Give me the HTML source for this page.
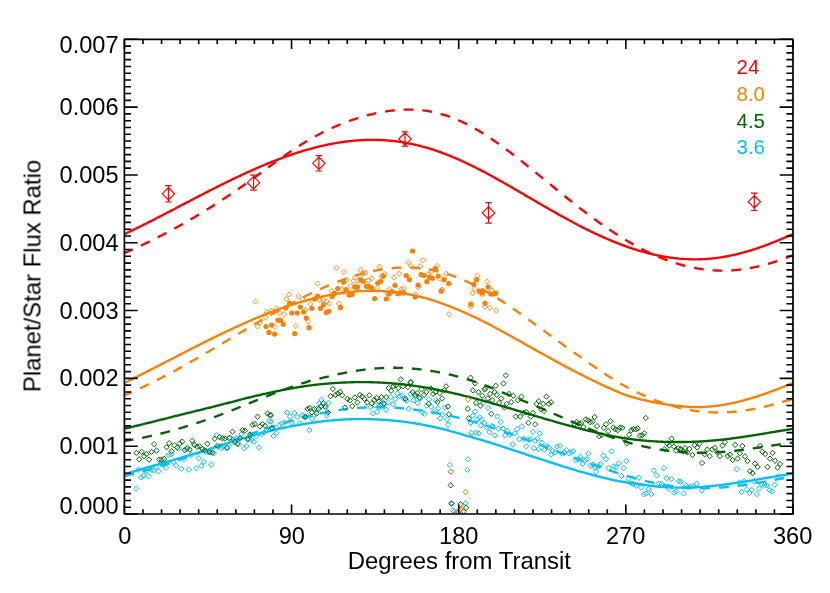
<!DOCTYPE html>
<html><head><meta charset="utf-8"><title>Planet/Star Flux Ratio</title><style>html,body{margin:0;padding:0;background:#fff}svg{display:block}text{font-family:"Liberation Sans",sans-serif}</style></head><body>
<svg width="830" height="593" viewBox="0 0 830 593">
<rect width="830" height="593" fill="#fff"/>
<defs><clipPath id="c"><rect x="124.8" y="39.0" width="667.90" height="474.60"/></clipPath></defs>
<g clip-path="url(#c)">
<path d="M133.4,488.8L136.0,486.1L138.7,488.8L136.0,491.4Z" fill="none" stroke="#00bfff" stroke-width="1.0"/>
<path d="M135.8,469.7L138.5,467.0L141.1,469.7L138.5,472.3Z" fill="none" stroke="#00bfff" stroke-width="1.0"/>
<path d="M138.4,477.3L141.1,474.7L143.7,477.3L141.1,480.0Z" fill="none" stroke="#00bfff" stroke-width="1.0"/>
<path d="M140.8,475.7L143.5,473.1L146.1,475.7L143.5,478.4Z" fill="none" stroke="#00bfff" stroke-width="1.0"/>
<path d="M143.4,471.3L146.1,468.7L148.7,471.3L146.1,474.0Z" fill="none" stroke="#00bfff" stroke-width="1.0"/>
<path d="M145.8,476.3L148.5,473.7L151.1,476.3L148.5,479.0Z" fill="none" stroke="#00bfff" stroke-width="1.0"/>
<path d="M148.5,469.7L151.1,467.0L153.8,469.7L151.1,472.3Z" fill="none" stroke="#00bfff" stroke-width="1.0"/>
<path d="M151.1,470.3L153.7,467.7L156.4,470.3L153.7,473.0Z" fill="none" stroke="#00bfff" stroke-width="1.0"/>
<path d="M153.5,467.3L156.1,464.6L158.8,467.3L156.1,469.9Z" fill="none" stroke="#00bfff" stroke-width="1.0"/>
<path d="M155.9,471.3L158.5,468.7L161.2,471.3L158.5,474.0Z" fill="none" stroke="#00bfff" stroke-width="1.0"/>
<path d="M158.5,463.3L161.1,460.6L163.8,463.3L161.1,465.9Z" fill="none" stroke="#00bfff" stroke-width="1.0"/>
<path d="M160.9,464.3L163.6,461.6L166.2,464.3L163.6,466.9Z" fill="none" stroke="#00bfff" stroke-width="1.0"/>
<path d="M163.5,467.7L166.2,465.0L168.8,467.7L166.2,470.3Z" fill="none" stroke="#00bfff" stroke-width="1.0"/>
<path d="M165.9,455.2L168.6,452.6L171.2,455.2L168.6,457.9Z" fill="none" stroke="#00bfff" stroke-width="1.0"/>
<path d="M168.5,454.2L171.2,451.6L173.8,454.2L171.2,456.9Z" fill="none" stroke="#00bfff" stroke-width="1.0"/>
<path d="M170.9,462.3L173.6,459.6L176.2,462.3L173.6,464.9Z" fill="none" stroke="#00bfff" stroke-width="1.0"/>
<path d="M173.6,465.7L176.2,463.0L178.9,465.7L176.2,468.3Z" fill="none" stroke="#00bfff" stroke-width="1.0"/>
<path d="M176.0,448.8L178.6,446.2L181.3,448.8L178.6,451.5Z" fill="none" stroke="#00bfff" stroke-width="1.0"/>
<path d="M178.6,468.9L181.2,466.2L183.9,468.9L181.2,471.5Z" fill="none" stroke="#00bfff" stroke-width="1.0"/>
<path d="M181.0,459.3L183.6,456.6L186.3,459.3L183.6,461.9Z" fill="none" stroke="#00bfff" stroke-width="1.0"/>
<path d="M183.6,449.2L186.2,446.6L188.9,449.2L186.2,451.9Z" fill="none" stroke="#00bfff" stroke-width="1.0"/>
<path d="M186.0,469.7L188.7,467.0L191.3,469.7L188.7,472.3Z" fill="none" stroke="#00bfff" stroke-width="1.0"/>
<path d="M188.6,454.8L191.3,452.2L193.9,454.8L191.3,457.5Z" fill="none" stroke="#00bfff" stroke-width="1.0"/>
<path d="M191.0,444.2L193.7,441.5L196.3,444.2L193.7,446.8Z" fill="none" stroke="#00bfff" stroke-width="1.0"/>
<path d="M193.6,468.3L196.3,465.6L198.9,468.3L196.3,470.9Z" fill="none" stroke="#00bfff" stroke-width="1.0"/>
<path d="M196.0,458.3L198.7,455.6L201.3,458.3L198.7,460.9Z" fill="none" stroke="#00bfff" stroke-width="1.0"/>
<path d="M198.7,465.9L201.3,463.2L204.0,465.9L201.3,468.5Z" fill="none" stroke="#00bfff" stroke-width="1.0"/>
<path d="M201.1,461.9L203.7,459.2L206.4,461.9L203.7,464.5Z" fill="none" stroke="#00bfff" stroke-width="1.0"/>
<path d="M203.7,452.2L206.3,449.6L209.0,452.2L206.3,454.9Z" fill="none" stroke="#00bfff" stroke-width="1.0"/>
<path d="M206.1,451.8L208.7,449.2L211.4,451.8L208.7,454.5Z" fill="none" stroke="#00bfff" stroke-width="1.0"/>
<path d="M208.7,464.7L211.3,462.0L214.0,464.7L211.3,467.3Z" fill="none" stroke="#00bfff" stroke-width="1.0"/>
<path d="M211.1,453.2L213.8,450.6L216.4,453.2L213.8,455.9Z" fill="none" stroke="#00bfff" stroke-width="1.0"/>
<path d="M213.7,435.2L216.4,432.5L219.0,435.2L216.4,437.8Z" fill="none" stroke="#00bfff" stroke-width="1.0"/>
<path d="M216.1,446.8L218.8,444.2L221.4,446.8L218.8,449.5Z" fill="none" stroke="#00bfff" stroke-width="1.0"/>
<path d="M218.7,448.2L221.4,445.6L224.0,448.2L221.4,450.9Z" fill="none" stroke="#00bfff" stroke-width="1.0"/>
<path d="M221.1,446.8L223.8,444.2L226.4,446.8L223.8,449.5Z" fill="none" stroke="#00bfff" stroke-width="1.0"/>
<path d="M223.8,448.2L226.4,445.6L229.1,448.2L226.4,450.9Z" fill="none" stroke="#00bfff" stroke-width="1.0"/>
<path d="M226.2,438.2L228.8,435.5L231.5,438.2L228.8,440.8Z" fill="none" stroke="#00bfff" stroke-width="1.0"/>
<path d="M228.8,443.2L231.4,440.5L234.1,443.2L231.4,445.8Z" fill="none" stroke="#00bfff" stroke-width="1.0"/>
<path d="M231.2,439.2L233.8,436.5L236.5,439.2L233.8,441.8Z" fill="none" stroke="#00bfff" stroke-width="1.0"/>
<path d="M233.8,438.2L236.4,435.5L239.1,438.2L236.4,440.8Z" fill="none" stroke="#00bfff" stroke-width="1.0"/>
<path d="M236.2,444.2L238.9,441.5L241.5,444.2L238.9,446.8Z" fill="none" stroke="#00bfff" stroke-width="1.0"/>
<path d="M238.8,434.2L241.5,431.5L244.1,434.2L241.5,436.8Z" fill="none" stroke="#00bfff" stroke-width="1.0"/>
<path d="M241.2,448.2L243.9,445.6L246.5,448.2L243.9,450.9Z" fill="none" stroke="#00bfff" stroke-width="1.0"/>
<path d="M243.8,446.2L246.5,443.6L249.1,446.2L246.5,448.9Z" fill="none" stroke="#00bfff" stroke-width="1.0"/>
<path d="M246.2,439.2L248.9,436.5L251.5,439.2L248.9,441.8Z" fill="none" stroke="#00bfff" stroke-width="1.0"/>
<path d="M248.9,440.2L251.5,437.5L254.2,440.2L251.5,442.8Z" fill="none" stroke="#00bfff" stroke-width="1.0"/>
<path d="M251.3,441.8L253.9,439.1L256.6,441.8L253.9,444.4Z" fill="none" stroke="#00bfff" stroke-width="1.0"/>
<path d="M253.9,436.2L256.5,433.5L259.2,436.2L256.5,438.8Z" fill="none" stroke="#00bfff" stroke-width="1.0"/>
<path d="M256.3,447.6L258.9,445.0L261.6,447.6L258.9,450.3Z" fill="none" stroke="#00bfff" stroke-width="1.0"/>
<path d="M258.9,434.2L261.6,431.5L264.2,434.2L261.6,436.8Z" fill="none" stroke="#00bfff" stroke-width="1.0"/>
<path d="M261.3,432.6L264.0,429.9L266.6,432.6L264.0,435.2Z" fill="none" stroke="#00bfff" stroke-width="1.0"/>
<path d="M263.9,430.1L266.6,427.5L269.2,430.1L266.6,432.8Z" fill="none" stroke="#00bfff" stroke-width="1.0"/>
<path d="M266.3,421.1L269.0,418.5L271.6,421.1L269.0,423.8Z" fill="none" stroke="#00bfff" stroke-width="1.0"/>
<path d="M268.3,421.5L270.9,418.9L273.6,421.5L270.9,424.2Z" fill="none" stroke="#00bfff" stroke-width="1.0"/>
<path d="M269.2,427.8L271.8,425.2L274.5,427.8L271.8,430.5Z" fill="none" stroke="#00bfff" stroke-width="1.0"/>
<path d="M271.0,436.0L273.6,433.3L276.3,436.0L273.6,438.6Z" fill="none" stroke="#00bfff" stroke-width="1.0"/>
<path d="M273.7,433.3L276.3,430.6L279.0,433.3L276.3,435.9Z" fill="none" stroke="#00bfff" stroke-width="1.0"/>
<path d="M276.4,425.1L279.0,422.5L281.7,425.1L279.0,427.8Z" fill="none" stroke="#00bfff" stroke-width="1.0"/>
<path d="M279.1,423.3L281.7,420.7L284.4,423.3L281.7,426.0Z" fill="none" stroke="#00bfff" stroke-width="1.0"/>
<path d="M281.8,422.4L284.5,419.8L287.1,422.4L284.5,425.1Z" fill="none" stroke="#00bfff" stroke-width="1.0"/>
<path d="M284.5,412.5L287.2,409.8L289.8,412.5L287.2,415.1Z" fill="none" stroke="#00bfff" stroke-width="1.0"/>
<path d="M287.2,416.6L289.9,414.0L292.5,416.6L289.9,419.3Z" fill="none" stroke="#00bfff" stroke-width="1.0"/>
<path d="M289.0,422.4L291.7,419.8L294.3,422.4L291.7,425.1Z" fill="none" stroke="#00bfff" stroke-width="1.0"/>
<path d="M291.7,413.0L294.4,410.4L297.0,413.0L294.4,415.7Z" fill="none" stroke="#00bfff" stroke-width="1.0"/>
<path d="M294.5,417.0L297.1,414.3L299.8,417.0L297.1,419.6Z" fill="none" stroke="#00bfff" stroke-width="1.0"/>
<path d="M297.2,423.3L299.8,420.7L302.5,423.3L299.8,426.0Z" fill="none" stroke="#00bfff" stroke-width="1.0"/>
<path d="M299.9,415.2L302.5,412.5L305.2,415.2L302.5,417.8Z" fill="none" stroke="#00bfff" stroke-width="1.0"/>
<path d="M301.7,417.0L304.3,414.3L307.0,417.0L304.3,419.6Z" fill="none" stroke="#00bfff" stroke-width="1.0"/>
<path d="M304.4,416.1L307.1,413.4L309.7,416.1L307.1,418.7Z" fill="none" stroke="#00bfff" stroke-width="1.0"/>
<path d="M306.7,430.0L309.4,427.4L312.0,430.0L309.4,432.7Z" fill="none" stroke="#00bfff" stroke-width="1.0"/>
<path d="M309.3,418.8L311.9,416.1L314.6,418.8L311.9,421.4Z" fill="none" stroke="#00bfff" stroke-width="1.0"/>
<path d="M311.6,415.2L314.3,412.5L316.9,415.2L314.3,417.8Z" fill="none" stroke="#00bfff" stroke-width="1.0"/>
<path d="M314.0,408.9L316.6,406.2L319.3,408.9L316.6,411.5Z" fill="none" stroke="#00bfff" stroke-width="1.0"/>
<path d="M316.5,403.4L319.2,400.8L321.8,403.4L319.2,406.1Z" fill="none" stroke="#00bfff" stroke-width="1.0"/>
<path d="M318.9,399.8L321.5,397.2L324.2,399.8L321.5,402.5Z" fill="none" stroke="#00bfff" stroke-width="1.0"/>
<path d="M321.6,406.1L324.2,403.5L326.9,406.1L324.2,408.8Z" fill="none" stroke="#00bfff" stroke-width="1.0"/>
<path d="M324.3,415.2L326.9,412.5L329.6,415.2L326.9,417.8Z" fill="none" stroke="#00bfff" stroke-width="1.0"/>
<path d="M326.1,403.1L328.7,400.4L331.4,403.1L328.7,405.7Z" fill="none" stroke="#00bfff" stroke-width="1.0"/>
<path d="M367.7,407.1L370.3,404.4L373.0,407.1L370.3,409.7Z" fill="none" stroke="#00bfff" stroke-width="1.0"/>
<path d="M370.0,413.4L372.7,410.7L375.3,413.4L372.7,416.0Z" fill="none" stroke="#00bfff" stroke-width="1.0"/>
<path d="M372.2,405.2L374.8,402.6L377.5,405.2L374.8,407.9Z" fill="none" stroke="#00bfff" stroke-width="1.0"/>
<path d="M374.5,411.9L377.2,409.3L379.8,411.9L377.2,414.6Z" fill="none" stroke="#00bfff" stroke-width="1.0"/>
<path d="M376.7,407.1L379.3,404.4L382.0,407.1L379.3,409.7Z" fill="none" stroke="#00bfff" stroke-width="1.0"/>
<path d="M379.0,402.2L381.7,399.5L384.3,402.2L381.7,404.8Z" fill="none" stroke="#00bfff" stroke-width="1.0"/>
<path d="M381.2,404.3L383.9,401.7L386.5,404.3L383.9,407.0Z" fill="none" stroke="#00bfff" stroke-width="1.0"/>
<path d="M383.4,409.8L386.0,407.1L388.7,409.8L386.0,412.4Z" fill="none" stroke="#00bfff" stroke-width="1.0"/>
<path d="M385.7,402.5L388.4,399.9L391.0,402.5L388.4,405.2Z" fill="none" stroke="#00bfff" stroke-width="1.0"/>
<path d="M388.1,397.1L390.7,394.5L393.4,397.1L390.7,399.8Z" fill="none" stroke="#00bfff" stroke-width="1.0"/>
<path d="M390.2,404.3L392.9,401.7L395.5,404.3L392.9,407.0Z" fill="none" stroke="#00bfff" stroke-width="1.0"/>
<path d="M392.6,398.9L395.2,396.3L397.9,398.9L395.2,401.6Z" fill="none" stroke="#00bfff" stroke-width="1.0"/>
<path d="M394.8,393.5L397.4,390.8L400.1,393.5L397.4,396.1Z" fill="none" stroke="#00bfff" stroke-width="1.0"/>
<path d="M397.1,396.2L399.8,393.6L402.4,396.2L399.8,398.9Z" fill="none" stroke="#00bfff" stroke-width="1.0"/>
<path d="M399.3,395.3L401.9,392.7L404.6,395.3L401.9,398.0Z" fill="none" stroke="#00bfff" stroke-width="1.0"/>
<path d="M401.5,398.9L404.1,396.3L406.8,398.9L404.1,401.6Z" fill="none" stroke="#00bfff" stroke-width="1.0"/>
<path d="M403.8,400.7L406.5,398.1L409.1,400.7L406.5,403.4Z" fill="none" stroke="#00bfff" stroke-width="1.0"/>
<path d="M406.2,408.9L408.8,406.2L411.5,408.9L408.8,411.5Z" fill="none" stroke="#00bfff" stroke-width="1.0"/>
<path d="M408.3,393.9L410.9,391.3L413.6,393.9L410.9,396.6Z" fill="none" stroke="#00bfff" stroke-width="1.0"/>
<path d="M410.6,400.2L413.3,397.6L415.9,400.2L413.3,402.9Z" fill="none" stroke="#00bfff" stroke-width="1.0"/>
<path d="M412.8,396.6L415.4,394.0L418.1,396.6L415.4,399.3Z" fill="none" stroke="#00bfff" stroke-width="1.0"/>
<path d="M414.9,403.0L417.6,400.3L420.2,403.0L417.6,405.6Z" fill="none" stroke="#00bfff" stroke-width="1.0"/>
<path d="M417.3,398.4L419.9,395.8L422.6,398.4L419.9,401.1Z" fill="none" stroke="#00bfff" stroke-width="1.0"/>
<path d="M419.6,412.4L422.3,409.7L424.9,412.4L422.3,415.0Z" fill="none" stroke="#00bfff" stroke-width="1.0"/>
<path d="M421.8,413.8L424.5,411.1L427.1,413.8L424.5,416.4Z" fill="none" stroke="#00bfff" stroke-width="1.0"/>
<path d="M424.0,405.7L426.6,403.0L429.3,405.7L426.6,408.3Z" fill="none" stroke="#00bfff" stroke-width="1.0"/>
<path d="M426.3,399.3L429.0,396.7L431.6,399.3L429.0,402.0Z" fill="none" stroke="#00bfff" stroke-width="1.0"/>
<path d="M428.7,406.6L431.3,403.9L434.0,406.6L431.3,409.2Z" fill="none" stroke="#00bfff" stroke-width="1.0"/>
<path d="M430.8,412.0L433.5,409.3L436.1,412.0L433.5,414.6Z" fill="none" stroke="#00bfff" stroke-width="1.0"/>
<path d="M433.2,400.2L435.8,397.6L438.5,400.2L435.8,402.9Z" fill="none" stroke="#00bfff" stroke-width="1.0"/>
<path d="M435.4,408.4L438.0,405.7L440.7,408.4L438.0,411.0Z" fill="none" stroke="#00bfff" stroke-width="1.0"/>
<path d="M437.7,418.3L440.4,415.7L443.0,418.3L440.4,421.0Z" fill="none" stroke="#00bfff" stroke-width="1.0"/>
<path d="M439.9,414.7L442.5,412.1L445.2,414.7L442.5,417.4Z" fill="none" stroke="#00bfff" stroke-width="1.0"/>
<path d="M442.1,407.5L444.7,404.8L447.4,407.5L444.7,410.1Z" fill="none" stroke="#00bfff" stroke-width="1.0"/>
<path d="M444.4,419.2L447.1,416.6L449.7,419.2L447.1,421.9Z" fill="none" stroke="#00bfff" stroke-width="1.0"/>
<path d="M445.3,424.6L448.0,422.0L450.6,424.6L448.0,427.3Z" fill="none" stroke="#00bfff" stroke-width="1.0"/>
<path d="M467.9,422.8L470.5,420.2L473.2,422.8L470.5,425.5Z" fill="none" stroke="#00bfff" stroke-width="1.0"/>
<path d="M468.8,432.8L471.4,430.1L474.1,432.8L471.4,435.4Z" fill="none" stroke="#00bfff" stroke-width="1.0"/>
<path d="M470.2,415.6L472.9,413.0L475.5,415.6L472.9,418.3Z" fill="none" stroke="#00bfff" stroke-width="1.0"/>
<path d="M472.4,411.6L475.1,409.0L477.7,411.6L475.1,414.3Z" fill="none" stroke="#00bfff" stroke-width="1.0"/>
<path d="M473.3,432.8L476.0,430.1L478.6,432.8L476.0,435.4Z" fill="none" stroke="#00bfff" stroke-width="1.0"/>
<path d="M474.6,419.2L477.2,416.6L479.9,419.2L477.2,421.9Z" fill="none" stroke="#00bfff" stroke-width="1.0"/>
<path d="M476.0,433.3L478.7,430.7L481.3,433.3L478.7,436.0Z" fill="none" stroke="#00bfff" stroke-width="1.0"/>
<path d="M476.9,417.4L479.6,414.8L482.2,417.4L479.6,420.1Z" fill="none" stroke="#00bfff" stroke-width="1.0"/>
<path d="M478.2,425.5L480.8,422.9L483.5,425.5L480.8,428.2Z" fill="none" stroke="#00bfff" stroke-width="1.0"/>
<path d="M479.3,420.1L481.9,417.5L484.6,420.1L481.9,422.8Z" fill="none" stroke="#00bfff" stroke-width="1.0"/>
<path d="M480.5,403.0L483.2,400.3L485.8,403.0L483.2,405.6Z" fill="none" stroke="#00bfff" stroke-width="1.0"/>
<path d="M481.8,422.8L484.5,420.2L487.1,422.8L484.5,425.5Z" fill="none" stroke="#00bfff" stroke-width="1.0"/>
<path d="M484.2,427.4L486.8,424.7L489.5,427.4L486.8,430.0Z" fill="none" stroke="#00bfff" stroke-width="1.0"/>
<path d="M485.4,408.0L488.1,405.4L490.7,408.0L488.1,410.7Z" fill="none" stroke="#00bfff" stroke-width="1.0"/>
<path d="M486.9,432.2L489.5,429.6L492.2,432.2L489.5,434.9Z" fill="none" stroke="#00bfff" stroke-width="1.0"/>
<path d="M489.0,426.4L491.7,423.8L494.3,426.4L491.7,429.1Z" fill="none" stroke="#00bfff" stroke-width="1.0"/>
<path d="M490.1,426.4L492.8,423.8L495.4,426.4L492.8,429.1Z" fill="none" stroke="#00bfff" stroke-width="1.0"/>
<path d="M492.3,435.5L494.9,432.8L497.6,435.5L494.9,438.1Z" fill="none" stroke="#00bfff" stroke-width="1.0"/>
<path d="M494.6,416.5L497.3,413.9L499.9,416.5L497.3,419.2Z" fill="none" stroke="#00bfff" stroke-width="1.0"/>
<path d="M495.9,428.6L498.6,426.0L501.2,428.6L498.6,431.3Z" fill="none" stroke="#00bfff" stroke-width="1.0"/>
<path d="M498.1,421.9L500.7,419.3L503.4,421.9L500.7,424.6Z" fill="none" stroke="#00bfff" stroke-width="1.0"/>
<path d="M500.4,428.6L503.1,426.0L505.7,428.6L503.1,431.3Z" fill="none" stroke="#00bfff" stroke-width="1.0"/>
<path d="M502.6,435.5L505.2,432.8L507.9,435.5L505.2,438.1Z" fill="none" stroke="#00bfff" stroke-width="1.0"/>
<path d="M504.9,431.0L507.6,428.3L510.2,431.0L507.6,433.6Z" fill="none" stroke="#00bfff" stroke-width="1.0"/>
<path d="M507.1,434.6L509.8,431.9L512.4,434.6L509.8,437.2Z" fill="none" stroke="#00bfff" stroke-width="1.0"/>
<path d="M510.0,444.2L512.7,441.5L515.3,444.2L512.7,446.8Z" fill="none" stroke="#00bfff" stroke-width="1.0"/>
<path d="M512.2,433.3L514.8,430.7L517.5,433.3L514.8,436.0Z" fill="none" stroke="#00bfff" stroke-width="1.0"/>
<path d="M514.5,429.2L517.2,426.5L519.8,429.2L517.2,431.8Z" fill="none" stroke="#00bfff" stroke-width="1.0"/>
<path d="M516.7,439.1L519.3,436.5L522.0,439.1L519.3,441.8Z" fill="none" stroke="#00bfff" stroke-width="1.0"/>
<path d="M519.0,426.4L521.7,423.8L524.3,426.4L521.7,429.1Z" fill="none" stroke="#00bfff" stroke-width="1.0"/>
<path d="M521.2,438.7L523.9,436.1L526.5,438.7L523.9,441.4Z" fill="none" stroke="#00bfff" stroke-width="1.0"/>
<path d="M523.6,446.3L526.2,443.7L528.9,446.3L526.2,449.0Z" fill="none" stroke="#00bfff" stroke-width="1.0"/>
<path d="M525.7,439.5L528.4,436.8L531.0,439.5L528.4,442.1Z" fill="none" stroke="#00bfff" stroke-width="1.0"/>
<path d="M528.1,439.1L530.7,436.5L533.4,439.1L530.7,441.8Z" fill="none" stroke="#00bfff" stroke-width="1.0"/>
<path d="M530.2,431.9L532.9,429.2L535.5,431.9L532.9,434.5Z" fill="none" stroke="#00bfff" stroke-width="1.0"/>
<path d="M531.2,448.1L533.8,445.5L536.5,448.1L533.8,450.8Z" fill="none" stroke="#00bfff" stroke-width="1.0"/>
<path d="M532.6,440.9L535.2,438.3L537.9,440.9L535.2,443.6Z" fill="none" stroke="#00bfff" stroke-width="1.0"/>
<path d="M534.8,438.7L537.4,436.1L540.1,438.7L537.4,441.4Z" fill="none" stroke="#00bfff" stroke-width="1.0"/>
<path d="M536.0,449.0L538.7,446.4L541.3,449.0L538.7,451.7Z" fill="none" stroke="#00bfff" stroke-width="1.0"/>
<path d="M537.1,433.3L539.8,430.7L542.4,433.3L539.8,436.0Z" fill="none" stroke="#00bfff" stroke-width="1.0"/>
<path d="M539.3,442.7L541.9,440.1L544.6,442.7L541.9,445.4Z" fill="none" stroke="#00bfff" stroke-width="1.0"/>
<path d="M541.6,449.9L544.3,447.3L546.9,449.9L544.3,452.6Z" fill="none" stroke="#00bfff" stroke-width="1.0"/>
<path d="M543.8,446.3L546.5,443.7L549.1,446.3L546.5,449.0Z" fill="none" stroke="#00bfff" stroke-width="1.0"/>
<path d="M546.2,447.2L548.8,444.6L551.5,447.2L548.8,449.9Z" fill="none" stroke="#00bfff" stroke-width="1.0"/>
<path d="M548.3,454.6L550.9,452.0L553.6,454.6L550.9,457.3Z" fill="none" stroke="#00bfff" stroke-width="1.0"/>
<path d="M550.1,451.0L552.7,448.4L555.4,451.0L552.7,453.7Z" fill="none" stroke="#00bfff" stroke-width="1.0"/>
<path d="M552.4,452.5L555.1,449.8L557.7,452.5L555.1,455.1Z" fill="none" stroke="#00bfff" stroke-width="1.0"/>
<path d="M554.6,446.5L557.2,443.9L559.9,446.5L557.2,449.2Z" fill="none" stroke="#00bfff" stroke-width="1.0"/>
<path d="M557.3,446.0L559.9,443.3L562.6,446.0L559.9,448.6Z" fill="none" stroke="#00bfff" stroke-width="1.0"/>
<path d="M559.6,453.7L562.3,451.1L564.9,453.7L562.3,456.4Z" fill="none" stroke="#00bfff" stroke-width="1.0"/>
<path d="M561.8,452.5L564.5,449.8L567.1,452.5L564.5,455.1Z" fill="none" stroke="#00bfff" stroke-width="1.0"/>
<path d="M564.0,450.1L566.6,447.5L569.3,450.1L566.6,452.8Z" fill="none" stroke="#00bfff" stroke-width="1.0"/>
<path d="M566.3,453.2L569.0,450.5L571.6,453.2L569.0,455.8Z" fill="none" stroke="#00bfff" stroke-width="1.0"/>
<path d="M568.7,452.5L571.3,449.8L574.0,452.5L571.3,455.1Z" fill="none" stroke="#00bfff" stroke-width="1.0"/>
<path d="M570.8,451.0L573.5,448.4L576.1,451.0L573.5,453.7Z" fill="none" stroke="#00bfff" stroke-width="1.0"/>
<path d="M573.2,460.1L575.8,457.4L578.5,460.1L575.8,462.7Z" fill="none" stroke="#00bfff" stroke-width="1.0"/>
<path d="M575.4,459.2L578.0,456.5L580.7,459.2L578.0,461.8Z" fill="none" stroke="#00bfff" stroke-width="1.0"/>
<path d="M577.7,456.8L580.4,454.2L583.0,456.8L580.4,459.5Z" fill="none" stroke="#00bfff" stroke-width="1.0"/>
<path d="M579.9,464.0L582.5,461.4L585.2,464.0L582.5,466.7Z" fill="none" stroke="#00bfff" stroke-width="1.0"/>
<path d="M582.2,460.4L584.9,457.8L587.5,460.4L584.9,463.1Z" fill="none" stroke="#00bfff" stroke-width="1.0"/>
<path d="M584.4,459.2L587.1,456.5L589.7,459.2L587.1,461.8Z" fill="none" stroke="#00bfff" stroke-width="1.0"/>
<path d="M585.7,453.7L588.3,451.1L591.0,453.7L588.3,456.4Z" fill="none" stroke="#00bfff" stroke-width="1.0"/>
<path d="M588.0,465.5L590.7,462.8L593.3,465.5L590.7,468.1Z" fill="none" stroke="#00bfff" stroke-width="1.0"/>
<path d="M590.4,464.6L593.0,461.9L595.7,464.6L593.0,467.2Z" fill="none" stroke="#00bfff" stroke-width="1.0"/>
<path d="M592.5,467.3L595.2,464.6L597.8,467.3L595.2,469.9Z" fill="none" stroke="#00bfff" stroke-width="1.0"/>
<path d="M593.4,471.8L596.1,469.2L598.7,471.8L596.1,474.5Z" fill="none" stroke="#00bfff" stroke-width="1.0"/>
<path d="M595.8,466.4L598.4,463.7L601.1,466.4L598.4,469.0Z" fill="none" stroke="#00bfff" stroke-width="1.0"/>
<path d="M598.0,464.0L600.6,461.4L603.3,464.0L600.6,466.7Z" fill="none" stroke="#00bfff" stroke-width="1.0"/>
<path d="M600.7,455.5L603.3,452.9L606.0,455.5L603.3,458.2Z" fill="none" stroke="#00bfff" stroke-width="1.0"/>
<path d="M603.4,459.2L606.0,456.5L608.7,459.2L606.0,461.8Z" fill="none" stroke="#00bfff" stroke-width="1.0"/>
<path d="M606.1,468.2L608.7,465.5L611.4,468.2L608.7,470.8Z" fill="none" stroke="#00bfff" stroke-width="1.0"/>
<path d="M608.8,451.4L611.4,448.7L614.1,451.4L611.4,454.0Z" fill="none" stroke="#00bfff" stroke-width="1.0"/>
<path d="M611.0,466.4L613.6,463.7L616.3,466.4L613.6,469.0Z" fill="none" stroke="#00bfff" stroke-width="1.0"/>
<path d="M613.3,467.3L616.0,464.6L618.6,467.3L616.0,469.9Z" fill="none" stroke="#00bfff" stroke-width="1.0"/>
<path d="M616.0,463.3L618.7,460.7L621.3,463.3L618.7,466.0Z" fill="none" stroke="#00bfff" stroke-width="1.0"/>
<path d="M618.7,476.0L621.4,473.3L624.0,476.0L621.4,478.6Z" fill="none" stroke="#00bfff" stroke-width="1.0"/>
<path d="M621.1,468.2L623.7,465.5L626.4,468.2L623.7,470.8Z" fill="none" stroke="#00bfff" stroke-width="1.0"/>
<path d="M623.6,461.0L626.3,458.3L628.9,461.0L626.3,463.6Z" fill="none" stroke="#00bfff" stroke-width="1.0"/>
<path d="M626.0,478.5L628.6,475.8L631.3,478.5L628.6,481.1Z" fill="none" stroke="#00bfff" stroke-width="1.0"/>
<path d="M628.7,483.6L631.3,480.9L634.0,483.6L631.3,486.2Z" fill="none" stroke="#00bfff" stroke-width="1.0"/>
<path d="M630.8,483.9L633.5,481.3L636.1,483.9L633.5,486.6Z" fill="none" stroke="#00bfff" stroke-width="1.0"/>
<path d="M633.7,485.7L636.4,483.1L639.0,485.7L636.4,488.4Z" fill="none" stroke="#00bfff" stroke-width="1.0"/>
<path d="M636.3,477.8L638.9,475.1L641.6,477.8L638.9,480.4Z" fill="none" stroke="#00bfff" stroke-width="1.0"/>
<path d="M638.6,487.5L641.3,484.9L643.9,487.5L641.3,490.2Z" fill="none" stroke="#00bfff" stroke-width="1.0"/>
<path d="M641.0,494.4L643.6,491.8L646.3,494.4L643.6,497.1Z" fill="none" stroke="#00bfff" stroke-width="1.0"/>
<path d="M643.1,493.5L645.8,490.8L648.4,493.5L645.8,496.1Z" fill="none" stroke="#00bfff" stroke-width="1.0"/>
<path d="M645.8,489.0L648.5,486.3L651.1,489.0L648.5,491.6Z" fill="none" stroke="#00bfff" stroke-width="1.0"/>
<path d="M648.6,494.0L651.2,491.4L653.9,494.0L651.2,496.7Z" fill="none" stroke="#00bfff" stroke-width="1.0"/>
<path d="M651.3,470.5L653.9,467.9L656.6,470.5L653.9,473.2Z" fill="none" stroke="#00bfff" stroke-width="1.0"/>
<path d="M654.0,475.4L656.6,472.8L659.3,475.4L656.6,478.1Z" fill="none" stroke="#00bfff" stroke-width="1.0"/>
<path d="M656.7,483.6L659.3,480.9L662.0,483.6L659.3,486.2Z" fill="none" stroke="#00bfff" stroke-width="1.0"/>
<path d="M659.0,483.9L661.7,481.3L664.3,483.9L661.7,486.6Z" fill="none" stroke="#00bfff" stroke-width="1.0"/>
<path d="M661.2,468.2L663.9,465.5L666.5,468.2L663.9,470.8Z" fill="none" stroke="#00bfff" stroke-width="1.0"/>
<path d="M663.9,478.1L666.6,475.5L669.2,478.1L666.6,480.8Z" fill="none" stroke="#00bfff" stroke-width="1.0"/>
<path d="M666.3,489.0L668.9,486.3L671.6,489.0L668.9,491.6Z" fill="none" stroke="#00bfff" stroke-width="1.0"/>
<path d="M668.8,479.0L671.5,476.4L674.1,479.0L671.5,481.7Z" fill="none" stroke="#00bfff" stroke-width="1.0"/>
<path d="M671.2,492.6L673.8,489.9L676.5,492.6L673.8,495.2Z" fill="none" stroke="#00bfff" stroke-width="1.0"/>
<path d="M673.5,491.7L676.2,489.0L678.8,491.7L676.2,494.3Z" fill="none" stroke="#00bfff" stroke-width="1.0"/>
<path d="M676.0,481.4L678.7,478.7L681.3,481.4L678.7,484.0Z" fill="none" stroke="#00bfff" stroke-width="1.0"/>
<path d="M678.1,481.8L680.7,479.2L683.4,481.8L680.7,484.5Z" fill="none" stroke="#00bfff" stroke-width="1.0"/>
<path d="M681.0,493.4L683.6,490.8L686.3,493.4L683.6,496.1Z" fill="none" stroke="#00bfff" stroke-width="1.0"/>
<path d="M683.2,485.4L685.8,482.8L688.5,485.4L685.8,488.1Z" fill="none" stroke="#00bfff" stroke-width="1.0"/>
<path d="M685.3,486.9L688.0,484.3L690.6,486.9L688.0,489.6Z" fill="none" stroke="#00bfff" stroke-width="1.0"/>
<path d="M688.2,486.9L690.9,484.3L693.5,486.9L690.9,489.6Z" fill="none" stroke="#00bfff" stroke-width="1.0"/>
<path d="M691.1,486.2L693.8,483.5L696.4,486.2L693.8,488.8Z" fill="none" stroke="#00bfff" stroke-width="1.0"/>
<path d="M694.0,483.7L696.7,481.1L699.3,483.7L696.7,486.4Z" fill="none" stroke="#00bfff" stroke-width="1.0"/>
<path d="M699.1,490.5L701.8,487.9L704.4,490.5L701.8,493.2Z" fill="none" stroke="#00bfff" stroke-width="1.0"/>
<path d="M734.2,469.2L736.9,466.5L739.5,469.2L736.9,471.8Z" fill="none" stroke="#00bfff" stroke-width="1.0"/>
<path d="M736.8,482.5L739.5,479.9L742.1,482.5L739.5,485.2Z" fill="none" stroke="#00bfff" stroke-width="1.0"/>
<path d="M739.0,492.0L741.7,489.3L744.3,492.0L741.7,494.6Z" fill="none" stroke="#00bfff" stroke-width="1.0"/>
<path d="M741.6,481.1L744.3,478.4L746.9,481.1L744.3,483.7Z" fill="none" stroke="#00bfff" stroke-width="1.0"/>
<path d="M744.1,489.5L746.7,486.9L749.4,489.5L746.7,492.2Z" fill="none" stroke="#00bfff" stroke-width="1.0"/>
<path d="M746.7,493.0L749.4,490.3L752.0,493.0L749.4,495.6Z" fill="none" stroke="#00bfff" stroke-width="1.0"/>
<path d="M749.2,490.1L751.8,487.4L754.5,490.1L751.8,492.7Z" fill="none" stroke="#00bfff" stroke-width="1.0"/>
<path d="M751.6,481.1L754.3,478.4L756.9,481.1L754.3,483.7Z" fill="none" stroke="#00bfff" stroke-width="1.0"/>
<path d="M754.3,494.2L756.9,491.5L759.6,494.2L756.9,496.8Z" fill="none" stroke="#00bfff" stroke-width="1.0"/>
<path d="M756.7,488.4L759.4,485.7L762.0,488.4L759.4,491.0Z" fill="none" stroke="#00bfff" stroke-width="1.0"/>
<path d="M759.3,484.7L762.0,482.1L764.6,484.7L762.0,487.4Z" fill="none" stroke="#00bfff" stroke-width="1.0"/>
<path d="M761.9,485.2L764.6,482.5L767.2,485.2L764.6,487.8Z" fill="none" stroke="#00bfff" stroke-width="1.0"/>
<path d="M764.4,485.4L767.1,482.8L769.7,485.4L767.1,488.1Z" fill="none" stroke="#00bfff" stroke-width="1.0"/>
<path d="M767.0,490.1L769.7,487.4L772.3,490.1L769.7,492.7Z" fill="none" stroke="#00bfff" stroke-width="1.0"/>
<path d="M769.5,491.3L772.1,488.6L774.8,491.3L772.1,493.9Z" fill="none" stroke="#00bfff" stroke-width="1.0"/>
<path d="M772.0,484.7L774.6,482.1L777.3,484.7L774.6,487.4Z" fill="none" stroke="#00bfff" stroke-width="1.0"/>
<path d="M776.0,476.7L778.7,474.1L781.3,476.7L778.7,479.4Z" fill="none" stroke="#00bfff" stroke-width="1.0"/>
<path d="M447.2,465.0L449.8,462.4L452.4,465.0L449.8,467.6Z" fill="none" stroke="#00bfff" stroke-width="1.0"/>
<path d="M448.0,471.7L450.6,469.1L453.2,471.7L450.6,474.3Z" fill="none" stroke="#00bfff" stroke-width="1.0"/>
<path d="M449.2,503.5L451.9,500.9L454.5,503.5L451.9,506.1Z" fill="none" stroke="#00bfff" stroke-width="1.0"/>
<path d="M465.4,459.2L468.0,456.6L470.6,459.2L468.0,461.8Z" fill="none" stroke="#00bfff" stroke-width="1.0"/>
<path d="M464.9,469.8L467.5,467.2L470.1,469.8L467.5,472.4Z" fill="none" stroke="#00bfff" stroke-width="1.0"/>
<path d="M463.1,503.1L465.7,500.5L468.3,503.1L465.7,505.8Z" fill="none" stroke="#00bfff" stroke-width="1.0"/>
<path d="M450.4,510.2L453.0,507.6L455.6,510.2L453.0,512.9Z" fill="none" stroke="#00bfff" stroke-width="1.0"/>
<path d="M454.0,512.0L456.6,509.4L459.2,512.0L456.6,514.6Z" fill="none" stroke="#00bfff" stroke-width="1.0"/>
<path d="M124.80,474.22 L125.73,473.92 L126.66,473.63 L127.58,473.33 L128.51,473.04 L129.44,472.75 L130.37,472.46 L131.29,472.17 L132.22,471.88 L133.15,471.60 L134.08,471.31 L135.00,471.03 L135.93,470.75 L136.86,470.48 L137.79,470.20 L138.71,469.92 L139.64,469.65 L140.57,469.37 L141.50,469.10 L142.43,468.83 L143.35,468.56 L144.28,468.29 L145.21,468.02 L146.14,467.75 L147.06,467.48 L147.99,467.21 L148.92,466.95 L149.85,466.68 L150.77,466.41 L151.70,466.15 L152.63,465.88 L153.56,465.62 L154.48,465.35 L155.41,465.09 L156.34,464.82 L157.27,464.56 L158.19,464.29 L159.12,464.03 L160.05,463.76 L160.98,463.50 L161.91,463.23 L162.83,462.97 L163.76,462.70 L164.69,462.44 L165.62,462.17 L166.54,461.91 L167.47,461.64 L168.40,461.37 L169.33,461.10 L170.25,460.84 L171.18,460.57 L172.11,460.30 L173.04,460.03 L173.96,459.76 L174.89,459.49 L175.82,459.22 L176.75,458.95 L177.68,458.67 L178.60,458.40 L179.53,458.13 L180.46,457.85 L181.39,457.58 L182.31,457.30 L183.24,457.03 L184.17,456.75 L185.10,456.47 L186.02,456.19 L186.95,455.91 L187.88,455.63 L188.81,455.35 L189.73,455.07 L190.66,454.79 L191.59,454.51 L192.52,454.22 L193.45,453.94 L194.37,453.65 L195.30,453.37 L196.23,453.08 L197.16,452.80 L198.08,452.51 L199.01,452.22 L199.94,451.93 L200.87,451.64 L201.79,451.35 L202.72,451.06 L203.65,450.77 L204.58,450.48 L205.50,450.18 L206.43,449.89 L207.36,449.60 L208.29,449.30 L209.22,449.01 L210.14,448.71 L211.07,448.42 L212.00,448.12 L212.93,447.82 L213.85,447.53 L214.78,447.23 L215.71,446.93 L216.64,446.64 L217.56,446.34 L218.49,446.04 L219.42,445.75 L220.35,445.45 L221.27,445.15 L222.20,444.86 L223.13,444.56 L224.06,444.27 L224.99,443.97 L225.91,443.67 L226.84,443.38 L227.77,443.09 L228.70,442.79 L229.62,442.50 L230.55,442.21 L231.48,441.92 L232.41,441.63 L233.33,441.34 L234.26,441.05 L235.19,440.76 L236.12,440.47 L237.04,440.19 L237.97,439.90 L238.90,439.62 L239.83,439.34 L240.75,439.05 L241.68,438.77 L242.61,438.49 L243.54,438.22 L244.47,437.94 L245.39,437.66 L246.32,437.39 L247.25,437.11 L248.18,436.84 L249.10,436.57 L250.03,436.30 L250.96,436.04 L251.89,435.77 L252.81,435.51 L253.74,435.24 L254.67,434.98 L255.60,434.72 L256.52,434.47 L257.45,434.21 L258.38,433.96 L259.31,433.70 L260.24,433.45 L261.16,433.20 L262.09,432.96 L263.02,432.71 L263.95,432.47 L264.87,432.23 L265.80,431.99 L266.73,431.75 L267.66,431.51 L268.58,431.28 L269.51,431.05 L270.44,430.82 L271.37,430.59 L272.29,430.37 L273.22,430.14 L274.15,429.92 L275.08,429.70 L276.01,429.49 L276.93,429.27 L277.86,429.06 L278.79,428.85 L279.72,428.64 L280.64,428.43 L281.57,428.23 L282.50,428.03 L283.43,427.83 L284.35,427.63 L285.28,427.44 L286.21,427.25 L287.14,427.06 L288.06,426.87 L288.99,426.69 L289.92,426.50 L290.85,426.32 L291.78,426.15 L292.70,425.97 L293.63,425.80 L294.56,425.63 L295.49,425.46 L296.41,425.29 L297.34,425.13 L298.27,424.97 L299.20,424.81 L300.12,424.66 L301.05,424.50 L301.98,424.35 L302.91,424.20 L303.83,424.05 L304.76,423.90 L305.69,423.75 L306.62,423.61 L307.54,423.46 L308.47,423.32 L309.40,423.18 L310.33,423.04 L311.26,422.90 L312.18,422.77 L313.11,422.63 L314.04,422.50 L314.97,422.37 L315.89,422.25 L316.82,422.12 L317.75,422.00 L318.68,421.87 L319.60,421.76 L320.53,421.64 L321.46,421.52 L322.39,421.41 L323.31,421.30 L324.24,421.19 L325.17,421.09 L326.10,420.98 L327.03,420.88 L327.95,420.78 L328.88,420.69 L329.81,420.60 L330.74,420.51 L331.66,420.42 L332.59,420.33 L333.52,420.25 L334.45,420.17 L335.37,420.09 L336.30,420.02 L337.23,419.95 L338.16,419.88 L339.08,419.82 L340.01,419.75 L340.94,419.69 L341.87,419.64 L342.80,419.59 L343.72,419.54 L344.65,419.49 L345.58,419.45 L346.51,419.41 L347.43,419.37 L348.36,419.34 L349.29,419.31 L350.22,419.28 L351.14,419.25 L352.07,419.23 L353.00,419.21 L353.93,419.19 L354.85,419.17 L355.78,419.16 L356.71,419.15 L357.64,419.14 L358.57,419.13 L359.49,419.12 L360.42,419.12 L361.35,419.12 L362.28,419.12 L363.20,419.12 L364.13,419.13 L365.06,419.14 L365.99,419.15 L366.91,419.16 L367.84,419.18 L368.77,419.20 L369.70,419.22 L370.62,419.24 L371.55,419.26 L372.48,419.29 L373.41,419.32 L374.33,419.36 L375.26,419.39 L376.19,419.43 L377.12,419.47 L378.05,419.51 L378.97,419.56 L379.90,419.61 L380.83,419.66 L381.76,419.71 L382.68,419.76 L383.61,419.82 L384.54,419.88 L385.47,419.95 L386.39,420.01 L387.32,420.08 L388.25,420.15 L389.18,420.23 L390.10,420.31 L391.03,420.39 L391.96,420.47 L392.89,420.55 L393.82,420.64 L394.74,420.73 L395.67,420.83 L396.60,420.92 L397.53,421.02 L398.45,421.13 L399.38,421.23 L400.31,421.34 L401.24,421.45 L402.16,421.56 L403.09,421.68 L404.02,421.80 L404.95,421.92 L405.87,422.04 L406.80,422.17 L407.73,422.30 L408.66,422.43 L409.59,422.56 L410.51,422.70 L411.44,422.83 L412.37,422.98 L413.30,423.12 L414.22,423.27 L415.15,423.41 L416.08,423.57 L417.01,423.72 L417.93,423.88 L418.86,424.04 L419.79,424.20 L420.72,424.36 L421.64,424.53 L422.57,424.70 L423.50,424.87 L424.43,425.05 L425.36,425.23 L426.28,425.41 L427.21,425.59 L428.14,425.78 L429.07,425.97 L429.99,426.16 L430.92,426.35 L431.85,426.55 L432.78,426.75 L433.70,426.95 L434.63,427.16 L435.56,427.37 L436.49,427.58 L437.41,427.79 L438.34,428.01 L439.27,428.23 L440.20,428.45 L441.12,428.67 L442.05,428.90 L442.98,429.13 L443.91,429.36 L444.84,429.60 L445.76,429.83 L446.69,430.07 L447.62,430.31 L448.55,430.56 L449.47,430.81 L450.40,431.06 L451.33,431.31 L452.26,431.56 L453.18,431.82 L454.11,432.08 L455.04,432.34 L455.97,432.61 L456.89,432.87 L457.82,433.14 L458.75,433.41 L459.68,433.69 L460.61,433.96 L461.53,434.24 L462.46,434.51 L463.39,434.78 L464.32,435.06 L465.24,435.33 L466.17,435.60 L467.10,435.87 L468.03,436.14 L468.95,436.41 L469.88,436.68 L470.81,436.95 L471.74,437.22 L472.66,437.48 L473.59,437.75 L474.52,438.02 L475.45,438.29 L476.38,438.56 L477.30,438.83 L478.23,439.10 L479.16,439.38 L480.09,439.65 L481.01,439.92 L481.94,440.19 L482.87,440.47 L483.80,440.74 L484.72,441.02 L485.65,441.30 L486.58,441.58 L487.51,441.86 L488.43,442.14 L489.36,442.42 L490.29,442.70 L491.22,442.99 L492.15,443.28 L493.07,443.57 L494.00,443.86 L494.93,444.15 L495.86,444.44 L496.78,444.74 L497.71,445.04 L498.64,445.34 L499.57,445.64 L500.49,445.94 L501.42,446.25 L502.35,446.56 L503.28,446.86 L504.20,447.17 L505.13,447.48 L506.06,447.78 L506.99,448.09 L507.91,448.40 L508.84,448.71 L509.77,449.02 L510.70,449.32 L511.63,449.63 L512.55,449.94 L513.48,450.25 L514.41,450.56 L515.34,450.87 L516.26,451.18 L517.19,451.49 L518.12,451.80 L519.05,452.11 L519.97,452.42 L520.90,452.73 L521.83,453.04 L522.76,453.35 L523.68,453.66 L524.61,453.97 L525.54,454.28 L526.47,454.59 L527.40,454.90 L528.32,455.21 L529.25,455.51 L530.18,455.82 L531.11,456.13 L532.03,456.43 L532.96,456.73 L533.89,457.04 L534.82,457.34 L535.74,457.63 L536.67,457.93 L537.60,458.23 L538.53,458.53 L539.45,458.82 L540.38,459.12 L541.31,459.41 L542.24,459.70 L543.17,460.00 L544.09,460.29 L545.02,460.58 L545.95,460.88 L546.88,461.17 L547.80,461.46 L548.73,461.76 L549.66,462.05 L550.59,462.35 L551.51,462.64 L552.44,462.94 L553.37,463.24 L554.30,463.54 L555.22,463.84 L556.15,464.14 L557.08,464.44 L558.01,464.75 L558.94,465.05 L559.86,465.35 L560.79,465.65 L561.72,465.95 L562.65,466.25 L563.57,466.55 L564.50,466.84 L565.43,467.13 L566.36,467.43 L567.28,467.72 L568.21,468.00 L569.14,468.29 L570.07,468.57 L570.99,468.86 L571.92,469.14 L572.85,469.42 L573.78,469.69 L574.70,469.97 L575.63,470.24 L576.56,470.52 L577.49,470.79 L578.42,471.05 L579.34,471.32 L580.27,471.58 L581.20,471.84 L582.13,472.10 L583.05,472.36 L583.98,472.62 L584.91,472.87 L585.84,473.12 L586.76,473.37 L587.69,473.62 L588.62,473.87 L589.55,474.12 L590.47,474.36 L591.40,474.61 L592.33,474.86 L593.26,475.11 L594.19,475.36 L595.11,475.61 L596.04,475.85 L596.97,476.10 L597.90,476.34 L598.82,476.58 L599.75,476.83 L600.68,477.07 L601.61,477.30 L602.53,477.54 L603.46,477.77 L604.39,478.00 L605.32,478.23 L606.24,478.46 L607.17,478.68 L608.10,478.90 L609.03,479.11 L609.96,479.33 L610.88,479.54 L611.81,479.74 L612.74,479.94 L613.67,480.14 L614.59,480.33 L615.52,480.52 L616.45,480.70 L617.38,480.88 L618.30,481.06 L619.23,481.22 L620.16,481.39 L621.09,481.54 L622.01,481.70 L622.94,481.85 L623.87,481.99 L624.80,482.13 L625.73,482.27 L626.65,482.40 L627.58,482.53 L628.51,482.66 L629.44,482.78 L630.36,482.91 L631.29,483.03 L632.22,483.15 L633.15,483.27 L634.07,483.39 L635.00,483.52 L635.93,483.64 L636.86,483.77 L637.78,483.91 L638.71,484.04 L639.64,484.18 L640.57,484.32 L641.49,484.46 L642.42,484.60 L643.35,484.75 L644.28,484.89 L645.21,485.03 L646.13,485.17 L647.06,485.31 L647.99,485.44 L648.92,485.58 L649.84,485.71 L650.77,485.83 L651.70,485.96 L652.63,486.07 L653.55,486.19 L654.48,486.30 L655.41,486.40 L656.34,486.49 L657.26,486.58 L658.19,486.66 L659.12,486.74 L660.05,486.82 L660.98,486.89 L661.90,486.95 L662.83,487.02 L663.76,487.08 L664.69,487.14 L665.61,487.20 L666.54,487.25 L667.47,487.30 L668.40,487.34 L669.32,487.39 L670.25,487.43 L671.18,487.46 L672.11,487.50 L673.03,487.53 L673.96,487.55 L674.89,487.58 L675.82,487.60 L676.75,487.62 L677.67,487.63 L678.60,487.64 L679.53,487.65 L680.46,487.65 L681.38,487.66 L682.31,487.65 L683.24,487.65 L684.17,487.64 L685.09,487.63 L686.02,487.62 L686.95,487.60 L687.88,487.58 L688.80,487.55 L689.73,487.53 L690.66,487.49 L691.59,487.46 L692.51,487.42 L693.44,487.38 L694.37,487.34 L695.30,487.29 L696.23,487.25 L697.15,487.19 L698.08,487.14 L699.01,487.08 L699.94,487.02 L700.86,486.96 L701.79,486.90 L702.72,486.83 L703.65,486.76 L704.57,486.69 L705.50,486.61 L706.43,486.53 L707.36,486.45 L708.28,486.37 L709.21,486.29 L710.14,486.20 L711.07,486.11 L712.00,486.02 L712.92,485.92 L713.85,485.83 L714.78,485.73 L715.71,485.63 L716.63,485.53 L717.56,485.42 L718.49,485.32 L719.42,485.21 L720.34,485.10 L721.27,484.98 L722.20,484.87 L723.13,484.75 L724.05,484.63 L724.98,484.51 L725.91,484.39 L726.84,484.27 L727.77,484.14 L728.69,484.02 L729.62,483.89 L730.55,483.76 L731.48,483.62 L732.40,483.49 L733.33,483.36 L734.26,483.22 L735.19,483.08 L736.11,482.94 L737.04,482.80 L737.97,482.66 L738.90,482.52 L739.82,482.38 L740.75,482.23 L741.68,482.09 L742.61,481.94 L743.54,481.79 L744.46,481.64 L745.39,481.49 L746.32,481.34 L747.25,481.19 L748.17,481.04 L749.10,480.88 L750.03,480.73 L750.96,480.58 L751.88,480.42 L752.81,480.27 L753.74,480.11 L754.67,479.95 L755.59,479.80 L756.52,479.64 L757.45,479.48 L758.38,479.33 L759.31,479.17 L760.23,479.01 L761.16,478.85 L762.09,478.69 L763.02,478.53 L763.94,478.37 L764.87,478.21 L765.80,478.05 L766.73,477.90 L767.65,477.74 L768.58,477.58 L769.51,477.42 L770.44,477.26 L771.36,477.10 L772.29,476.94 L773.22,476.79 L774.15,476.63 L775.07,476.47 L776.00,476.32 L776.93,476.16 L777.86,476.01 L778.79,475.85 L779.71,475.70 L780.64,475.55 L781.57,475.40 L782.50,475.25 L783.42,475.10 L784.35,474.95 L785.28,474.80 L786.21,474.66 L787.13,474.51 L788.06,474.37 L788.99,474.22 L789.92,474.08 L790.84,473.94 L791.77,473.81 L792.70,473.67" fill="none" stroke="#00bfff" stroke-width="2.35" stroke-linejoin="round"/>
<path d="M124.80,475.97 L125.73,475.75 L126.66,475.53 L127.58,475.31 L128.51,475.09 L129.44,474.86 L130.37,474.63 L131.29,474.40 L132.22,474.17 L133.15,473.93 L134.08,473.70 L135.00,473.46 L135.93,473.21 L136.86,472.97 L137.79,472.72 L138.71,472.47 L139.64,472.22 L140.57,471.97 L141.50,471.71 L142.43,471.46 L143.35,471.20 L144.28,470.94 L145.21,470.67 L146.14,470.41 L147.06,470.14 L147.99,469.87 L148.92,469.60 L149.85,469.33 L150.77,469.05 L151.70,468.77 L152.63,468.50 L153.56,468.21 L154.48,467.93 L155.41,467.65 L156.34,467.36 L157.27,467.08 L158.19,466.79 L159.12,466.50 L160.05,466.20 L160.98,465.91 L161.91,465.62 L162.83,465.32 L163.76,465.02 L164.69,464.72 L165.62,464.42 L166.54,464.12 L167.47,463.81 L168.40,463.51 L169.33,463.20 L170.25,462.89 L171.18,462.58 L172.11,462.27 L173.04,461.96 L173.96,461.65 L174.89,461.33 L175.82,461.02 L176.75,460.70 L177.68,460.38 L178.60,460.07 L179.53,459.75 L180.46,459.43 L181.39,459.10 L182.31,458.78 L183.24,458.46 L184.17,458.13 L185.10,457.81 L186.02,457.48 L186.95,457.15 L187.88,456.82 L188.81,456.50 L189.73,456.17 L190.66,455.84 L191.59,455.50 L192.52,455.17 L193.45,454.84 L194.37,454.51 L195.30,454.17 L196.23,453.84 L197.16,453.50 L198.08,453.17 L199.01,452.83 L199.94,452.49 L200.87,452.15 L201.79,451.82 L202.72,451.48 L203.65,451.14 L204.58,450.80 L205.50,450.46 L206.43,450.12 L207.36,449.78 L208.29,449.44 L209.22,449.10 L210.14,448.76 L211.07,448.42 L212.00,448.08 L212.93,447.73 L213.85,447.39 L214.78,447.05 L215.71,446.71 L216.64,446.37 L217.56,446.03 L218.49,445.68 L219.42,445.34 L220.35,445.00 L221.27,444.66 L222.20,444.32 L223.13,443.97 L224.06,443.63 L224.99,443.29 L225.91,442.95 L226.84,442.61 L227.77,442.27 L228.70,441.93 L229.62,441.59 L230.55,441.25 L231.48,440.91 L232.41,440.57 L233.33,440.23 L234.26,439.89 L235.19,439.55 L236.12,439.21 L237.04,438.87 L237.97,438.54 L238.90,438.20 L239.83,437.87 L240.75,437.53 L241.68,437.20 L242.61,436.86 L243.54,436.53 L244.47,436.20 L245.39,435.86 L246.32,435.53 L247.25,435.20 L248.18,434.87 L249.10,434.54 L250.03,434.21 L250.96,433.89 L251.89,433.56 L252.81,433.23 L253.74,432.91 L254.67,432.59 L255.60,432.26 L256.52,431.94 L257.45,431.62 L258.38,431.30 L259.31,430.98 L260.24,430.66 L261.16,430.35 L262.09,430.03 L263.02,429.72 L263.95,429.40 L264.87,429.09 L265.80,428.78 L266.73,428.47 L267.66,428.16 L268.58,427.85 L269.51,427.55 L270.44,427.24 L271.37,426.94 L272.29,426.64 L273.22,426.34 L274.15,426.04 L275.08,425.74 L276.01,425.45 L276.93,425.15 L277.86,424.86 L278.79,424.57 L279.72,424.28 L280.64,423.99 L281.57,423.70 L282.50,423.42 L283.43,423.14 L284.35,422.85 L285.28,422.57 L286.21,422.30 L287.14,422.02 L288.06,421.75 L288.99,421.47 L289.92,421.20 L290.85,420.93 L291.78,420.67 L292.70,420.40 L293.63,420.14 L294.56,419.88 L295.49,419.62 L296.41,419.36 L297.34,419.10 L298.27,418.85 L299.20,418.60 L300.12,418.35 L301.05,418.10 L301.98,417.86 L302.91,417.62 L303.83,417.38 L304.76,417.14 L305.69,416.90 L306.62,416.67 L307.54,416.44 L308.47,416.21 L309.40,415.98 L310.33,415.76 L311.26,415.53 L312.18,415.31 L313.11,415.10 L314.04,414.88 L314.97,414.67 L315.89,414.46 L316.82,414.25 L317.75,414.05 L318.68,413.84 L319.60,413.64 L320.53,413.45 L321.46,413.25 L322.39,413.06 L323.31,412.87 L324.24,412.69 L325.17,412.50 L326.10,412.32 L327.03,412.14 L327.95,411.97 L328.88,411.80 L329.81,411.63 L330.74,411.46 L331.66,411.30 L332.59,411.14 L333.52,410.98 L334.45,410.82 L335.37,410.67 L336.30,410.52 L337.23,410.38 L338.16,410.23 L339.08,410.09 L340.01,409.96 L340.94,409.82 L341.87,409.69 L342.80,409.56 L343.72,409.44 L344.65,409.32 L345.58,409.20 L346.51,409.09 L347.43,408.98 L348.36,408.87 L349.29,408.76 L350.22,408.66 L351.14,408.56 L352.07,408.47 L353.00,408.38 L353.93,408.29 L354.85,408.21 L355.78,408.12 L356.71,408.05 L357.64,407.97 L358.57,407.90 L359.49,407.83 L360.42,407.77 L361.35,407.71 L362.28,407.65 L363.20,407.60 L364.13,407.55 L365.06,407.50 L365.99,407.46 L366.91,407.42 L367.84,407.38 L368.77,407.35 L369.70,407.32 L370.62,407.29 L371.55,407.27 L372.48,407.25 L373.41,407.23 L374.33,407.22 L375.26,407.21 L376.19,407.20 L377.12,407.20 L378.05,407.20 L378.97,407.21 L379.90,407.22 L380.83,407.23 L381.76,407.24 L382.68,407.26 L383.61,407.28 L384.54,407.30 L385.47,407.33 L386.39,407.36 L387.32,407.39 L388.25,407.43 L389.18,407.47 L390.10,407.51 L391.03,407.56 L391.96,407.61 L392.89,407.66 L393.82,407.72 L394.74,407.78 L395.67,407.84 L396.60,407.90 L397.53,407.97 L398.45,408.04 L399.38,408.11 L400.31,408.19 L401.24,408.27 L402.16,408.35 L403.09,408.44 L404.02,408.52 L404.95,408.61 L405.87,408.71 L406.80,408.80 L407.73,408.90 L408.66,409.00 L409.59,409.11 L410.51,409.21 L411.44,409.32 L412.37,409.43 L413.30,409.55 L414.22,409.66 L415.15,409.78 L416.08,409.90 L417.01,410.03 L417.93,410.15 L418.86,410.28 L419.79,410.41 L420.72,410.54 L421.64,410.68 L422.57,410.82 L423.50,410.95 L424.43,411.10 L425.36,411.24 L426.28,411.39 L427.21,411.54 L428.14,411.69 L429.07,411.84 L429.99,411.99 L430.92,412.15 L431.85,412.31 L432.78,412.47 L433.70,412.63 L434.63,412.80 L435.56,412.97 L436.49,413.14 L437.41,413.31 L438.34,413.48 L439.27,413.66 L440.20,413.84 L441.12,414.02 L442.05,414.20 L442.98,414.39 L443.91,414.57 L444.84,414.76 L445.76,414.96 L446.69,415.15 L447.62,415.35 L448.55,415.54 L449.47,415.74 L450.40,415.95 L451.33,416.15 L452.26,416.36 L453.18,416.57 L454.11,416.78 L455.04,417.00 L455.97,417.21 L456.89,417.43 L457.82,417.66 L458.75,417.88 L459.68,418.11 L460.61,418.34 L461.53,418.57 L462.46,418.80 L463.39,419.04 L464.32,419.28 L465.24,419.52 L466.17,419.77 L467.10,420.02 L468.03,420.27 L468.95,420.52 L469.88,420.77 L470.81,421.03 L471.74,421.29 L472.66,421.56 L473.59,421.82 L474.52,422.09 L475.45,422.36 L476.38,422.63 L477.30,422.91 L478.23,423.18 L479.16,423.46 L480.09,423.75 L481.01,424.03 L481.94,424.32 L482.87,424.60 L483.80,424.89 L484.72,425.19 L485.65,425.48 L486.58,425.78 L487.51,426.07 L488.43,426.37 L489.36,426.68 L490.29,426.98 L491.22,427.29 L492.15,427.59 L493.07,427.90 L494.00,428.21 L494.93,428.52 L495.86,428.84 L496.78,429.15 L497.71,429.47 L498.64,429.78 L499.57,430.10 L500.49,430.42 L501.42,430.74 L502.35,431.07 L503.28,431.39 L504.20,431.72 L505.13,432.04 L506.06,432.37 L506.99,432.70 L507.91,433.03 L508.84,433.36 L509.77,433.69 L510.70,434.02 L511.63,434.36 L512.55,434.69 L513.48,435.03 L514.41,435.36 L515.34,435.70 L516.26,436.04 L517.19,436.37 L518.12,436.71 L519.05,437.05 L519.97,437.39 L520.90,437.73 L521.83,438.08 L522.76,438.42 L523.68,438.76 L524.61,439.10 L525.54,439.45 L526.47,439.79 L527.40,440.14 L528.32,440.48 L529.25,440.83 L530.18,441.18 L531.11,441.52 L532.03,441.87 L532.96,442.22 L533.89,442.56 L534.82,442.91 L535.74,443.26 L536.67,443.61 L537.60,443.96 L538.53,444.31 L539.45,444.66 L540.38,445.00 L541.31,445.35 L542.24,445.70 L543.17,446.05 L544.09,446.40 L545.02,446.75 L545.95,447.10 L546.88,447.45 L547.80,447.81 L548.73,448.16 L549.66,448.51 L550.59,448.86 L551.51,449.21 L552.44,449.56 L553.37,449.91 L554.30,450.26 L555.22,450.61 L556.15,450.96 L557.08,451.31 L558.01,451.66 L558.94,452.01 L559.86,452.36 L560.79,452.71 L561.72,453.06 L562.65,453.41 L563.57,453.76 L564.50,454.11 L565.43,454.46 L566.36,454.81 L567.28,455.16 L568.21,455.51 L569.14,455.86 L570.07,456.20 L570.99,456.55 L571.92,456.90 L572.85,457.25 L573.78,457.59 L574.70,457.94 L575.63,458.29 L576.56,458.63 L577.49,458.98 L578.42,459.32 L579.34,459.66 L580.27,460.01 L581.20,460.35 L582.13,460.69 L583.05,461.03 L583.98,461.37 L584.91,461.71 L585.84,462.05 L586.76,462.39 L587.69,462.73 L588.62,463.07 L589.55,463.40 L590.47,463.74 L591.40,464.07 L592.33,464.41 L593.26,464.74 L594.19,465.07 L595.11,465.40 L596.04,465.73 L596.97,466.06 L597.90,466.39 L598.82,466.72 L599.75,467.04 L600.68,467.37 L601.61,467.69 L602.53,468.01 L603.46,468.33 L604.39,468.65 L605.32,468.97 L606.24,469.29 L607.17,469.60 L608.10,469.92 L609.03,470.23 L609.96,470.54 L610.88,470.85 L611.81,471.16 L612.74,471.47 L613.67,471.77 L614.59,472.08 L615.52,472.38 L616.45,472.68 L617.38,472.98 L618.30,473.27 L619.23,473.57 L620.16,473.86 L621.09,474.15 L622.01,474.44 L622.94,474.73 L623.87,475.01 L624.80,475.29 L625.73,475.57 L626.65,475.85 L627.58,476.13 L628.51,476.40 L629.44,476.68 L630.36,476.95 L631.29,477.21 L632.22,477.48 L633.15,477.74 L634.07,478.00 L635.00,478.26 L635.93,478.51 L636.86,478.76 L637.78,479.01 L638.71,479.26 L639.64,479.51 L640.57,479.75 L641.49,479.99 L642.42,480.22 L643.35,480.46 L644.28,480.69 L645.21,480.91 L646.13,481.14 L647.06,481.36 L647.99,481.58 L648.92,481.79 L649.84,482.00 L650.77,482.21 L651.70,482.42 L652.63,482.62 L653.55,482.82 L654.48,483.01 L655.41,483.20 L656.34,483.39 L657.26,483.58 L658.19,483.76 L659.12,483.94 L660.05,484.11 L660.98,484.29 L661.90,484.45 L662.83,484.62 L663.76,484.78 L664.69,484.94 L665.61,485.09 L666.54,485.24 L667.47,485.39 L668.40,485.53 L669.32,485.67 L670.25,485.81 L671.18,485.94 L672.11,486.07 L673.03,486.19 L673.96,486.31 L674.89,486.43 L675.82,486.55 L676.75,486.66 L677.67,486.76 L678.60,486.86 L679.53,486.96 L680.46,487.06 L681.38,487.15 L682.31,487.23 L683.24,487.32 L684.17,487.40 L685.09,487.47 L686.02,487.55 L686.95,487.61 L687.88,487.68 L688.80,487.74 L689.73,487.80 L690.66,487.85 L691.59,487.90 L692.51,487.94 L693.44,487.99 L694.37,488.02 L695.30,488.06 L696.23,488.09 L697.15,488.12 L698.08,488.14 L699.01,488.16 L699.94,488.17 L700.86,488.18 L701.79,488.19 L702.72,488.20 L703.65,488.20 L704.57,488.20 L705.50,488.19 L706.43,488.18 L707.36,488.17 L708.28,488.15 L709.21,488.13 L710.14,488.10 L711.07,488.08 L712.00,488.04 L712.92,488.01 L713.85,487.97 L714.78,487.93 L715.71,487.89 L716.63,487.84 L717.56,487.79 L718.49,487.73 L719.42,487.67 L720.34,487.61 L721.27,487.55 L722.20,487.48 L723.13,487.41 L724.05,487.33 L724.98,487.26 L725.91,487.18 L726.84,487.09 L727.77,487.01 L728.69,486.92 L729.62,486.83 L730.55,486.73 L731.48,486.63 L732.40,486.53 L733.33,486.43 L734.26,486.32 L735.19,486.21 L736.11,486.10 L737.04,485.99 L737.97,485.87 L738.90,485.75 L739.82,485.63 L740.75,485.51 L741.68,485.38 L742.61,485.25 L743.54,485.12 L744.46,484.99 L745.39,484.86 L746.32,484.72 L747.25,484.58 L748.17,484.44 L749.10,484.30 L750.03,484.15 L750.96,484.01 L751.88,483.86 L752.81,483.71 L753.74,483.56 L754.67,483.40 L755.59,483.25 L756.52,483.09 L757.45,482.94 L758.38,482.78 L759.31,482.62 L760.23,482.46 L761.16,482.30 L762.09,482.13 L763.02,481.97 L763.94,481.80 L764.87,481.64 L765.80,481.47 L766.73,481.30 L767.65,481.13 L768.58,480.97 L769.51,480.80 L770.44,480.63 L771.36,480.46 L772.29,480.29 L773.22,480.12 L774.15,479.95 L775.07,479.78 L776.00,479.61 L776.93,479.44 L777.86,479.27 L778.79,479.10 L779.71,478.93 L780.64,478.76 L781.57,478.59 L782.50,478.42 L783.42,478.26 L784.35,478.09 L785.28,477.93 L786.21,477.76 L787.13,477.60 L788.06,477.44 L788.99,477.28 L789.92,477.12 L790.84,476.96 L791.77,476.80 L792.70,476.65" fill="none" stroke="#00bfff" stroke-width="2.35" stroke-linejoin="round" stroke-dasharray="9.8 8.9" stroke-dashoffset="0.5"/>
<path d="M133.8,452.8L136.4,450.2L139.1,452.8L136.4,455.5Z" fill="none" stroke="#006400" stroke-width="1.0"/>
<path d="M136.4,459.3L139.1,456.6L141.7,459.3L139.1,461.9Z" fill="none" stroke="#006400" stroke-width="1.0"/>
<path d="M139.0,451.8L141.7,449.2L144.3,451.8L141.7,454.5Z" fill="none" stroke="#006400" stroke-width="1.0"/>
<path d="M141.4,456.2L144.1,453.6L146.7,456.2L144.1,458.9Z" fill="none" stroke="#006400" stroke-width="1.0"/>
<path d="M143.8,454.2L146.5,451.6L149.1,454.2L146.5,456.9Z" fill="none" stroke="#006400" stroke-width="1.0"/>
<path d="M146.5,459.7L149.1,457.0L151.8,459.7L149.1,462.3Z" fill="none" stroke="#006400" stroke-width="1.0"/>
<path d="M148.9,451.8L151.5,449.2L154.2,451.8L151.5,454.5Z" fill="none" stroke="#006400" stroke-width="1.0"/>
<path d="M151.5,444.2L154.1,441.5L156.8,444.2L154.1,446.8Z" fill="none" stroke="#006400" stroke-width="1.0"/>
<path d="M153.9,450.6L156.5,448.0L159.2,450.6L156.5,453.3Z" fill="none" stroke="#006400" stroke-width="1.0"/>
<path d="M156.5,459.7L159.1,457.0L161.8,459.7L159.1,462.3Z" fill="none" stroke="#006400" stroke-width="1.0"/>
<path d="M158.9,459.7L161.6,457.0L164.2,459.7L161.6,462.3Z" fill="none" stroke="#006400" stroke-width="1.0"/>
<path d="M161.5,458.9L164.2,456.2L166.8,458.9L164.2,461.5Z" fill="none" stroke="#006400" stroke-width="1.0"/>
<path d="M163.9,447.2L166.6,444.6L169.2,447.2L166.6,449.9Z" fill="none" stroke="#006400" stroke-width="1.0"/>
<path d="M166.5,443.2L169.2,440.5L171.8,443.2L169.2,445.8Z" fill="none" stroke="#006400" stroke-width="1.0"/>
<path d="M168.9,451.2L171.6,448.6L174.2,451.2L171.6,453.9Z" fill="none" stroke="#006400" stroke-width="1.0"/>
<path d="M171.6,445.2L174.2,442.6L176.9,445.2L174.2,447.9Z" fill="none" stroke="#006400" stroke-width="1.0"/>
<path d="M174.6,447.6L177.2,445.0L179.9,447.6L177.2,450.3Z" fill="none" stroke="#006400" stroke-width="1.0"/>
<path d="M177.0,443.6L179.6,440.9L182.3,443.6L179.6,446.2Z" fill="none" stroke="#006400" stroke-width="1.0"/>
<path d="M179.6,441.6L182.2,438.9L184.9,441.6L182.2,444.2Z" fill="none" stroke="#006400" stroke-width="1.0"/>
<path d="M182.0,450.2L184.6,447.6L187.3,450.2L184.6,452.9Z" fill="none" stroke="#006400" stroke-width="1.0"/>
<path d="M184.6,448.2L187.3,445.6L189.9,448.2L187.3,450.9Z" fill="none" stroke="#006400" stroke-width="1.0"/>
<path d="M187.0,449.6L189.7,447.0L192.3,449.6L189.7,452.3Z" fill="none" stroke="#006400" stroke-width="1.0"/>
<path d="M189.6,440.8L192.3,438.1L194.9,440.8L192.3,443.4Z" fill="none" stroke="#006400" stroke-width="1.0"/>
<path d="M192.0,445.2L194.7,442.6L197.3,445.2L194.7,447.9Z" fill="none" stroke="#006400" stroke-width="1.0"/>
<path d="M194.6,446.8L197.3,444.2L199.9,446.8L197.3,449.5Z" fill="none" stroke="#006400" stroke-width="1.0"/>
<path d="M197.1,446.2L199.7,443.6L202.4,446.2L199.7,448.9Z" fill="none" stroke="#006400" stroke-width="1.0"/>
<path d="M199.7,448.8L202.3,446.2L205.0,448.8L202.3,451.5Z" fill="none" stroke="#006400" stroke-width="1.0"/>
<path d="M202.1,450.2L204.7,447.6L207.4,450.2L204.7,452.9Z" fill="none" stroke="#006400" stroke-width="1.0"/>
<path d="M204.7,443.8L207.3,441.1L210.0,443.8L207.3,446.4Z" fill="none" stroke="#006400" stroke-width="1.0"/>
<path d="M207.1,452.2L209.7,449.6L212.4,452.2L209.7,454.9Z" fill="none" stroke="#006400" stroke-width="1.0"/>
<path d="M209.7,452.6L212.4,450.0L215.0,452.6L212.4,455.3Z" fill="none" stroke="#006400" stroke-width="1.0"/>
<path d="M212.1,438.8L214.8,436.1L217.4,438.8L214.8,441.4Z" fill="none" stroke="#006400" stroke-width="1.0"/>
<path d="M214.7,445.8L217.4,443.2L220.0,445.8L217.4,448.5Z" fill="none" stroke="#006400" stroke-width="1.0"/>
<path d="M217.1,437.2L219.8,434.5L222.4,437.2L219.8,439.8Z" fill="none" stroke="#006400" stroke-width="1.0"/>
<path d="M219.7,438.2L222.4,435.5L225.0,438.2L222.4,440.8Z" fill="none" stroke="#006400" stroke-width="1.0"/>
<path d="M222.2,438.6L224.8,435.9L227.5,438.6L224.8,441.2Z" fill="none" stroke="#006400" stroke-width="1.0"/>
<path d="M224.8,447.6L227.4,445.0L230.1,447.6L227.4,450.3Z" fill="none" stroke="#006400" stroke-width="1.0"/>
<path d="M227.2,437.8L229.8,435.1L232.5,437.8L229.8,440.4Z" fill="none" stroke="#006400" stroke-width="1.0"/>
<path d="M229.8,431.7L232.4,429.1L235.1,431.7L232.4,434.4Z" fill="none" stroke="#006400" stroke-width="1.0"/>
<path d="M232.2,441.8L234.8,439.1L237.5,441.8L234.8,444.4Z" fill="none" stroke="#006400" stroke-width="1.0"/>
<path d="M234.8,443.8L237.5,441.1L240.1,443.8L237.5,446.4Z" fill="none" stroke="#006400" stroke-width="1.0"/>
<path d="M237.2,438.2L239.9,435.5L242.5,438.2L239.9,440.8Z" fill="none" stroke="#006400" stroke-width="1.0"/>
<path d="M239.8,430.1L242.5,427.5L245.1,430.1L242.5,432.8Z" fill="none" stroke="#006400" stroke-width="1.0"/>
<path d="M242.2,430.7L244.9,428.1L247.5,430.7L244.9,433.4Z" fill="none" stroke="#006400" stroke-width="1.0"/>
<path d="M244.8,439.2L247.5,436.5L250.1,439.2L247.5,441.8Z" fill="none" stroke="#006400" stroke-width="1.0"/>
<path d="M247.3,434.6L249.9,431.9L252.6,434.6L249.9,437.2Z" fill="none" stroke="#006400" stroke-width="1.0"/>
<path d="M249.9,424.7L252.5,422.1L255.2,424.7L252.5,427.4Z" fill="none" stroke="#006400" stroke-width="1.0"/>
<path d="M252.3,424.1L254.9,421.5L257.6,424.1L254.9,426.8Z" fill="none" stroke="#006400" stroke-width="1.0"/>
<path d="M254.9,416.7L257.5,414.0L260.2,416.7L257.5,419.3Z" fill="none" stroke="#006400" stroke-width="1.0"/>
<path d="M257.3,426.5L259.9,423.9L262.6,426.5L259.9,429.2Z" fill="none" stroke="#006400" stroke-width="1.0"/>
<path d="M259.9,424.1L262.6,421.5L265.2,424.1L262.6,426.8Z" fill="none" stroke="#006400" stroke-width="1.0"/>
<path d="M262.3,425.7L265.0,423.1L267.6,425.7L265.0,428.4Z" fill="none" stroke="#006400" stroke-width="1.0"/>
<path d="M264.9,413.5L267.6,410.8L270.2,413.5L267.6,416.1Z" fill="none" stroke="#006400" stroke-width="1.0"/>
<path d="M267.3,415.1L270.0,412.4L272.6,415.1L270.0,417.7Z" fill="none" stroke="#006400" stroke-width="1.0"/>
<path d="M268.3,415.2L270.9,412.5L273.6,415.2L270.9,417.8Z" fill="none" stroke="#006400" stroke-width="1.0"/>
<path d="M269.2,428.2L271.8,425.5L274.5,428.2L271.8,430.8Z" fill="none" stroke="#006400" stroke-width="1.0"/>
<path d="M302.6,417.0L305.2,414.3L307.9,417.0L305.2,419.6Z" fill="none" stroke="#006400" stroke-width="1.0"/>
<path d="M304.9,408.9L307.6,406.2L310.2,408.9L307.6,411.5Z" fill="none" stroke="#006400" stroke-width="1.0"/>
<path d="M307.1,408.0L309.8,405.3L312.4,408.0L309.8,410.6Z" fill="none" stroke="#006400" stroke-width="1.0"/>
<path d="M309.3,412.5L311.9,409.8L314.6,412.5L311.9,415.1Z" fill="none" stroke="#006400" stroke-width="1.0"/>
<path d="M311.6,408.9L314.3,406.2L316.9,408.9L314.3,411.5Z" fill="none" stroke="#006400" stroke-width="1.0"/>
<path d="M314.0,413.4L316.6,410.7L319.3,413.4L316.6,416.0Z" fill="none" stroke="#006400" stroke-width="1.0"/>
<path d="M316.1,408.9L318.8,406.2L321.4,408.9L318.8,411.5Z" fill="none" stroke="#006400" stroke-width="1.0"/>
<path d="M318.5,406.1L321.1,403.5L323.8,406.1L321.1,408.8Z" fill="none" stroke="#006400" stroke-width="1.0"/>
<path d="M320.7,403.4L323.3,400.8L326.0,403.4L323.3,406.1Z" fill="none" stroke="#006400" stroke-width="1.0"/>
<path d="M323.0,407.1L325.7,404.4L328.3,407.1L325.7,409.7Z" fill="none" stroke="#006400" stroke-width="1.0"/>
<path d="M325.2,412.5L327.8,409.8L330.5,412.5L327.8,415.1Z" fill="none" stroke="#006400" stroke-width="1.0"/>
<path d="M327.9,396.2L330.5,393.6L333.2,396.2L330.5,398.9Z" fill="none" stroke="#006400" stroke-width="1.0"/>
<path d="M330.2,389.0L332.9,386.3L335.5,389.0L332.9,391.6Z" fill="none" stroke="#006400" stroke-width="1.0"/>
<path d="M332.8,394.9L335.4,392.3L338.1,394.9L335.4,397.6Z" fill="none" stroke="#006400" stroke-width="1.0"/>
<path d="M335.1,393.5L337.8,390.8L340.4,393.5L337.8,396.1Z" fill="none" stroke="#006400" stroke-width="1.0"/>
<path d="M337.5,392.0L340.1,389.4L342.8,392.0L340.1,394.7Z" fill="none" stroke="#006400" stroke-width="1.0"/>
<path d="M339.6,395.3L342.3,392.7L344.9,395.3L342.3,398.0Z" fill="none" stroke="#006400" stroke-width="1.0"/>
<path d="M342.4,407.6L345.0,404.9L347.7,407.6L345.0,410.2Z" fill="none" stroke="#006400" stroke-width="1.0"/>
<path d="M344.7,398.9L347.4,396.3L350.0,398.9L347.4,401.6Z" fill="none" stroke="#006400" stroke-width="1.0"/>
<path d="M347.2,400.4L349.9,397.7L352.5,400.4L349.9,403.0Z" fill="none" stroke="#006400" stroke-width="1.0"/>
<path d="M349.6,406.1L352.2,403.5L354.9,406.1L352.2,408.8Z" fill="none" stroke="#006400" stroke-width="1.0"/>
<path d="M352.3,397.5L354.9,394.8L357.6,397.5L354.9,400.1Z" fill="none" stroke="#006400" stroke-width="1.0"/>
<path d="M354.6,402.5L357.3,399.9L359.9,402.5L357.3,405.2Z" fill="none" stroke="#006400" stroke-width="1.0"/>
<path d="M357.2,394.9L359.8,392.3L362.5,394.9L359.8,397.6Z" fill="none" stroke="#006400" stroke-width="1.0"/>
<path d="M359.5,396.6L362.2,393.9L364.8,396.6L362.2,399.2Z" fill="none" stroke="#006400" stroke-width="1.0"/>
<path d="M361.9,398.9L364.5,396.3L367.2,398.9L364.5,401.6Z" fill="none" stroke="#006400" stroke-width="1.0"/>
<path d="M364.4,402.5L367.1,399.9L369.7,402.5L367.1,405.2Z" fill="none" stroke="#006400" stroke-width="1.0"/>
<path d="M366.8,395.3L369.4,392.7L372.1,395.3L369.4,398.0Z" fill="none" stroke="#006400" stroke-width="1.0"/>
<path d="M369.1,403.4L371.8,400.8L374.4,403.4L371.8,406.1Z" fill="none" stroke="#006400" stroke-width="1.0"/>
<path d="M371.6,399.8L374.3,397.2L376.9,399.8L374.3,402.5Z" fill="none" stroke="#006400" stroke-width="1.0"/>
<path d="M374.0,398.0L376.6,395.4L379.3,398.0L376.6,400.7Z" fill="none" stroke="#006400" stroke-width="1.0"/>
<path d="M376.3,401.6L379.0,399.0L381.6,401.6L379.0,404.3Z" fill="none" stroke="#006400" stroke-width="1.0"/>
<path d="M378.9,397.1L381.5,394.5L384.2,397.1L381.5,399.8Z" fill="none" stroke="#006400" stroke-width="1.0"/>
<path d="M381.2,403.4L383.9,400.8L386.5,403.4L383.9,406.1Z" fill="none" stroke="#006400" stroke-width="1.0"/>
<path d="M383.6,397.1L386.2,394.5L388.9,397.1L386.2,399.8Z" fill="none" stroke="#006400" stroke-width="1.0"/>
<path d="M386.1,388.1L388.7,385.4L391.4,388.1L388.7,390.7Z" fill="none" stroke="#006400" stroke-width="1.0"/>
<path d="M388.4,390.8L391.1,388.1L393.7,390.8L391.1,393.4Z" fill="none" stroke="#006400" stroke-width="1.0"/>
<path d="M390.8,386.3L393.4,383.6L396.1,386.3L393.4,388.9Z" fill="none" stroke="#006400" stroke-width="1.0"/>
<path d="M393.3,385.4L396.0,382.7L398.6,385.4L396.0,388.0Z" fill="none" stroke="#006400" stroke-width="1.0"/>
<path d="M395.7,388.1L398.3,385.4L401.0,388.1L398.3,390.7Z" fill="none" stroke="#006400" stroke-width="1.0"/>
<path d="M398.0,379.4L400.7,376.7L403.3,379.4L400.7,382.0Z" fill="none" stroke="#006400" stroke-width="1.0"/>
<path d="M400.6,386.3L403.2,383.6L405.9,386.3L403.2,388.9Z" fill="none" stroke="#006400" stroke-width="1.0"/>
<path d="M402.9,398.9L405.6,396.3L408.2,398.9L405.6,401.6Z" fill="none" stroke="#006400" stroke-width="1.0"/>
<path d="M405.2,387.2L407.9,384.5L410.5,387.2L407.9,389.8Z" fill="none" stroke="#006400" stroke-width="1.0"/>
<path d="M407.8,382.3L410.4,379.6L413.1,382.3L410.4,384.9Z" fill="none" stroke="#006400" stroke-width="1.0"/>
<path d="M408.3,382.2L410.9,379.5L413.6,382.2L410.9,384.8Z" fill="none" stroke="#006400" stroke-width="1.0"/>
<path d="M410.1,392.1L412.7,389.5L415.4,392.1L412.7,394.8Z" fill="none" stroke="#006400" stroke-width="1.0"/>
<path d="M412.4,394.8L415.1,392.2L417.7,394.8L415.1,397.5Z" fill="none" stroke="#006400" stroke-width="1.0"/>
<path d="M414.6,393.0L417.2,390.4L419.9,393.0L417.2,395.7Z" fill="none" stroke="#006400" stroke-width="1.0"/>
<path d="M416.7,397.5L419.4,394.9L422.0,397.5L419.4,400.2Z" fill="none" stroke="#006400" stroke-width="1.0"/>
<path d="M419.1,389.4L421.7,386.7L424.4,389.4L421.7,392.0Z" fill="none" stroke="#006400" stroke-width="1.0"/>
<path d="M421.4,394.8L424.1,392.2L426.7,394.8L424.1,397.5Z" fill="none" stroke="#006400" stroke-width="1.0"/>
<path d="M423.6,392.1L426.3,389.5L428.9,392.1L426.3,394.8Z" fill="none" stroke="#006400" stroke-width="1.0"/>
<path d="M426.0,403.9L428.6,401.2L431.3,403.9L428.6,406.5Z" fill="none" stroke="#006400" stroke-width="1.0"/>
<path d="M428.1,388.5L430.8,385.8L433.4,388.5L430.8,391.1Z" fill="none" stroke="#006400" stroke-width="1.0"/>
<path d="M430.5,393.9L433.1,391.3L435.8,393.9L433.1,396.6Z" fill="none" stroke="#006400" stroke-width="1.0"/>
<path d="M432.7,392.1L435.3,389.5L438.0,392.1L435.3,394.8Z" fill="none" stroke="#006400" stroke-width="1.0"/>
<path d="M435.0,402.1L437.7,399.4L440.3,402.1L437.7,404.7Z" fill="none" stroke="#006400" stroke-width="1.0"/>
<path d="M437.2,393.0L439.8,390.4L442.5,393.0L439.8,395.7Z" fill="none" stroke="#006400" stroke-width="1.0"/>
<path d="M439.5,398.4L442.2,395.8L444.8,398.4L442.2,401.1Z" fill="none" stroke="#006400" stroke-width="1.0"/>
<path d="M441.7,390.3L444.3,387.7L447.0,390.3L444.3,393.0Z" fill="none" stroke="#006400" stroke-width="1.0"/>
<path d="M443.5,386.3L446.1,383.7L448.8,386.3L446.1,389.0Z" fill="none" stroke="#006400" stroke-width="1.0"/>
<path d="M445.3,406.6L448.0,403.9L450.6,406.6L448.0,409.2Z" fill="none" stroke="#006400" stroke-width="1.0"/>
<path d="M446.2,414.2L448.9,411.5L451.5,414.2L448.9,416.8Z" fill="none" stroke="#006400" stroke-width="1.0"/>
<path d="M465.2,408.9L467.8,406.3L470.5,408.9L467.8,411.6Z" fill="none" stroke="#006400" stroke-width="1.0"/>
<path d="M466.1,418.3L468.7,415.7L471.4,418.3L468.7,421.0Z" fill="none" stroke="#006400" stroke-width="1.0"/>
<path d="M467.9,377.7L470.5,375.0L473.2,377.7L470.5,380.3Z" fill="none" stroke="#006400" stroke-width="1.0"/>
<path d="M470.2,390.3L472.9,387.7L475.5,390.3L472.9,393.0Z" fill="none" stroke="#006400" stroke-width="1.0"/>
<path d="M472.4,383.4L475.1,380.8L477.7,383.4L475.1,386.1Z" fill="none" stroke="#006400" stroke-width="1.0"/>
<path d="M473.3,403.0L476.0,400.3L478.6,403.0L476.0,405.6Z" fill="none" stroke="#006400" stroke-width="1.0"/>
<path d="M475.7,392.1L478.3,389.5L481.0,392.1L478.3,394.8Z" fill="none" stroke="#006400" stroke-width="1.0"/>
<path d="M477.8,405.7L480.5,403.0L483.1,405.7L480.5,408.3Z" fill="none" stroke="#006400" stroke-width="1.0"/>
<path d="M479.6,395.7L482.3,393.1L484.9,395.7L482.3,398.4Z" fill="none" stroke="#006400" stroke-width="1.0"/>
<path d="M481.8,389.4L484.5,386.7L487.1,389.4L484.5,392.0Z" fill="none" stroke="#006400" stroke-width="1.0"/>
<path d="M482.9,388.5L485.5,385.8L488.2,388.5L485.5,391.1Z" fill="none" stroke="#006400" stroke-width="1.0"/>
<path d="M485.1,398.4L487.7,395.8L490.4,398.4L487.7,401.1Z" fill="none" stroke="#006400" stroke-width="1.0"/>
<path d="M487.4,393.9L490.1,391.3L492.7,393.9L490.1,396.6Z" fill="none" stroke="#006400" stroke-width="1.0"/>
<path d="M488.7,413.8L491.3,411.1L494.0,413.8L491.3,416.4Z" fill="none" stroke="#006400" stroke-width="1.0"/>
<path d="M489.6,400.2L492.2,397.6L494.9,400.2L492.2,402.9Z" fill="none" stroke="#006400" stroke-width="1.0"/>
<path d="M491.9,392.1L494.6,389.5L497.2,392.1L494.6,394.8Z" fill="none" stroke="#006400" stroke-width="1.0"/>
<path d="M493.2,385.8L495.8,383.1L498.5,385.8L495.8,388.4Z" fill="none" stroke="#006400" stroke-width="1.0"/>
<path d="M494.1,394.8L496.8,392.2L499.4,394.8L496.8,397.5Z" fill="none" stroke="#006400" stroke-width="1.0"/>
<path d="M496.5,403.0L499.1,400.3L501.8,403.0L499.1,405.6Z" fill="none" stroke="#006400" stroke-width="1.0"/>
<path d="M498.6,398.4L501.3,395.8L503.9,398.4L501.3,401.1Z" fill="none" stroke="#006400" stroke-width="1.0"/>
<path d="M500.8,383.4L503.4,380.8L506.1,383.4L503.4,386.1Z" fill="none" stroke="#006400" stroke-width="1.0"/>
<path d="M503.1,375.5L505.8,372.8L508.4,375.5L505.8,378.1Z" fill="none" stroke="#006400" stroke-width="1.0"/>
<path d="M501.9,407.5L504.5,404.8L507.2,407.5L504.5,410.1Z" fill="none" stroke="#006400" stroke-width="1.0"/>
<path d="M504.0,403.9L506.7,401.2L509.3,403.9L506.7,406.5Z" fill="none" stroke="#006400" stroke-width="1.0"/>
<path d="M506.4,393.9L509.0,391.3L511.7,393.9L509.0,396.6Z" fill="none" stroke="#006400" stroke-width="1.0"/>
<path d="M508.6,402.1L511.2,399.4L513.9,402.1L511.2,404.7Z" fill="none" stroke="#006400" stroke-width="1.0"/>
<path d="M510.7,395.7L513.4,393.1L516.0,395.7L513.4,398.4Z" fill="none" stroke="#006400" stroke-width="1.0"/>
<path d="M513.1,416.5L515.7,413.9L518.4,416.5L515.7,419.2Z" fill="none" stroke="#006400" stroke-width="1.0"/>
<path d="M515.2,400.2L517.9,397.6L520.5,400.2L517.9,402.9Z" fill="none" stroke="#006400" stroke-width="1.0"/>
<path d="M517.6,416.5L520.2,413.9L522.9,416.5L520.2,419.2Z" fill="none" stroke="#006400" stroke-width="1.0"/>
<path d="M518.9,396.6L521.5,394.0L524.2,396.6L521.5,399.3Z" fill="none" stroke="#006400" stroke-width="1.0"/>
<path d="M521.2,412.9L523.9,410.2L526.5,412.9L523.9,415.5Z" fill="none" stroke="#006400" stroke-width="1.0"/>
<path d="M523.6,412.0L526.2,409.3L528.9,412.0L526.2,414.6Z" fill="none" stroke="#006400" stroke-width="1.0"/>
<path d="M525.7,422.8L528.4,420.2L531.0,422.8L528.4,425.5Z" fill="none" stroke="#006400" stroke-width="1.0"/>
<path d="M528.1,416.5L530.7,413.9L533.4,416.5L530.7,419.2Z" fill="none" stroke="#006400" stroke-width="1.0"/>
<path d="M530.2,412.9L532.9,410.2L535.5,412.9L532.9,415.5Z" fill="none" stroke="#006400" stroke-width="1.0"/>
<path d="M532.6,424.3L535.2,421.6L537.9,424.3L535.2,426.9Z" fill="none" stroke="#006400" stroke-width="1.0"/>
<path d="M533.9,403.9L536.5,401.2L539.2,403.9L536.5,406.5Z" fill="none" stroke="#006400" stroke-width="1.0"/>
<path d="M536.0,401.1L538.7,398.5L541.3,401.1L538.7,403.8Z" fill="none" stroke="#006400" stroke-width="1.0"/>
<path d="M538.4,409.3L541.0,406.6L543.7,409.3L541.0,411.9Z" fill="none" stroke="#006400" stroke-width="1.0"/>
<path d="M540.6,403.9L543.2,401.2L545.9,403.9L543.2,406.5Z" fill="none" stroke="#006400" stroke-width="1.0"/>
<path d="M541.5,411.1L544.1,408.4L546.8,411.1L544.1,413.7Z" fill="none" stroke="#006400" stroke-width="1.0"/>
<path d="M543.8,396.6L546.5,394.0L549.1,396.6L546.5,399.3Z" fill="none" stroke="#006400" stroke-width="1.0"/>
<path d="M546.2,403.9L548.8,401.2L551.5,403.9L548.8,406.5Z" fill="none" stroke="#006400" stroke-width="1.0"/>
<path d="M548.3,402.2L550.9,399.6L553.6,402.2L550.9,404.9Z" fill="none" stroke="#006400" stroke-width="1.0"/>
<path d="M571.7,423.9L574.4,421.3L577.0,423.9L574.4,426.6Z" fill="none" stroke="#006400" stroke-width="1.0"/>
<path d="M574.1,422.1L576.7,419.5L579.4,422.1L576.7,424.8Z" fill="none" stroke="#006400" stroke-width="1.0"/>
<path d="M576.3,423.6L578.9,420.9L581.6,423.6L578.9,426.2Z" fill="none" stroke="#006400" stroke-width="1.0"/>
<path d="M578.4,423.0L581.1,420.4L583.7,423.0L581.1,425.7Z" fill="none" stroke="#006400" stroke-width="1.0"/>
<path d="M580.8,427.2L583.4,424.5L586.1,427.2L583.4,429.8Z" fill="none" stroke="#006400" stroke-width="1.0"/>
<path d="M583.1,419.4L585.8,416.7L588.4,419.4L585.8,422.0Z" fill="none" stroke="#006400" stroke-width="1.0"/>
<path d="M585.3,420.3L588.0,417.7L590.6,420.3L588.0,423.0Z" fill="none" stroke="#006400" stroke-width="1.0"/>
<path d="M587.5,422.1L590.1,419.5L592.8,422.1L590.1,424.8Z" fill="none" stroke="#006400" stroke-width="1.0"/>
<path d="M589.8,421.7L592.5,419.1L595.1,421.7L592.5,424.4Z" fill="none" stroke="#006400" stroke-width="1.0"/>
<path d="M592.0,417.0L594.6,414.4L597.3,417.0L594.6,419.7Z" fill="none" stroke="#006400" stroke-width="1.0"/>
<path d="M594.3,426.1L597.0,423.4L599.6,426.1L597.0,428.7Z" fill="none" stroke="#006400" stroke-width="1.0"/>
<path d="M596.5,436.2L599.2,433.6L601.8,436.2L599.2,438.9Z" fill="none" stroke="#006400" stroke-width="1.0"/>
<path d="M598.9,435.1L601.5,432.5L604.2,435.1L601.5,437.8Z" fill="none" stroke="#006400" stroke-width="1.0"/>
<path d="M601.2,427.9L603.9,425.2L606.5,427.9L603.9,430.5Z" fill="none" stroke="#006400" stroke-width="1.0"/>
<path d="M603.4,424.3L606.0,421.6L608.7,424.3L606.0,426.9Z" fill="none" stroke="#006400" stroke-width="1.0"/>
<path d="M605.5,431.1L608.2,428.5L610.8,431.1L608.2,433.8Z" fill="none" stroke="#006400" stroke-width="1.0"/>
<path d="M607.9,421.2L610.5,418.6L613.2,421.2L610.5,423.9Z" fill="none" stroke="#006400" stroke-width="1.0"/>
<path d="M610.6,427.5L613.3,424.9L615.9,427.5L613.3,430.2Z" fill="none" stroke="#006400" stroke-width="1.0"/>
<path d="M612.8,429.3L615.4,426.7L618.1,429.3L615.4,432.0Z" fill="none" stroke="#006400" stroke-width="1.0"/>
<path d="M615.1,430.2L617.8,427.6L620.4,430.2L617.8,432.9Z" fill="none" stroke="#006400" stroke-width="1.0"/>
<path d="M617.5,427.5L620.1,424.9L622.8,427.5L620.1,430.2Z" fill="none" stroke="#006400" stroke-width="1.0"/>
<path d="M619.6,427.9L622.3,425.2L624.9,427.9L622.3,430.5Z" fill="none" stroke="#006400" stroke-width="1.0"/>
<path d="M621.8,439.3L624.5,436.6L627.1,439.3L624.5,441.9Z" fill="none" stroke="#006400" stroke-width="1.0"/>
<path d="M624.2,443.4L626.8,440.8L629.5,443.4L626.8,446.1Z" fill="none" stroke="#006400" stroke-width="1.0"/>
<path d="M626.3,434.8L629.0,432.1L631.6,434.8L629.0,437.4Z" fill="none" stroke="#006400" stroke-width="1.0"/>
<path d="M628.7,430.2L631.3,427.6L634.0,430.2L631.3,432.9Z" fill="none" stroke="#006400" stroke-width="1.0"/>
<path d="M630.8,429.0L633.5,426.3L636.1,429.0L633.5,431.6Z" fill="none" stroke="#006400" stroke-width="1.0"/>
<path d="M633.2,429.3L635.8,426.7L638.5,429.3L635.8,432.0Z" fill="none" stroke="#006400" stroke-width="1.0"/>
<path d="M635.0,428.4L637.7,425.8L640.3,428.4L637.7,431.1Z" fill="none" stroke="#006400" stroke-width="1.0"/>
<path d="M637.2,435.7L639.8,433.0L642.5,435.7L639.8,438.3Z" fill="none" stroke="#006400" stroke-width="1.0"/>
<path d="M639.5,435.1L642.2,432.5L644.8,435.1L642.2,437.8Z" fill="none" stroke="#006400" stroke-width="1.0"/>
<path d="M641.7,433.3L644.3,430.7L647.0,433.3L644.3,436.0Z" fill="none" stroke="#006400" stroke-width="1.0"/>
<path d="M643.1,418.0L645.8,415.3L648.4,418.0L645.8,420.6Z" fill="none" stroke="#006400" stroke-width="1.0"/>
<path d="M662.1,449.2L664.8,446.6L667.4,449.2L664.8,451.9Z" fill="none" stroke="#006400" stroke-width="1.0"/>
<path d="M664.5,443.4L667.1,440.8L669.8,443.4L667.1,446.1Z" fill="none" stroke="#006400" stroke-width="1.0"/>
<path d="M666.6,445.6L669.3,443.0L671.9,445.6L669.3,448.3Z" fill="none" stroke="#006400" stroke-width="1.0"/>
<path d="M669.0,438.7L671.6,436.1L674.3,438.7L671.6,441.4Z" fill="none" stroke="#006400" stroke-width="1.0"/>
<path d="M671.2,446.5L673.8,443.9L676.5,446.5L673.8,449.2Z" fill="none" stroke="#006400" stroke-width="1.0"/>
<path d="M673.5,450.7L676.2,448.0L678.8,450.7L676.2,453.3Z" fill="none" stroke="#006400" stroke-width="1.0"/>
<path d="M675.7,448.3L678.3,445.7L681.0,448.3L678.3,451.0Z" fill="none" stroke="#006400" stroke-width="1.0"/>
<path d="M677.8,449.2L680.5,446.6L683.1,449.2L680.5,451.9Z" fill="none" stroke="#006400" stroke-width="1.0"/>
<path d="M678.1,449.2L680.7,446.5L683.4,449.2L680.7,451.8Z" fill="none" stroke="#006400" stroke-width="1.0"/>
<path d="M680.3,451.4L682.9,448.7L685.6,451.4L682.9,454.0Z" fill="none" stroke="#006400" stroke-width="1.0"/>
<path d="M682.4,448.0L685.1,445.4L687.7,448.0L685.1,450.7Z" fill="none" stroke="#006400" stroke-width="1.0"/>
<path d="M684.6,452.4L687.3,449.7L689.9,452.4L687.3,455.0Z" fill="none" stroke="#006400" stroke-width="1.0"/>
<path d="M686.8,448.9L689.4,446.2L692.1,448.9L689.4,451.5Z" fill="none" stroke="#006400" stroke-width="1.0"/>
<path d="M689.7,455.0L692.3,452.3L695.0,455.0L692.3,457.6Z" fill="none" stroke="#006400" stroke-width="1.0"/>
<path d="M691.9,445.1L694.5,442.5L697.2,445.1L694.5,447.8Z" fill="none" stroke="#006400" stroke-width="1.0"/>
<path d="M694.5,447.4L697.1,444.8L699.8,447.4L697.1,450.1Z" fill="none" stroke="#006400" stroke-width="1.0"/>
<path d="M696.9,443.7L699.6,441.0L702.2,443.7L699.6,446.3Z" fill="none" stroke="#006400" stroke-width="1.0"/>
<path d="M699.4,463.0L702.1,460.3L704.7,463.0L702.1,465.6Z" fill="none" stroke="#006400" stroke-width="1.0"/>
<path d="M702.0,454.3L704.7,451.6L707.3,454.3L704.7,456.9Z" fill="none" stroke="#006400" stroke-width="1.0"/>
<path d="M704.6,449.5L707.3,446.8L709.9,449.5L707.3,452.1Z" fill="none" stroke="#006400" stroke-width="1.0"/>
<path d="M707.1,456.1L709.7,453.5L712.4,456.1L709.7,458.8Z" fill="none" stroke="#006400" stroke-width="1.0"/>
<path d="M709.6,449.5L712.2,446.8L714.9,449.5L712.2,452.1Z" fill="none" stroke="#006400" stroke-width="1.0"/>
<path d="M712.2,447.7L714.8,445.1L717.5,447.7L714.8,450.4Z" fill="none" stroke="#006400" stroke-width="1.0"/>
<path d="M714.8,452.4L717.4,449.7L720.1,452.4L717.4,455.0Z" fill="none" stroke="#006400" stroke-width="1.0"/>
<path d="M717.3,456.1L719.9,453.5L722.6,456.1L719.9,458.8Z" fill="none" stroke="#006400" stroke-width="1.0"/>
<path d="M719.7,445.5L722.4,442.9L725.0,445.5L722.4,448.2Z" fill="none" stroke="#006400" stroke-width="1.0"/>
<path d="M722.3,442.2L725.0,439.6L727.6,442.2L725.0,444.9Z" fill="none" stroke="#006400" stroke-width="1.0"/>
<path d="M724.9,456.1L727.6,453.5L730.2,456.1L727.6,458.8Z" fill="none" stroke="#006400" stroke-width="1.0"/>
<path d="M727.4,454.7L730.1,452.0L732.7,454.7L730.1,457.3Z" fill="none" stroke="#006400" stroke-width="1.0"/>
<path d="M729.9,460.1L732.5,457.4L735.2,460.1L732.5,462.7Z" fill="none" stroke="#006400" stroke-width="1.0"/>
<path d="M732.5,444.8L735.1,442.2L737.8,444.8L735.1,447.5Z" fill="none" stroke="#006400" stroke-width="1.0"/>
<path d="M735.0,458.6L737.6,456.0L740.3,458.6L737.6,461.3Z" fill="none" stroke="#006400" stroke-width="1.0"/>
<path d="M737.3,453.2L739.9,450.6L742.6,453.2L739.9,455.9Z" fill="none" stroke="#006400" stroke-width="1.0"/>
<path d="M739.7,446.0L742.4,443.3L745.0,446.0L742.4,448.6Z" fill="none" stroke="#006400" stroke-width="1.0"/>
<path d="M742.4,456.4L745.0,453.8L747.7,456.4L745.0,459.1Z" fill="none" stroke="#006400" stroke-width="1.0"/>
<path d="M744.8,461.1L747.5,458.4L750.1,461.1L747.5,463.7Z" fill="none" stroke="#006400" stroke-width="1.0"/>
<path d="M747.4,471.2L750.1,468.6L752.7,471.2L750.1,473.9Z" fill="none" stroke="#006400" stroke-width="1.0"/>
<path d="M749.9,473.1L752.5,470.5L755.2,473.1L752.5,475.8Z" fill="none" stroke="#006400" stroke-width="1.0"/>
<path d="M752.4,463.7L755.0,461.0L757.7,463.7L755.0,466.3Z" fill="none" stroke="#006400" stroke-width="1.0"/>
<path d="M755.0,466.9L757.6,464.2L760.3,466.9L757.6,469.5Z" fill="none" stroke="#006400" stroke-width="1.0"/>
<path d="M757.4,446.0L760.1,443.3L762.7,446.0L760.1,448.6Z" fill="none" stroke="#006400" stroke-width="1.0"/>
<path d="M759.8,451.8L762.4,449.1L765.1,451.8L762.4,454.4Z" fill="none" stroke="#006400" stroke-width="1.0"/>
<path d="M762.5,454.0L765.2,451.3L767.8,454.0L765.2,456.6Z" fill="none" stroke="#006400" stroke-width="1.0"/>
<path d="M764.8,466.9L767.5,464.2L770.1,466.9L767.5,469.5Z" fill="none" stroke="#006400" stroke-width="1.0"/>
<path d="M767.3,458.6L770.0,456.0L772.6,458.6L770.0,461.3Z" fill="none" stroke="#006400" stroke-width="1.0"/>
<path d="M769.9,452.8L772.6,450.2L775.2,452.8L772.6,455.5Z" fill="none" stroke="#006400" stroke-width="1.0"/>
<path d="M772.4,460.8L775.0,458.1L777.7,460.8L775.0,463.4Z" fill="none" stroke="#006400" stroke-width="1.0"/>
<path d="M774.9,467.6L777.5,465.0L780.2,467.6L777.5,470.3Z" fill="none" stroke="#006400" stroke-width="1.0"/>
<path d="M777.5,464.0L780.1,461.3L782.8,464.0L780.1,466.6Z" fill="none" stroke="#006400" stroke-width="1.0"/>
<path d="M448.1,485.4L450.7,482.8L453.3,485.4L450.7,488.0Z" fill="none" stroke="#006400" stroke-width="1.0"/>
<path d="M448.7,503.5L451.3,500.9L453.9,503.5L451.3,506.1Z" fill="none" stroke="#006400" stroke-width="1.0"/>
<path d="M457.9,504.3L460.5,501.7L463.1,504.3L460.5,506.9Z" fill="none" stroke="#006400" stroke-width="1.0"/>
<path d="M463.4,507.9L466.0,505.2L468.6,507.9L466.0,510.5Z" fill="none" stroke="#006400" stroke-width="1.0"/>
<path d="M461.0,511.4L463.6,508.8L466.2,511.4L463.6,514.0Z" fill="none" stroke="#006400" stroke-width="1.0"/>
<path d="M455.7,512.0L458.3,509.4L460.9,512.0L458.3,514.6Z" fill="none" stroke="#006400" stroke-width="1.0"/>
<path d="M124.80,428.67 L125.73,428.45 L126.66,428.23 L127.58,428.00 L128.51,427.78 L129.44,427.55 L130.37,427.33 L131.29,427.10 L132.22,426.87 L133.15,426.65 L134.08,426.42 L135.00,426.19 L135.93,425.97 L136.86,425.74 L137.79,425.51 L138.71,425.28 L139.64,425.05 L140.57,424.82 L141.50,424.59 L142.43,424.36 L143.35,424.13 L144.28,423.90 L145.21,423.67 L146.14,423.44 L147.06,423.21 L147.99,422.98 L148.92,422.75 L149.85,422.52 L150.77,422.29 L151.70,422.05 L152.63,421.82 L153.56,421.59 L154.48,421.36 L155.41,421.12 L156.34,420.89 L157.27,420.66 L158.19,420.42 L159.12,420.19 L160.05,419.96 L160.98,419.72 L161.91,419.49 L162.83,419.25 L163.76,419.02 L164.69,418.78 L165.62,418.55 L166.54,418.31 L167.47,418.08 L168.40,417.84 L169.33,417.61 L170.25,417.37 L171.18,417.14 L172.11,416.91 L173.04,416.67 L173.96,416.44 L174.89,416.21 L175.82,415.98 L176.75,415.75 L177.68,415.52 L178.60,415.29 L179.53,415.06 L180.46,414.83 L181.39,414.60 L182.31,414.37 L183.24,414.14 L184.17,413.91 L185.10,413.68 L186.02,413.46 L186.95,413.23 L187.88,413.00 L188.81,412.77 L189.73,412.54 L190.66,412.32 L191.59,412.09 L192.52,411.86 L193.45,411.63 L194.37,411.41 L195.30,411.18 L196.23,410.95 L197.16,410.72 L198.08,410.49 L199.01,410.27 L199.94,410.04 L200.87,409.81 L201.79,409.58 L202.72,409.35 L203.65,409.12 L204.58,408.89 L205.50,408.66 L206.43,408.43 L207.36,408.20 L208.29,407.97 L209.22,407.74 L210.14,407.51 L211.07,407.27 L212.00,407.04 L212.93,406.81 L213.85,406.57 L214.78,406.34 L215.71,406.10 L216.64,405.87 L217.56,405.63 L218.49,405.40 L219.42,405.16 L220.35,404.92 L221.27,404.68 L222.20,404.44 L223.13,404.20 L224.06,403.96 L224.99,403.72 L225.91,403.48 L226.84,403.24 L227.77,403.00 L228.70,402.75 L229.62,402.51 L230.55,402.27 L231.48,402.03 L232.41,401.79 L233.33,401.55 L234.26,401.31 L235.19,401.06 L236.12,400.82 L237.04,400.58 L237.97,400.34 L238.90,400.10 L239.83,399.86 L240.75,399.63 L241.68,399.39 L242.61,399.15 L243.54,398.91 L244.47,398.68 L245.39,398.44 L246.32,398.21 L247.25,397.98 L248.18,397.74 L249.10,397.51 L250.03,397.28 L250.96,397.05 L251.89,396.83 L252.81,396.60 L253.74,396.37 L254.67,396.15 L255.60,395.93 L256.52,395.71 L257.45,395.49 L258.38,395.27 L259.31,395.05 L260.24,394.84 L261.16,394.63 L262.09,394.42 L263.02,394.21 L263.95,394.00 L264.87,393.79 L265.80,393.59 L266.73,393.39 L267.66,393.19 L268.58,392.98 L269.51,392.78 L270.44,392.58 L271.37,392.39 L272.29,392.19 L273.22,391.99 L274.15,391.80 L275.08,391.60 L276.01,391.41 L276.93,391.22 L277.86,391.03 L278.79,390.84 L279.72,390.65 L280.64,390.46 L281.57,390.27 L282.50,390.09 L283.43,389.91 L284.35,389.73 L285.28,389.55 L286.21,389.37 L287.14,389.19 L288.06,389.02 L288.99,388.84 L289.92,388.67 L290.85,388.50 L291.78,388.34 L292.70,388.17 L293.63,388.01 L294.56,387.84 L295.49,387.68 L296.41,387.52 L297.34,387.37 L298.27,387.21 L299.20,387.06 L300.12,386.91 L301.05,386.76 L301.98,386.62 L302.91,386.48 L303.83,386.34 L304.76,386.20 L305.69,386.06 L306.62,385.93 L307.54,385.79 L308.47,385.67 L309.40,385.54 L310.33,385.42 L311.26,385.29 L312.18,385.18 L313.11,385.06 L314.04,384.95 L314.97,384.84 L315.89,384.73 L316.82,384.62 L317.75,384.52 L318.68,384.42 L319.60,384.32 L320.53,384.23 L321.46,384.14 L322.39,384.05 L323.31,383.96 L324.24,383.88 L325.17,383.79 L326.10,383.71 L327.03,383.63 L327.95,383.55 L328.88,383.48 L329.81,383.40 L330.74,383.33 L331.66,383.26 L332.59,383.19 L333.52,383.13 L334.45,383.06 L335.37,383.00 L336.30,382.94 L337.23,382.88 L338.16,382.83 L339.08,382.77 L340.01,382.72 L340.94,382.67 L341.87,382.62 L342.80,382.58 L343.72,382.54 L344.65,382.50 L345.58,382.46 L346.51,382.42 L347.43,382.38 L348.36,382.35 L349.29,382.32 L350.22,382.29 L351.14,382.27 L352.07,382.24 L353.00,382.22 L353.93,382.20 L354.85,382.18 L355.78,382.17 L356.71,382.16 L357.64,382.14 L358.57,382.14 L359.49,382.13 L360.42,382.12 L361.35,382.12 L362.28,382.12 L363.20,382.12 L364.13,382.13 L365.06,382.14 L365.99,382.15 L366.91,382.16 L367.84,382.17 L368.77,382.19 L369.70,382.20 L370.62,382.22 L371.55,382.25 L372.48,382.27 L373.41,382.30 L374.33,382.33 L375.26,382.36 L376.19,382.39 L377.12,382.43 L378.05,382.47 L378.97,382.51 L379.90,382.55 L380.83,382.60 L381.76,382.65 L382.68,382.70 L383.61,382.75 L384.54,382.80 L385.47,382.86 L386.39,382.92 L387.32,382.98 L388.25,383.05 L389.18,383.11 L390.10,383.18 L391.03,383.25 L391.96,383.32 L392.89,383.40 L393.82,383.48 L394.74,383.56 L395.67,383.64 L396.60,383.73 L397.53,383.81 L398.45,383.90 L399.38,384.00 L400.31,384.09 L401.24,384.19 L402.16,384.29 L403.09,384.39 L404.02,384.49 L404.95,384.60 L405.87,384.71 L406.80,384.82 L407.73,384.93 L408.66,385.04 L409.59,385.16 L410.51,385.28 L411.44,385.41 L412.37,385.53 L413.30,385.66 L414.22,385.79 L415.15,385.92 L416.08,386.05 L417.01,386.19 L417.93,386.33 L418.86,386.47 L419.79,386.61 L420.72,386.76 L421.64,386.90 L422.57,387.05 L423.50,387.21 L424.43,387.36 L425.36,387.52 L426.28,387.67 L427.21,387.84 L428.14,388.00 L429.07,388.16 L429.99,388.33 L430.92,388.50 L431.85,388.67 L432.78,388.84 L433.70,389.02 L434.63,389.19 L435.56,389.37 L436.49,389.55 L437.41,389.74 L438.34,389.92 L439.27,390.11 L440.20,390.30 L441.12,390.49 L442.05,390.68 L442.98,390.87 L443.91,391.07 L444.84,391.27 L445.76,391.47 L446.69,391.67 L447.62,391.87 L448.55,392.08 L449.47,392.28 L450.40,392.49 L451.33,392.70 L452.26,392.91 L453.18,393.13 L454.11,393.34 L455.04,393.56 L455.97,393.78 L456.89,394.00 L457.82,394.22 L458.75,394.44 L459.68,394.66 L460.61,394.89 L461.53,395.12 L462.46,395.34 L463.39,395.57 L464.32,395.81 L465.24,396.04 L466.17,396.27 L467.10,396.51 L468.03,396.74 L468.95,396.98 L469.88,397.22 L470.81,397.46 L471.74,397.70 L472.66,397.94 L473.59,398.19 L474.52,398.43 L475.45,398.68 L476.38,398.92 L477.30,399.17 L478.23,399.42 L479.16,399.67 L480.09,399.92 L481.01,400.17 L481.94,400.43 L482.87,400.68 L483.80,400.93 L484.72,401.19 L485.65,401.45 L486.58,401.70 L487.51,401.96 L488.43,402.22 L489.36,402.48 L490.29,402.74 L491.22,403.00 L492.15,403.27 L493.07,403.53 L494.00,403.79 L494.93,404.06 L495.86,404.32 L496.78,404.59 L497.71,404.85 L498.64,405.12 L499.57,405.39 L500.49,405.65 L501.42,405.92 L502.35,406.19 L503.28,406.46 L504.20,406.73 L505.13,407.00 L506.06,407.27 L506.99,407.54 L507.91,407.81 L508.84,408.09 L509.77,408.36 L510.70,408.63 L511.63,408.91 L512.55,409.18 L513.48,409.45 L514.41,409.73 L515.34,410.00 L516.26,410.28 L517.19,410.55 L518.12,410.83 L519.05,411.10 L519.97,411.38 L520.90,411.65 L521.83,411.93 L522.76,412.21 L523.68,412.48 L524.61,412.76 L525.54,413.03 L526.47,413.31 L527.40,413.59 L528.32,413.86 L529.25,414.14 L530.18,414.42 L531.11,414.69 L532.03,414.97 L532.96,415.24 L533.89,415.52 L534.82,415.80 L535.74,416.07 L536.67,416.35 L537.60,416.62 L538.53,416.90 L539.45,417.17 L540.38,417.45 L541.31,417.72 L542.24,417.99 L543.17,418.27 L544.09,418.54 L545.02,418.81 L545.95,419.08 L546.88,419.35 L547.80,419.63 L548.73,419.90 L549.66,420.17 L550.59,420.44 L551.51,420.71 L552.44,420.97 L553.37,421.24 L554.30,421.51 L555.22,421.78 L556.15,422.04 L557.08,422.31 L558.01,422.57 L558.94,422.83 L559.86,423.10 L560.79,423.36 L561.72,423.62 L562.65,423.88 L563.57,424.14 L564.50,424.40 L565.43,424.66 L566.36,424.92 L567.28,425.17 L568.21,425.43 L569.14,425.68 L570.07,425.94 L570.99,426.19 L571.92,426.44 L572.85,426.69 L573.78,426.94 L574.70,427.19 L575.63,427.44 L576.56,427.68 L577.49,427.93 L578.42,428.17 L579.34,428.41 L580.27,428.65 L581.20,428.89 L582.13,429.13 L583.05,429.37 L583.98,429.60 L584.91,429.84 L585.84,430.07 L586.76,430.30 L587.69,430.53 L588.62,430.76 L589.55,430.99 L590.47,431.22 L591.40,431.44 L592.33,431.66 L593.26,431.89 L594.19,432.11 L595.11,432.32 L596.04,432.54 L596.97,432.76 L597.90,432.97 L598.82,433.18 L599.75,433.39 L600.68,433.60 L601.61,433.81 L602.53,434.01 L603.46,434.21 L604.39,434.42 L605.32,434.61 L606.24,434.81 L607.17,435.01 L608.10,435.20 L609.03,435.39 L609.96,435.58 L610.88,435.77 L611.81,435.96 L612.74,436.14 L613.67,436.32 L614.59,436.49 L615.52,436.66 L616.45,436.83 L617.38,437.00 L618.30,437.17 L619.23,437.33 L620.16,437.49 L621.09,437.64 L622.01,437.79 L622.94,437.94 L623.87,438.09 L624.80,438.24 L625.73,438.38 L626.65,438.51 L627.58,438.65 L628.51,438.78 L629.44,438.91 L630.36,439.04 L631.29,439.16 L632.22,439.29 L633.15,439.40 L634.07,439.52 L635.00,439.63 L635.93,439.74 L636.86,439.85 L637.78,439.95 L638.71,440.06 L639.64,440.16 L640.57,440.25 L641.49,440.35 L642.42,440.44 L643.35,440.52 L644.28,440.61 L645.21,440.69 L646.13,440.77 L647.06,440.85 L647.99,440.93 L648.92,441.00 L649.84,441.07 L650.77,441.13 L651.70,441.20 L652.63,441.26 L653.55,441.32 L654.48,441.38 L655.41,441.43 L656.34,441.48 L657.26,441.53 L658.19,441.58 L659.12,441.62 L660.05,441.67 L660.98,441.71 L661.90,441.74 L662.83,441.78 L663.76,441.81 L664.69,441.84 L665.61,441.87 L666.54,441.89 L667.47,441.92 L668.40,441.94 L669.32,441.96 L670.25,441.97 L671.18,441.99 L672.11,442.00 L673.03,442.01 L673.96,442.02 L674.89,442.03 L675.82,442.03 L676.75,442.03 L677.67,442.03 L678.60,442.03 L679.53,442.03 L680.46,442.02 L681.38,442.02 L682.31,442.01 L683.24,442.00 L684.17,441.98 L685.09,441.97 L686.02,441.95 L686.95,441.93 L687.88,441.91 L688.80,441.89 L689.73,441.87 L690.66,441.85 L691.59,441.82 L692.51,441.79 L693.44,441.76 L694.37,441.72 L695.30,441.69 L696.23,441.65 L697.15,441.60 L698.08,441.56 L699.01,441.51 L699.94,441.46 L700.86,441.41 L701.79,441.36 L702.72,441.30 L703.65,441.24 L704.57,441.18 L705.50,441.12 L706.43,441.05 L707.36,440.99 L708.28,440.92 L709.21,440.84 L710.14,440.77 L711.07,440.69 L712.00,440.62 L712.92,440.54 L713.85,440.45 L714.78,440.37 L715.71,440.28 L716.63,440.19 L717.56,440.10 L718.49,440.01 L719.42,439.91 L720.34,439.82 L721.27,439.72 L722.20,439.62 L723.13,439.51 L724.05,439.41 L724.98,439.30 L725.91,439.19 L726.84,439.08 L727.77,438.97 L728.69,438.86 L729.62,438.74 L730.55,438.63 L731.48,438.51 L732.40,438.39 L733.33,438.27 L734.26,438.15 L735.19,438.02 L736.11,437.90 L737.04,437.77 L737.97,437.64 L738.90,437.51 L739.82,437.38 L740.75,437.24 L741.68,437.11 L742.61,436.98 L743.54,436.84 L744.46,436.70 L745.39,436.56 L746.32,436.42 L747.25,436.28 L748.17,436.14 L749.10,436.00 L750.03,435.85 L750.96,435.71 L751.88,435.56 L752.81,435.41 L753.74,435.27 L754.67,435.12 L755.59,434.97 L756.52,434.82 L757.45,434.67 L758.38,434.52 L759.31,434.37 L760.23,434.21 L761.16,434.06 L762.09,433.91 L763.02,433.76 L763.94,433.60 L764.87,433.45 L765.80,433.29 L766.73,433.14 L767.65,432.98 L768.58,432.83 L769.51,432.67 L770.44,432.52 L771.36,432.36 L772.29,432.21 L773.22,432.05 L774.15,431.90 L775.07,431.74 L776.00,431.59 L776.93,431.43 L777.86,431.28 L778.79,431.13 L779.71,430.97 L780.64,430.82 L781.57,430.67 L782.50,430.52 L783.42,430.37 L784.35,430.22 L785.28,430.07 L786.21,429.92 L787.13,429.77 L788.06,429.62 L788.99,429.48 L789.92,429.33 L790.84,429.19 L791.77,429.04 L792.70,428.90" fill="none" stroke="#006400" stroke-width="2.35" stroke-linejoin="round"/>
<path d="M124.80,440.87 L125.73,440.74 L126.66,440.60 L127.58,440.46 L128.51,440.31 L129.44,440.16 L130.37,440.01 L131.29,439.86 L132.22,439.70 L133.15,439.54 L134.08,439.38 L135.00,439.22 L135.93,439.05 L136.86,438.88 L137.79,438.70 L138.71,438.52 L139.64,438.34 L140.57,438.16 L141.50,437.98 L142.43,437.79 L143.35,437.60 L144.28,437.40 L145.21,437.21 L146.14,437.01 L147.06,436.81 L147.99,436.60 L148.92,436.40 L149.85,436.19 L150.77,435.98 L151.70,435.76 L152.63,435.55 L153.56,435.33 L154.48,435.11 L155.41,434.88 L156.34,434.66 L157.27,434.43 L158.19,434.20 L159.12,433.97 L160.05,433.73 L160.98,433.50 L161.91,433.26 L162.83,433.02 L163.76,432.77 L164.69,432.53 L165.62,432.28 L166.54,432.03 L167.47,431.78 L168.40,431.52 L169.33,431.27 L170.25,431.01 L171.18,430.75 L172.11,430.50 L173.04,430.24 L173.96,429.97 L174.89,429.71 L175.82,429.45 L176.75,429.18 L177.68,428.92 L178.60,428.65 L179.53,428.38 L180.46,428.11 L181.39,427.84 L182.31,427.56 L183.24,427.29 L184.17,427.01 L185.10,426.74 L186.02,426.46 L186.95,426.18 L187.88,425.89 L188.81,425.61 L189.73,425.32 L190.66,425.04 L191.59,424.75 L192.52,424.46 L193.45,424.16 L194.37,423.87 L195.30,423.57 L196.23,423.28 L197.16,422.98 L198.08,422.67 L199.01,422.37 L199.94,422.07 L200.87,421.76 L201.79,421.45 L202.72,421.14 L203.65,420.83 L204.58,420.51 L205.50,420.19 L206.43,419.88 L207.36,419.55 L208.29,419.23 L209.22,418.91 L210.14,418.58 L211.07,418.25 L212.00,417.92 L212.93,417.58 L213.85,417.25 L214.78,416.91 L215.71,416.57 L216.64,416.23 L217.56,415.88 L218.49,415.53 L219.42,415.18 L220.35,414.83 L221.27,414.48 L222.20,414.12 L223.13,413.77 L224.06,413.41 L224.99,413.04 L225.91,412.68 L226.84,412.32 L227.77,411.95 L228.70,411.58 L229.62,411.22 L230.55,410.85 L231.48,410.47 L232.41,410.10 L233.33,409.73 L234.26,409.35 L235.19,408.98 L236.12,408.60 L237.04,408.23 L237.97,407.85 L238.90,407.47 L239.83,407.09 L240.75,406.72 L241.68,406.34 L242.61,405.96 L243.54,405.58 L244.47,405.20 L245.39,404.82 L246.32,404.44 L247.25,404.06 L248.18,403.68 L249.10,403.30 L250.03,402.93 L250.96,402.55 L251.89,402.17 L252.81,401.80 L253.74,401.42 L254.67,401.04 L255.60,400.67 L256.52,400.30 L257.45,399.93 L258.38,399.56 L259.31,399.19 L260.24,398.82 L261.16,398.45 L262.09,398.08 L263.02,397.72 L263.95,397.36 L264.87,397.00 L265.80,396.64 L266.73,396.28 L267.66,395.92 L268.58,395.56 L269.51,395.20 L270.44,394.84 L271.37,394.48 L272.29,394.12 L273.22,393.76 L274.15,393.41 L275.08,393.05 L276.01,392.70 L276.93,392.34 L277.86,391.99 L278.79,391.64 L279.72,391.28 L280.64,390.93 L281.57,390.59 L282.50,390.24 L283.43,389.89 L284.35,389.55 L285.28,389.21 L286.21,388.87 L287.14,388.53 L288.06,388.19 L288.99,387.86 L289.92,387.53 L290.85,387.20 L291.78,386.87 L292.70,386.54 L293.63,386.22 L294.56,385.90 L295.49,385.58 L296.41,385.27 L297.34,384.96 L298.27,384.65 L299.20,384.34 L300.12,384.04 L301.05,383.74 L301.98,383.44 L302.91,383.15 L303.83,382.86 L304.76,382.57 L305.69,382.29 L306.62,382.01 L307.54,381.73 L308.47,381.46 L309.40,381.19 L310.33,380.94 L311.26,380.69 L312.18,380.44 L313.11,380.20 L314.04,379.96 L314.97,379.73 L315.89,379.50 L316.82,379.28 L317.75,379.05 L318.68,378.83 L319.60,378.60 L320.53,378.38 L321.46,378.15 L322.39,377.93 L323.31,377.70 L324.24,377.46 L325.17,377.23 L326.10,377.00 L327.03,376.78 L327.95,376.55 L328.88,376.33 L329.81,376.10 L330.74,375.88 L331.66,375.67 L332.59,375.45 L333.52,375.24 L334.45,375.03 L335.37,374.82 L336.30,374.61 L337.23,374.41 L338.16,374.21 L339.08,374.01 L340.01,373.81 L340.94,373.62 L341.87,373.43 L342.80,373.24 L343.72,373.05 L344.65,372.87 L345.58,372.69 L346.51,372.51 L347.43,372.33 L348.36,372.16 L349.29,371.99 L350.22,371.83 L351.14,371.66 L352.07,371.50 L353.00,371.34 L353.93,371.19 L354.85,371.04 L355.78,370.89 L356.71,370.74 L357.64,370.60 L358.57,370.46 L359.49,370.32 L360.42,370.19 L361.35,370.06 L362.28,369.93 L363.20,369.81 L364.13,369.69 L365.06,369.57 L365.99,369.46 L366.91,369.35 L367.84,369.24 L368.77,369.14 L369.70,369.04 L370.62,368.95 L371.55,368.85 L372.48,368.76 L373.41,368.68 L374.33,368.60 L375.26,368.52 L376.19,368.45 L377.12,368.38 L378.05,368.31 L378.97,368.25 L379.90,368.19 L380.83,368.13 L381.76,368.08 L382.68,368.03 L383.61,367.99 L384.54,367.95 L385.47,367.91 L386.39,367.88 L387.32,367.85 L388.25,367.83 L389.18,367.80 L390.10,367.79 L391.03,367.78 L391.96,367.77 L392.89,367.76 L393.82,367.76 L394.74,367.77 L395.67,367.77 L396.60,367.79 L397.53,367.80 L398.45,367.82 L399.38,367.85 L400.31,367.88 L401.24,367.91 L402.16,367.95 L403.09,367.99 L404.02,368.03 L404.95,368.08 L405.87,368.13 L406.80,368.18 L407.73,368.24 L408.66,368.30 L409.59,368.36 L410.51,368.43 L411.44,368.51 L412.37,368.58 L413.30,368.66 L414.22,368.74 L415.15,368.83 L416.08,368.92 L417.01,369.01 L417.93,369.11 L418.86,369.21 L419.79,369.32 L420.72,369.42 L421.64,369.54 L422.57,369.65 L423.50,369.77 L424.43,369.89 L425.36,370.02 L426.28,370.15 L427.21,370.28 L428.14,370.41 L429.07,370.55 L429.99,370.70 L430.92,370.84 L431.85,370.99 L432.78,371.15 L433.70,371.30 L434.63,371.46 L435.56,371.63 L436.49,371.80 L437.41,371.97 L438.34,372.14 L439.27,372.32 L440.20,372.50 L441.12,372.68 L442.05,372.87 L442.98,373.06 L443.91,373.26 L444.84,373.45 L445.76,373.65 L446.69,373.86 L447.62,374.07 L448.55,374.28 L449.47,374.50 L450.40,374.71 L451.33,374.94 L452.26,375.16 L453.18,375.39 L454.11,375.63 L455.04,375.86 L455.97,376.10 L456.89,376.35 L457.82,376.59 L458.75,376.85 L459.68,377.10 L460.61,377.36 L461.53,377.62 L462.46,377.88 L463.39,378.15 L464.32,378.42 L465.24,378.70 L466.17,378.97 L467.10,379.26 L468.03,379.54 L468.95,379.83 L469.88,380.12 L470.81,380.41 L471.74,380.71 L472.66,381.01 L473.59,381.32 L474.52,381.62 L475.45,381.93 L476.38,382.25 L477.30,382.56 L478.23,382.88 L479.16,383.21 L480.09,383.53 L481.01,383.86 L481.94,384.19 L482.87,384.53 L483.80,384.87 L484.72,385.21 L485.65,385.55 L486.58,385.90 L487.51,386.25 L488.43,386.60 L489.36,386.95 L490.29,387.31 L491.22,387.67 L492.15,388.04 L493.07,388.40 L494.00,388.79 L494.93,389.21 L495.86,389.65 L496.78,390.10 L497.71,390.55 L498.64,390.98 L499.57,391.38 L500.49,391.74 L501.42,392.11 L502.35,392.47 L503.28,392.83 L504.20,393.20 L505.13,393.56 L506.06,393.93 L506.99,394.30 L507.91,394.66 L508.84,395.03 L509.77,395.40 L510.70,395.77 L511.63,396.14 L512.55,396.51 L513.48,396.88 L514.41,397.25 L515.34,397.62 L516.26,398.00 L517.19,398.37 L518.12,398.75 L519.05,399.12 L519.97,399.50 L520.90,399.88 L521.83,400.25 L522.76,400.63 L523.68,401.01 L524.61,401.39 L525.54,401.77 L526.47,402.15 L527.40,402.54 L528.32,402.92 L529.25,403.30 L530.18,403.69 L531.11,404.07 L532.03,404.46 L532.96,404.85 L533.89,405.23 L534.82,405.62 L535.74,406.01 L536.67,406.40 L537.60,406.79 L538.53,407.18 L539.45,407.58 L540.38,407.97 L541.31,408.36 L542.24,408.76 L543.17,409.15 L544.09,409.55 L545.02,409.95 L545.95,410.35 L546.88,410.74 L547.80,411.14 L548.73,411.54 L549.66,411.94 L550.59,412.35 L551.51,412.75 L552.44,413.15 L553.37,413.56 L554.30,413.96 L555.22,414.37 L556.15,414.77 L557.08,415.18 L558.01,415.59 L558.94,416.00 L559.86,416.41 L560.79,416.81 L561.72,417.22 L562.65,417.63 L563.57,418.04 L564.50,418.45 L565.43,418.85 L566.36,419.26 L567.28,419.67 L568.21,420.07 L569.14,420.47 L570.07,420.88 L570.99,421.28 L571.92,421.68 L572.85,422.08 L573.78,422.48 L574.70,422.87 L575.63,423.27 L576.56,423.66 L577.49,424.06 L578.42,424.45 L579.34,424.84 L580.27,425.23 L581.20,425.62 L582.13,426.00 L583.05,426.39 L583.98,426.77 L584.91,427.15 L585.84,427.53 L586.76,427.91 L587.69,428.29 L588.62,428.66 L589.55,429.03 L590.47,429.40 L591.40,429.77 L592.33,430.14 L593.26,430.51 L594.19,430.87 L595.11,431.23 L596.04,431.59 L596.97,431.94 L597.90,432.30 L598.82,432.65 L599.75,433.00 L600.68,433.35 L601.61,433.69 L602.53,434.04 L603.46,434.38 L604.39,434.72 L605.32,435.05 L606.24,435.38 L607.17,435.71 L608.10,436.04 L609.03,436.37 L609.96,436.69 L610.88,437.01 L611.81,437.33 L612.74,437.64 L613.67,437.95 L614.59,438.26 L615.52,438.57 L616.45,438.87 L617.38,439.17 L618.30,439.47 L619.23,439.76 L620.16,440.05 L621.09,440.34 L622.01,440.63 L622.94,440.91 L623.87,441.19 L624.80,441.46 L625.73,441.74 L626.65,442.01 L627.58,442.27 L628.51,442.54 L629.44,442.80 L630.36,443.05 L631.29,443.31 L632.22,443.56 L633.15,443.81 L634.07,444.05 L635.00,444.29 L635.93,444.53 L636.86,444.77 L637.78,445.00 L638.71,445.23 L639.64,445.45 L640.57,445.68 L641.49,445.90 L642.42,446.11 L643.35,446.32 L644.28,446.53 L645.21,446.74 L646.13,446.94 L647.06,447.14 L647.99,447.33 L648.92,447.53 L649.84,447.72 L650.77,447.90 L651.70,448.08 L652.63,448.26 L653.55,448.44 L654.48,448.61 L655.41,448.78 L656.34,448.94 L657.26,449.10 L658.19,449.26 L659.12,449.41 L660.05,449.56 L660.98,449.71 L661.90,449.85 L662.83,449.99 L663.76,450.13 L664.69,450.26 L665.61,450.39 L666.54,450.52 L667.47,450.64 L668.40,450.76 L669.32,450.88 L670.25,450.99 L671.18,451.10 L672.11,451.20 L673.03,451.30 L673.96,451.40 L674.89,451.50 L675.82,451.59 L676.75,451.67 L677.67,451.76 L678.60,451.84 L679.53,451.92 L680.46,451.99 L681.38,452.06 L682.31,452.13 L683.24,452.19 L684.17,452.25 L685.09,452.31 L686.02,452.36 L686.95,452.41 L687.88,452.46 L688.80,452.50 L689.73,452.54 L690.66,452.58 L691.59,452.61 L692.51,452.64 L693.44,452.66 L694.37,452.69 L695.30,452.71 L696.23,452.72 L697.15,452.74 L698.08,452.75 L699.01,452.76 L699.94,452.76 L700.86,452.76 L701.79,452.76 L702.72,452.75 L703.65,452.75 L704.57,452.74 L705.50,452.72 L706.43,452.70 L707.36,452.68 L708.28,452.66 L709.21,452.63 L710.14,452.60 L711.07,452.57 L712.00,452.53 L712.92,452.49 L713.85,452.45 L714.78,452.40 L715.71,452.36 L716.63,452.30 L717.56,452.25 L718.49,452.19 L719.42,452.13 L720.34,452.07 L721.27,452.00 L722.20,451.94 L723.13,451.86 L724.05,451.79 L724.98,451.71 L725.91,451.64 L726.84,451.55 L727.77,451.47 L728.69,451.38 L729.62,451.29 L730.55,451.20 L731.48,451.11 L732.40,451.01 L733.33,450.92 L734.26,450.82 L735.19,450.71 L736.11,450.61 L737.04,450.50 L737.97,450.40 L738.90,450.29 L739.82,450.17 L740.75,450.06 L741.68,449.94 L742.61,449.83 L743.54,449.71 L744.46,449.59 L745.39,449.47 L746.32,449.34 L747.25,449.22 L748.17,449.09 L749.10,448.96 L750.03,448.83 L750.96,448.70 L751.88,448.57 L752.81,448.44 L753.74,448.30 L754.67,448.17 L755.59,448.03 L756.52,447.90 L757.45,447.76 L758.38,447.62 L759.31,447.48 L760.23,447.34 L761.16,447.20 L762.09,447.06 L763.02,446.92 L763.94,446.78 L764.87,446.64 L765.80,446.50 L766.73,446.35 L767.65,446.21 L768.58,446.07 L769.51,445.93 L770.44,445.79 L771.36,445.64 L772.29,445.50 L773.22,445.36 L774.15,445.22 L775.07,445.08 L776.00,444.94 L776.93,444.80 L777.86,444.66 L778.79,444.52 L779.71,444.39 L780.64,444.25 L781.57,444.12 L782.50,443.98 L783.42,443.85 L784.35,443.72 L785.28,443.59 L786.21,443.46 L787.13,443.33 L788.06,443.20 L788.99,443.08 L789.92,442.96 L790.84,442.86 L791.77,442.76 L792.70,442.66" fill="none" stroke="#006400" stroke-width="2.35" stroke-linejoin="round" stroke-dasharray="9.8 8.9" stroke-dashoffset="1.0"/>
<path d="M252.8,301.5L255.4,299.0L257.9,301.5L255.4,304.1Z" fill="none" stroke="#ff7f00" stroke-width="0.9"/>
<path d="M255.0,326.5L257.6,323.9L260.1,326.5L257.6,329.0Z" fill="none" stroke="#ff7f00" stroke-width="0.9"/>
<path d="M257.6,322.6L260.1,320.0L262.7,322.6L260.1,325.1Z" fill="none" stroke="#ff7f00" stroke-width="0.9"/>
<path d="M263.0,317.5L265.5,315.0L268.1,317.5L265.5,320.1Z" fill="none" stroke="#ff7f00" stroke-width="0.9"/>
<path d="M264.3,312.1L266.9,309.6L269.4,312.1L266.9,314.7Z" fill="none" stroke="#ff7f00" stroke-width="0.9"/>
<path d="M268.9,310.8L271.4,308.2L274.0,310.8L271.4,313.3Z" fill="none" stroke="#ff7f00" stroke-width="0.9"/>
<path d="M271.9,326.5L274.5,323.9L277.0,326.5L274.5,329.0Z" fill="none" stroke="#ff7f00" stroke-width="0.9"/>
<path d="M273.9,308.6L276.5,306.0L279.0,308.6L276.5,311.1Z" fill="none" stroke="#ff7f00" stroke-width="0.9"/>
<path d="M277.0,313.3L279.5,310.8L282.1,313.3L279.5,315.9Z" fill="none" stroke="#ff7f00" stroke-width="0.9"/>
<path d="M281.7,314.2L284.2,311.6L286.8,314.2L284.2,316.7Z" fill="none" stroke="#ff7f00" stroke-width="0.9"/>
<path d="M283.7,299.0L286.3,296.4L288.8,299.0L286.3,301.5Z" fill="none" stroke="#ff7f00" stroke-width="0.9"/>
<path d="M286.6,294.4L289.1,291.9L291.7,294.4L289.1,297.0Z" fill="none" stroke="#ff7f00" stroke-width="0.9"/>
<path d="M293.3,326.0L295.9,323.4L298.4,326.0L295.9,328.5Z" fill="none" stroke="#ff7f00" stroke-width="0.9"/>
<path d="M296.0,296.1L298.6,293.6L301.1,296.1L298.6,298.7Z" fill="none" stroke="#ff7f00" stroke-width="0.9"/>
<path d="M300.2,299.3L302.8,296.8L305.3,299.3L302.8,301.9Z" fill="none" stroke="#ff7f00" stroke-width="0.9"/>
<path d="M303.1,309.9L305.7,307.4L308.2,309.9L305.7,312.5Z" fill="none" stroke="#ff7f00" stroke-width="0.9"/>
<path d="M305.6,321.4L308.2,318.9L310.7,321.4L308.2,324.0Z" fill="none" stroke="#ff7f00" stroke-width="0.9"/>
<path d="M307.8,304.0L310.4,301.5L312.9,304.0L310.4,306.6Z" fill="none" stroke="#ff7f00" stroke-width="0.9"/>
<path d="M314.9,283.5L317.5,280.9L320.0,283.5L317.5,286.0Z" fill="none" stroke="#ff7f00" stroke-width="0.9"/>
<path d="M317.1,300.2L319.7,297.6L322.2,300.2L319.7,302.7Z" fill="none" stroke="#ff7f00" stroke-width="0.9"/>
<path d="M320.5,299.8L323.0,297.3L325.6,299.8L323.0,302.4Z" fill="none" stroke="#ff7f00" stroke-width="0.9"/>
<path d="M324.2,301.5L326.7,299.0L329.3,301.5L326.7,304.1Z" fill="none" stroke="#ff7f00" stroke-width="0.9"/>
<path d="M326.7,303.5L329.3,301.0L331.8,303.5L329.3,306.1Z" fill="none" stroke="#ff7f00" stroke-width="0.9"/>
<path d="M329.3,291.0L331.8,288.5L334.4,291.0L331.8,293.6Z" fill="none" stroke="#ff7f00" stroke-width="0.9"/>
<path d="M334.0,267.8L336.5,265.2L339.1,267.8L336.5,270.3Z" fill="none" stroke="#ff7f00" stroke-width="0.9"/>
<path d="M336.3,303.5L338.9,301.0L341.4,303.5L338.9,306.1Z" fill="none" stroke="#ff7f00" stroke-width="0.9"/>
<path d="M339.4,289.2L341.9,286.6L344.5,289.2L341.9,291.7Z" fill="none" stroke="#ff7f00" stroke-width="0.9"/>
<path d="M341.4,272.0L344.0,269.4L346.5,272.0L344.0,274.5Z" fill="none" stroke="#ff7f00" stroke-width="0.9"/>
<path d="M343.9,279.9L346.5,277.4L349.0,279.9L346.5,282.5Z" fill="none" stroke="#ff7f00" stroke-width="0.9"/>
<path d="M348.3,286.0L350.9,283.4L353.4,286.0L350.9,288.5Z" fill="none" stroke="#ff7f00" stroke-width="0.9"/>
<path d="M350.8,280.9L353.4,278.4L355.9,280.9L353.4,283.5Z" fill="none" stroke="#ff7f00" stroke-width="0.9"/>
<path d="M352.9,277.6L355.4,275.0L358.0,277.6L355.4,280.1Z" fill="none" stroke="#ff7f00" stroke-width="0.9"/>
<path d="M355.4,284.1L358.0,281.6L360.5,284.1L358.0,286.7Z" fill="none" stroke="#ff7f00" stroke-width="0.9"/>
<path d="M357.9,269.8L360.5,267.2L363.0,269.8L360.5,272.3Z" fill="none" stroke="#ff7f00" stroke-width="0.9"/>
<path d="M360.5,273.7L363.0,271.1L365.6,273.7L363.0,276.2Z" fill="none" stroke="#ff7f00" stroke-width="0.9"/>
<path d="M363.0,272.8L365.5,270.3L368.1,272.8L365.5,275.4Z" fill="none" stroke="#ff7f00" stroke-width="0.9"/>
<path d="M365.5,280.4L368.1,277.9L370.6,280.4L368.1,283.0Z" fill="none" stroke="#ff7f00" stroke-width="0.9"/>
<path d="M369.2,278.2L371.8,275.7L374.3,278.2L371.8,280.8Z" fill="none" stroke="#ff7f00" stroke-width="0.9"/>
<path d="M374.8,288.5L377.3,286.0L379.9,288.5L377.3,291.1Z" fill="none" stroke="#ff7f00" stroke-width="0.9"/>
<path d="M377.0,266.6L379.5,264.0L382.1,266.6L379.5,269.1Z" fill="none" stroke="#ff7f00" stroke-width="0.9"/>
<path d="M379.0,276.2L381.6,273.7L384.1,276.2L381.6,278.8Z" fill="none" stroke="#ff7f00" stroke-width="0.9"/>
<path d="M382.4,274.0L384.9,271.5L387.5,274.0L384.9,276.6Z" fill="none" stroke="#ff7f00" stroke-width="0.9"/>
<path d="M384.9,293.9L387.5,291.4L390.0,293.9L387.5,296.5Z" fill="none" stroke="#ff7f00" stroke-width="0.9"/>
<path d="M386.6,289.2L389.2,286.6L391.7,289.2L389.2,291.7Z" fill="none" stroke="#ff7f00" stroke-width="0.9"/>
<path d="M391.6,277.7L394.1,275.1L396.7,277.7L394.1,280.2Z" fill="none" stroke="#ff7f00" stroke-width="0.9"/>
<path d="M396.5,273.8L399.0,271.2L401.6,273.8L399.0,276.3Z" fill="none" stroke="#ff7f00" stroke-width="0.9"/>
<path d="M398.7,289.5L401.2,286.9L403.8,289.5L401.2,292.0Z" fill="none" stroke="#ff7f00" stroke-width="0.9"/>
<path d="M401.2,288.6L403.7,286.1L406.3,288.6L403.7,291.2Z" fill="none" stroke="#ff7f00" stroke-width="0.9"/>
<path d="M405.9,262.5L408.5,259.9L411.0,262.5L408.5,265.0Z" fill="none" stroke="#ff7f00" stroke-width="0.9"/>
<path d="M408.3,265.9L410.8,263.3L413.4,265.9L410.8,268.4Z" fill="none" stroke="#ff7f00" stroke-width="0.9"/>
<path d="M413.0,294.4L415.5,291.8L418.1,294.4L415.5,296.9Z" fill="none" stroke="#ff7f00" stroke-width="0.9"/>
<path d="M415.5,287.3L418.1,284.7L420.6,287.3L418.1,289.8Z" fill="none" stroke="#ff7f00" stroke-width="0.9"/>
<path d="M417.7,266.2L420.3,263.7L422.8,266.2L420.3,268.8Z" fill="none" stroke="#ff7f00" stroke-width="0.9"/>
<path d="M420.2,260.3L422.8,257.8L425.3,260.3L422.8,262.9Z" fill="none" stroke="#ff7f00" stroke-width="0.9"/>
<path d="M425.3,274.3L427.9,271.8L430.4,274.3L427.9,276.9Z" fill="none" stroke="#ff7f00" stroke-width="0.9"/>
<path d="M429.0,271.3L431.6,268.7L434.1,271.3L431.6,273.8Z" fill="none" stroke="#ff7f00" stroke-width="0.9"/>
<path d="M432.1,269.6L434.6,267.0L437.2,269.6L434.6,272.1Z" fill="none" stroke="#ff7f00" stroke-width="0.9"/>
<path d="M434.6,265.9L437.1,263.3L439.7,265.9L437.1,268.4Z" fill="none" stroke="#ff7f00" stroke-width="0.9"/>
<path d="M437.4,278.9L440.0,276.3L442.6,278.9L440.0,281.4Z" fill="none" stroke="#ff7f00" stroke-width="0.9"/>
<path d="M439.5,289.5L442.0,286.9L444.6,289.5L442.0,292.0Z" fill="none" stroke="#ff7f00" stroke-width="0.9"/>
<path d="M443.7,273.8L446.2,271.2L448.8,273.8L446.2,276.3Z" fill="none" stroke="#ff7f00" stroke-width="0.9"/>
<path d="M446.4,314.3L448.9,311.7L451.5,314.3L448.9,316.8Z" fill="none" stroke="#ff7f00" stroke-width="0.9"/>
<path d="M468.1,306.7L470.7,304.1L473.2,306.7L470.7,309.2Z" fill="none" stroke="#ff7f00" stroke-width="0.9"/>
<path d="M470.0,293.2L472.6,290.6L475.1,293.2L472.6,295.7Z" fill="none" stroke="#ff7f00" stroke-width="0.9"/>
<path d="M472.4,289.0L474.9,286.4L477.5,289.0L474.9,291.5Z" fill="none" stroke="#ff7f00" stroke-width="0.9"/>
<path d="M474.9,275.5L477.4,272.9L480.0,275.5L477.4,278.0Z" fill="none" stroke="#ff7f00" stroke-width="0.9"/>
<path d="M479.6,294.9L482.2,292.3L484.7,294.9L482.2,297.4Z" fill="none" stroke="#ff7f00" stroke-width="0.9"/>
<path d="M482.1,306.7L484.7,304.1L487.2,306.7L484.7,309.2Z" fill="none" stroke="#ff7f00" stroke-width="0.9"/>
<path d="M484.7,281.4L487.2,278.8L489.8,281.4L487.2,283.9Z" fill="none" stroke="#ff7f00" stroke-width="0.9"/>
<path d="M487.2,307.9L489.8,305.3L492.3,307.9L489.8,310.4Z" fill="none" stroke="#ff7f00" stroke-width="0.9"/>
<path d="M489.2,290.3L491.8,287.8L494.3,290.3L491.8,292.9Z" fill="none" stroke="#ff7f00" stroke-width="0.9"/>
<path d="M493.6,310.4L496.2,307.8L498.7,310.4L496.2,312.9Z" fill="none" stroke="#ff7f00" stroke-width="0.9"/>
<circle cx="266.0" cy="326.5" r="2.6" fill="#ff7f00"/>
<circle cx="268.9" cy="332.4" r="2.6" fill="#ff7f00"/>
<circle cx="271.6" cy="325.1" r="2.6" fill="#ff7f00"/>
<circle cx="274.5" cy="334.1" r="2.6" fill="#ff7f00"/>
<circle cx="277.8" cy="320.1" r="2.6" fill="#ff7f00"/>
<circle cx="280.4" cy="320.4" r="2.6" fill="#ff7f00"/>
<circle cx="283.2" cy="324.3" r="2.6" fill="#ff7f00"/>
<circle cx="285.9" cy="307.9" r="2.6" fill="#ff7f00"/>
<circle cx="289.6" cy="303.2" r="2.6" fill="#ff7f00"/>
<circle cx="291.7" cy="313.0" r="2.6" fill="#ff7f00"/>
<circle cx="294.7" cy="333.6" r="2.6" fill="#ff7f00"/>
<circle cx="297.2" cy="313.0" r="2.6" fill="#ff7f00"/>
<circle cx="300.3" cy="307.1" r="2.6" fill="#ff7f00"/>
<circle cx="303.5" cy="312.0" r="2.6" fill="#ff7f00"/>
<circle cx="306.2" cy="318.0" r="2.6" fill="#ff7f00"/>
<circle cx="309.0" cy="327.7" r="2.6" fill="#ff7f00"/>
<circle cx="311.9" cy="308.3" r="2.6" fill="#ff7f00"/>
<circle cx="314.6" cy="299.0" r="2.6" fill="#ff7f00"/>
<circle cx="317.5" cy="296.1" r="2.6" fill="#ff7f00"/>
<circle cx="320.5" cy="308.3" r="2.6" fill="#ff7f00"/>
<circle cx="323.4" cy="304.9" r="2.6" fill="#ff7f00"/>
<circle cx="326.2" cy="312.5" r="2.6" fill="#ff7f00"/>
<circle cx="328.9" cy="311.3" r="2.6" fill="#ff7f00"/>
<circle cx="332.1" cy="296.4" r="2.6" fill="#ff7f00"/>
<circle cx="334.3" cy="293.4" r="2.6" fill="#ff7f00"/>
<circle cx="337.7" cy="288.5" r="2.6" fill="#ff7f00"/>
<circle cx="340.6" cy="307.4" r="2.6" fill="#ff7f00"/>
<circle cx="343.6" cy="282.1" r="2.6" fill="#ff7f00"/>
<circle cx="346.1" cy="289.7" r="2.6" fill="#ff7f00"/>
<circle cx="349.0" cy="295.1" r="2.6" fill="#ff7f00"/>
<circle cx="352.0" cy="294.4" r="2.6" fill="#ff7f00"/>
<circle cx="354.9" cy="287.2" r="2.6" fill="#ff7f00"/>
<circle cx="357.4" cy="287.2" r="2.6" fill="#ff7f00"/>
<circle cx="360.5" cy="279.6" r="2.6" fill="#ff7f00"/>
<circle cx="363.3" cy="281.3" r="2.6" fill="#ff7f00"/>
<circle cx="366.4" cy="286.3" r="2.6" fill="#ff7f00"/>
<circle cx="368.9" cy="286.3" r="2.6" fill="#ff7f00"/>
<circle cx="371.8" cy="288.0" r="2.6" fill="#ff7f00"/>
<circle cx="374.8" cy="298.5" r="2.6" fill="#ff7f00"/>
<circle cx="377.7" cy="283.0" r="2.6" fill="#ff7f00"/>
<circle cx="380.7" cy="281.3" r="2.6" fill="#ff7f00"/>
<circle cx="383.3" cy="276.2" r="2.6" fill="#ff7f00"/>
<circle cx="386.3" cy="299.0" r="2.6" fill="#ff7f00"/>
<circle cx="389.2" cy="293.9" r="2.6" fill="#ff7f00"/>
<circle cx="391.9" cy="291.5" r="2.6" fill="#ff7f00"/>
<circle cx="395.0" cy="285.3" r="2.6" fill="#ff7f00"/>
<circle cx="397.8" cy="293.7" r="2.6" fill="#ff7f00"/>
<circle cx="400.7" cy="292.9" r="2.6" fill="#ff7f00"/>
<circle cx="403.7" cy="292.9" r="2.6" fill="#ff7f00"/>
<circle cx="406.3" cy="275.5" r="2.6" fill="#ff7f00"/>
<circle cx="409.3" cy="279.7" r="2.6" fill="#ff7f00"/>
<circle cx="412.5" cy="251.0" r="2.6" fill="#ff7f00"/>
<circle cx="415.2" cy="297.1" r="2.6" fill="#ff7f00"/>
<circle cx="418.1" cy="285.1" r="2.6" fill="#ff7f00"/>
<circle cx="421.1" cy="274.6" r="2.6" fill="#ff7f00"/>
<circle cx="424.0" cy="275.5" r="2.6" fill="#ff7f00"/>
<circle cx="426.8" cy="281.7" r="2.6" fill="#ff7f00"/>
<circle cx="429.5" cy="277.2" r="2.6" fill="#ff7f00"/>
<circle cx="432.4" cy="278.3" r="2.6" fill="#ff7f00"/>
<circle cx="435.3" cy="268.7" r="2.6" fill="#ff7f00"/>
<circle cx="438.3" cy="276.0" r="2.6" fill="#ff7f00"/>
<circle cx="441.2" cy="291.2" r="2.6" fill="#ff7f00"/>
<circle cx="444.2" cy="279.7" r="2.6" fill="#ff7f00"/>
<circle cx="448.8" cy="283.6" r="2.6" fill="#ff7f00"/>
<circle cx="470.9" cy="304.2" r="2.6" fill="#ff7f00"/>
<circle cx="473.7" cy="284.4" r="2.6" fill="#ff7f00"/>
<circle cx="476.6" cy="279.7" r="2.6" fill="#ff7f00"/>
<circle cx="479.3" cy="291.2" r="2.6" fill="#ff7f00"/>
<circle cx="482.2" cy="292.9" r="2.6" fill="#ff7f00"/>
<circle cx="485.0" cy="303.3" r="2.6" fill="#ff7f00"/>
<circle cx="488.1" cy="287.0" r="2.6" fill="#ff7f00"/>
<circle cx="490.9" cy="294.0" r="2.6" fill="#ff7f00"/>
<circle cx="493.6" cy="294.0" r="2.6" fill="#ff7f00"/>
<circle cx="495.7" cy="293.2" r="2.6" fill="#ff7f00"/>
<path d="M448.6,471.5L451.2,468.9L453.8,471.5L451.2,474.1Z" fill="none" stroke="#ff7f00" stroke-width="1.0"/>
<path d="M463.1,492.1L465.7,489.5L468.3,492.1L465.7,494.8Z" fill="none" stroke="#ff7f00" stroke-width="1.0"/>
<path d="M451.6,511.4L454.2,508.8L456.8,511.4L454.2,514.0Z" fill="none" stroke="#ff7f00" stroke-width="1.0"/>
<path d="M459.2,507.9L461.9,505.2L464.5,507.9L461.9,510.5Z" fill="none" stroke="#ff7f00" stroke-width="1.0"/>
<path d="M458.4,509.6L461.0,507.0L463.6,509.6L461.0,512.2Z" fill="none" stroke="#ff7f00" stroke-width="1.0"/>
<path d="M465.4,399.6L468.0,397.0L470.6,399.6L468.0,402.2Z" fill="none" stroke="#ff7f00" stroke-width="1.0"/>
<path d="M124.80,382.69 L125.73,382.24 L126.66,381.78 L127.58,381.33 L128.51,380.87 L129.44,380.41 L130.37,379.95 L131.29,379.49 L132.22,379.03 L133.15,378.56 L134.08,378.10 L135.00,377.64 L135.93,377.17 L136.86,376.71 L137.79,376.24 L138.71,375.77 L139.64,375.31 L140.57,374.84 L141.50,374.37 L142.43,373.90 L143.35,373.43 L144.28,372.96 L145.21,372.49 L146.14,372.02 L147.06,371.54 L147.99,371.07 L148.92,370.60 L149.85,370.12 L150.77,369.65 L151.70,369.17 L152.63,368.70 L153.56,368.22 L154.48,367.75 L155.41,367.27 L156.34,366.79 L157.27,366.32 L158.19,365.84 L159.12,365.36 L160.05,364.89 L160.98,364.41 L161.91,363.93 L162.83,363.45 L163.76,362.97 L164.69,362.50 L165.62,362.02 L166.54,361.54 L167.47,361.06 L168.40,360.58 L169.33,360.10 L170.25,359.62 L171.18,359.15 L172.11,358.67 L173.04,358.19 L173.96,357.71 L174.89,357.23 L175.82,356.75 L176.75,356.28 L177.68,355.80 L178.60,355.32 L179.53,354.84 L180.46,354.37 L181.39,353.89 L182.31,353.41 L183.24,352.94 L184.17,352.46 L185.10,351.98 L186.02,351.51 L186.95,351.03 L187.88,350.56 L188.81,350.08 L189.73,349.61 L190.66,349.14 L191.59,348.66 L192.52,348.19 L193.45,347.72 L194.37,347.25 L195.30,346.78 L196.23,346.31 L197.16,345.84 L198.08,345.37 L199.01,344.90 L199.94,344.43 L200.87,343.97 L201.79,343.50 L202.72,343.03 L203.65,342.57 L204.58,342.11 L205.50,341.64 L206.43,341.18 L207.36,340.72 L208.29,340.26 L209.22,339.80 L210.14,339.34 L211.07,338.88 L212.00,338.42 L212.93,337.97 L213.85,337.51 L214.78,337.06 L215.71,336.60 L216.64,336.15 L217.56,335.70 L218.49,335.25 L219.42,334.80 L220.35,334.35 L221.27,333.91 L222.20,333.46 L223.13,333.02 L224.06,332.57 L224.99,332.13 L225.91,331.69 L226.84,331.25 L227.77,330.81 L228.70,330.38 L229.62,329.94 L230.55,329.51 L231.48,329.07 L232.41,328.64 L233.33,328.21 L234.26,327.78 L235.19,327.35 L236.12,326.93 L237.04,326.50 L237.97,326.08 L238.90,325.66 L239.83,325.24 L240.75,324.82 L241.68,324.40 L242.61,323.99 L243.54,323.58 L244.47,323.16 L245.39,322.75 L246.32,322.35 L247.25,321.94 L248.18,321.53 L249.10,321.13 L250.03,320.73 L250.96,320.33 L251.89,319.93 L252.81,319.53 L253.74,319.14 L254.67,318.75 L255.60,318.36 L256.52,317.97 L257.45,317.58 L258.38,317.20 L259.31,316.81 L260.24,316.43 L261.16,316.05 L262.09,315.67 L263.02,315.30 L263.95,314.93 L264.87,314.56 L265.80,314.19 L266.73,313.82 L267.66,313.46 L268.58,313.09 L269.51,312.73 L270.44,312.38 L271.37,312.02 L272.29,311.67 L273.22,311.31 L274.15,310.97 L275.08,310.62 L276.01,310.27 L276.93,309.93 L277.86,309.59 L278.79,309.26 L279.72,308.92 L280.64,308.59 L281.57,308.26 L282.50,307.93 L283.43,307.60 L284.35,307.28 L285.28,306.96 L286.21,306.64 L287.14,306.33 L288.06,306.02 L288.99,305.71 L289.92,305.40 L290.85,305.09 L291.78,304.79 L292.70,304.49 L293.63,304.20 L294.56,303.90 L295.49,303.61 L296.41,303.32 L297.34,303.04 L298.27,302.75 L299.20,302.47 L300.12,302.20 L301.05,301.92 L301.98,301.65 L302.91,301.38 L303.83,301.12 L304.76,300.85 L305.69,300.59 L306.62,300.34 L307.54,300.08 L308.47,299.83 L309.40,299.58 L310.33,299.34 L311.26,299.10 L312.18,298.86 L313.11,298.62 L314.04,298.39 L314.97,298.16 L315.89,297.94 L316.82,297.71 L317.75,297.49 L318.68,297.28 L319.60,297.06 L320.53,296.85 L321.46,296.65 L322.39,296.44 L323.31,296.24 L324.24,296.05 L325.17,295.85 L326.10,295.66 L327.03,295.48 L327.95,295.29 L328.88,295.11 L329.81,294.94 L330.74,294.77 L331.66,294.60 L332.59,294.43 L333.52,294.27 L334.45,294.11 L335.37,293.96 L336.30,293.80 L337.23,293.66 L338.16,293.51 L339.08,293.37 L340.01,293.23 L340.94,293.10 L341.87,292.97 L342.80,292.85 L343.72,292.72 L344.65,292.61 L345.58,292.49 L346.51,292.38 L347.43,292.27 L348.36,292.17 L349.29,292.07 L350.22,291.98 L351.14,291.88 L352.07,291.80 L353.00,291.71 L353.93,291.63 L354.85,291.56 L355.78,291.48 L356.71,291.41 L357.64,291.35 L358.57,291.29 L359.49,291.23 L360.42,291.18 L361.35,291.13 L362.28,291.09 L363.20,291.05 L364.13,291.01 L365.06,290.98 L365.99,290.95 L366.91,290.93 L367.84,290.91 L368.77,290.89 L369.70,290.88 L370.62,290.87 L371.55,290.87 L372.48,290.87 L373.41,290.88 L374.33,290.89 L375.26,290.90 L376.19,290.92 L377.12,290.94 L378.05,290.97 L378.97,291.00 L379.90,291.03 L380.83,291.07 L381.76,291.12 L382.68,291.16 L383.61,291.22 L384.54,291.27 L385.47,291.33 L386.39,291.40 L387.32,291.47 L388.25,291.54 L389.18,291.62 L390.10,291.70 L391.03,291.79 L391.96,291.88 L392.89,291.98 L393.82,292.08 L394.74,292.18 L395.67,292.29 L396.60,292.41 L397.53,292.53 L398.45,292.65 L399.38,292.78 L400.31,292.91 L401.24,293.05 L402.16,293.19 L403.09,293.33 L404.02,293.48 L404.95,293.64 L405.87,293.80 L406.80,293.96 L407.73,294.13 L408.66,294.30 L409.59,294.48 L410.51,294.66 L411.44,294.85 L412.37,295.04 L413.30,295.24 L414.22,295.44 L415.15,295.64 L416.08,295.85 L417.01,296.06 L417.93,296.28 L418.86,296.51 L419.79,296.73 L420.72,296.96 L421.64,297.20 L422.57,297.44 L423.50,297.69 L424.43,297.94 L425.36,298.19 L426.28,298.45 L427.21,298.71 L428.14,298.98 L429.07,299.25 L429.99,299.52 L430.92,299.80 L431.85,300.09 L432.78,300.38 L433.70,300.67 L434.63,300.97 L435.56,301.27 L436.49,301.57 L437.41,301.88 L438.34,302.19 L439.27,302.51 L440.20,302.83 L441.12,303.15 L442.05,303.48 L442.98,303.82 L443.91,304.15 L444.84,304.49 L445.76,304.84 L446.69,305.18 L447.62,305.54 L448.55,305.89 L449.47,306.25 L450.40,306.61 L451.33,306.98 L452.26,307.35 L453.18,307.72 L454.11,308.09 L455.04,308.47 L455.97,308.86 L456.89,309.24 L457.82,309.63 L458.75,310.02 L459.68,310.42 L460.61,310.82 L461.53,311.22 L462.46,311.62 L463.39,312.03 L464.32,312.44 L465.24,312.85 L466.17,313.27 L467.10,313.69 L468.03,314.11 L468.95,314.54 L469.88,314.96 L470.81,315.39 L471.74,315.83 L472.66,316.26 L473.59,316.70 L474.52,317.14 L475.45,317.58 L476.38,318.03 L477.30,318.47 L478.23,318.92 L479.16,319.38 L480.09,319.83 L481.01,320.29 L481.94,320.75 L482.87,321.21 L483.80,321.68 L484.72,322.14 L485.65,322.61 L486.58,323.09 L487.51,323.56 L488.43,324.04 L489.36,324.52 L490.29,325.00 L491.22,325.49 L492.15,325.98 L493.07,326.47 L494.00,326.96 L494.93,327.45 L495.86,327.95 L496.78,328.44 L497.71,328.94 L498.64,329.44 L499.57,329.94 L500.49,330.45 L501.42,330.95 L502.35,331.46 L503.28,331.97 L504.20,332.48 L505.13,332.99 L506.06,333.50 L506.99,334.01 L507.91,334.53 L508.84,335.04 L509.77,335.56 L510.70,336.08 L511.63,336.59 L512.55,337.11 L513.48,337.63 L514.41,338.15 L515.34,338.67 L516.26,339.19 L517.19,339.71 L518.12,340.24 L519.05,340.76 L519.97,341.28 L520.90,341.80 L521.83,342.33 L522.76,342.85 L523.68,343.37 L524.61,343.89 L525.54,344.42 L526.47,344.94 L527.40,345.46 L528.32,345.98 L529.25,346.50 L530.18,347.02 L531.11,347.54 L532.03,348.06 L532.96,348.58 L533.89,349.10 L534.82,349.62 L535.74,350.14 L536.67,350.66 L537.60,351.18 L538.53,351.70 L539.45,352.22 L540.38,352.73 L541.31,353.25 L542.24,353.77 L543.17,354.28 L544.09,354.80 L545.02,355.31 L545.95,355.83 L546.88,356.34 L547.80,356.85 L548.73,357.36 L549.66,357.87 L550.59,358.38 L551.51,358.89 L552.44,359.40 L553.37,359.91 L554.30,360.42 L555.22,360.92 L556.15,361.43 L557.08,361.93 L558.01,362.43 L558.94,362.94 L559.86,363.44 L560.79,363.94 L561.72,364.44 L562.65,364.93 L563.57,365.43 L564.50,365.93 L565.43,366.42 L566.36,366.91 L567.28,367.41 L568.21,367.90 L569.14,368.39 L570.07,368.87 L570.99,369.36 L571.92,369.85 L572.85,370.33 L573.78,370.82 L574.70,371.30 L575.63,371.78 L576.56,372.26 L577.49,372.73 L578.42,373.21 L579.34,373.69 L580.27,374.16 L581.20,374.63 L582.13,375.10 L583.05,375.57 L583.98,376.04 L584.91,376.51 L585.84,376.98 L586.76,377.44 L587.69,377.90 L588.62,378.36 L589.55,378.82 L590.47,379.28 L591.40,379.74 L592.33,380.19 L593.26,380.64 L594.19,381.09 L595.11,381.54 L596.04,381.99 L596.97,382.43 L597.90,382.87 L598.82,383.31 L599.75,383.75 L600.68,384.18 L601.61,384.62 L602.53,385.05 L603.46,385.47 L604.39,385.90 L605.32,386.32 L606.24,386.74 L607.17,387.16 L608.10,387.58 L609.03,387.99 L609.96,388.40 L610.88,388.81 L611.81,389.22 L612.74,389.64 L613.67,390.05 L614.59,390.46 L615.52,390.87 L616.45,391.28 L617.38,391.68 L618.30,392.08 L619.23,392.47 L620.16,392.86 L621.09,393.24 L622.01,393.61 L622.94,393.97 L623.87,394.33 L624.80,394.67 L625.73,395.00 L626.65,395.32 L627.58,395.64 L628.51,395.94 L629.44,396.24 L630.36,396.53 L631.29,396.81 L632.22,397.09 L633.15,397.36 L634.07,397.62 L635.00,397.87 L635.93,398.12 L636.86,398.37 L637.78,398.61 L638.71,398.85 L639.64,399.08 L640.57,399.30 L641.49,399.53 L642.42,399.75 L643.35,399.97 L644.28,400.18 L645.21,400.40 L646.13,400.61 L647.06,400.82 L647.99,401.03 L648.92,401.24 L649.84,401.45 L650.77,401.65 L651.70,401.85 L652.63,402.05 L653.55,402.24 L654.48,402.43 L655.41,402.61 L656.34,402.79 L657.26,402.96 L658.19,403.13 L659.12,403.29 L660.05,403.45 L660.98,403.61 L661.90,403.76 L662.83,403.91 L663.76,404.05 L664.69,404.19 L665.61,404.33 L666.54,404.46 L667.47,404.59 L668.40,404.72 L669.32,404.84 L670.25,404.96 L671.18,405.08 L672.11,405.19 L673.03,405.30 L673.96,405.41 L674.89,405.52 L675.82,405.62 L676.75,405.72 L677.67,405.82 L678.60,405.92 L679.53,406.01 L680.46,406.10 L681.38,406.20 L682.31,406.29 L683.24,406.38 L684.17,406.46 L685.09,406.55 L686.02,406.63 L686.95,406.70 L687.88,406.77 L688.80,406.84 L689.73,406.90 L690.66,406.95 L691.59,407.00 L692.51,407.04 L693.44,407.07 L694.37,407.09 L695.30,407.10 L696.23,407.11 L697.15,407.11 L698.08,407.11 L699.01,407.10 L699.94,407.08 L700.86,407.06 L701.79,407.03 L702.72,407.00 L703.65,406.96 L704.57,406.91 L705.50,406.86 L706.43,406.81 L707.36,406.75 L708.28,406.68 L709.21,406.61 L710.14,406.53 L711.07,406.45 L712.00,406.36 L712.92,406.27 L713.85,406.17 L714.78,406.07 L715.71,405.96 L716.63,405.84 L717.56,405.72 L718.49,405.60 L719.42,405.47 L720.34,405.33 L721.27,405.19 L722.20,405.05 L723.13,404.90 L724.05,404.74 L724.98,404.58 L725.91,404.42 L726.84,404.25 L727.77,404.07 L728.69,403.90 L729.62,403.71 L730.55,403.52 L731.48,403.33 L732.40,403.13 L733.33,402.93 L734.26,402.73 L735.19,402.52 L736.11,402.30 L737.04,402.08 L737.97,401.86 L738.90,401.63 L739.82,401.40 L740.75,401.16 L741.68,400.92 L742.61,400.68 L743.54,400.43 L744.46,400.18 L745.39,399.92 L746.32,399.66 L747.25,399.40 L748.17,399.13 L749.10,398.86 L750.03,398.59 L750.96,398.31 L751.88,398.03 L752.81,397.75 L753.74,397.46 L754.67,397.17 L755.59,396.88 L756.52,396.58 L757.45,396.28 L758.38,395.98 L759.31,395.67 L760.23,395.37 L761.16,395.05 L762.09,394.74 L763.02,394.42 L763.94,394.10 L764.87,393.77 L765.80,393.45 L766.73,393.12 L767.65,392.78 L768.58,392.45 L769.51,392.11 L770.44,391.77 L771.36,391.43 L772.29,391.08 L773.22,390.74 L774.15,390.39 L775.07,390.04 L776.00,389.68 L776.93,389.33 L777.86,388.97 L778.79,388.61 L779.71,388.25 L780.64,387.89 L781.57,387.53 L782.50,387.16 L783.42,386.80 L784.35,386.43 L785.28,386.06 L786.21,385.69 L787.13,385.32 L788.06,384.95 L788.99,384.57 L789.92,384.20 L790.84,383.82 L791.77,383.45 L792.70,383.07" fill="none" stroke="#ff7f00" stroke-width="2.35" stroke-linejoin="round"/>
<path d="M124.80,395.22 L125.73,394.82 L126.66,394.42 L127.58,394.02 L128.51,393.62 L129.44,393.21 L130.37,392.80 L131.29,392.39 L132.22,391.98 L133.15,391.56 L134.08,391.14 L135.00,390.72 L135.93,390.30 L136.86,389.87 L137.79,389.45 L138.71,389.02 L139.64,388.58 L140.57,388.15 L141.50,387.71 L142.43,387.27 L143.35,386.83 L144.28,386.39 L145.21,385.94 L146.14,385.50 L147.06,385.05 L147.99,384.60 L148.92,384.14 L149.85,383.69 L150.77,383.23 L151.70,382.77 L152.63,382.31 L153.56,381.84 L154.48,381.38 L155.41,380.91 L156.34,380.44 L157.27,379.97 L158.19,379.49 L159.12,379.02 L160.05,378.54 L160.98,378.06 L161.91,377.58 L162.83,377.10 L163.76,376.61 L164.69,376.13 L165.62,375.64 L166.54,375.15 L167.47,374.66 L168.40,374.16 L169.33,373.67 L170.25,373.17 L171.18,372.67 L172.11,372.18 L173.04,371.67 L173.96,371.17 L174.89,370.67 L175.82,370.16 L176.75,369.65 L177.68,369.15 L178.60,368.64 L179.53,368.12 L180.46,367.61 L181.39,367.10 L182.31,366.58 L183.24,366.06 L184.17,365.55 L185.10,365.03 L186.02,364.51 L186.95,363.98 L187.88,363.46 L188.81,362.94 L189.73,362.41 L190.66,361.88 L191.59,361.35 L192.52,360.83 L193.45,360.30 L194.37,359.76 L195.30,359.23 L196.23,358.70 L197.16,358.16 L198.08,357.63 L199.01,357.09 L199.94,356.56 L200.87,356.02 L201.79,355.48 L202.72,354.94 L203.65,354.40 L204.58,353.86 L205.50,353.32 L206.43,352.77 L207.36,352.23 L208.29,351.68 L209.22,351.14 L210.14,350.59 L211.07,350.05 L212.00,349.50 L212.93,348.95 L213.85,348.41 L214.78,347.86 L215.71,347.31 L216.64,346.76 L217.56,346.21 L218.49,345.66 L219.42,345.11 L220.35,344.56 L221.27,344.01 L222.20,343.45 L223.13,342.90 L224.06,342.35 L224.99,341.80 L225.91,341.24 L226.84,340.69 L227.77,340.14 L228.70,339.58 L229.62,339.03 L230.55,338.48 L231.48,337.92 L232.41,337.37 L233.33,336.82 L234.26,336.26 L235.19,335.71 L236.12,335.16 L237.04,334.60 L237.97,334.05 L238.90,333.50 L239.83,332.94 L240.75,332.39 L241.68,331.84 L242.61,331.29 L243.54,330.73 L244.47,330.18 L245.39,329.63 L246.32,329.08 L247.25,328.53 L248.18,327.98 L249.10,327.43 L250.03,326.88 L250.96,326.33 L251.89,325.78 L252.81,325.24 L253.74,324.69 L254.67,324.14 L255.60,323.60 L256.52,323.05 L257.45,322.51 L258.38,321.97 L259.31,321.42 L260.24,320.88 L261.16,320.34 L262.09,319.80 L263.02,319.26 L263.95,318.72 L264.87,318.19 L265.80,317.65 L266.73,317.12 L267.66,316.58 L268.58,316.05 L269.51,315.52 L270.44,314.99 L271.37,314.46 L272.29,313.93 L273.22,313.40 L274.15,312.88 L275.08,312.35 L276.01,311.83 L276.93,311.31 L277.86,310.79 L278.79,310.27 L279.72,309.75 L280.64,309.23 L281.57,308.72 L282.50,308.21 L283.43,307.70 L284.35,307.19 L285.28,306.68 L286.21,306.17 L287.14,305.67 L288.06,305.16 L288.99,304.66 L289.92,304.16 L290.85,303.67 L291.78,303.17 L292.70,302.68 L293.63,302.19 L294.56,301.70 L295.49,301.21 L296.41,300.72 L297.34,300.24 L298.27,299.76 L299.20,299.28 L300.12,298.80 L301.05,298.33 L301.98,297.85 L302.91,297.38 L303.83,296.92 L304.76,296.45 L305.69,295.99 L306.62,295.53 L307.54,295.07 L308.47,294.61 L309.40,294.16 L310.33,293.71 L311.26,293.26 L312.18,292.81 L313.11,292.37 L314.04,291.93 L314.97,291.49 L315.89,291.06 L316.82,290.63 L317.75,290.20 L318.68,289.77 L319.60,289.35 L320.53,288.93 L321.46,288.51 L322.39,288.10 L323.31,287.69 L324.24,287.28 L325.17,286.87 L326.10,286.47 L327.03,286.07 L327.95,285.68 L328.88,285.28 L329.81,284.89 L330.74,284.51 L331.66,284.13 L332.59,283.75 L333.52,283.37 L334.45,283.00 L335.37,282.63 L336.30,282.27 L337.23,281.90 L338.16,281.55 L339.08,281.19 L340.01,280.84 L340.94,280.50 L341.87,280.15 L342.80,279.81 L343.72,279.48 L344.65,279.15 L345.58,278.82 L346.51,278.49 L347.43,278.17 L348.36,277.86 L349.29,277.55 L350.22,277.24 L351.14,276.94 L352.07,276.64 L353.00,276.34 L353.93,276.05 L354.85,275.76 L355.78,275.48 L356.71,275.20 L357.64,274.93 L358.57,274.66 L359.49,274.39 L360.42,274.13 L361.35,273.87 L362.28,273.62 L363.20,273.37 L364.13,273.13 L365.06,272.89 L365.99,272.66 L366.91,272.43 L367.84,272.21 L368.77,271.99 L369.70,271.77 L370.62,271.56 L371.55,271.36 L372.48,271.16 L373.41,270.96 L374.33,270.77 L375.26,270.59 L376.19,270.41 L377.12,270.23 L378.05,270.06 L378.97,269.90 L379.90,269.74 L380.83,269.58 L381.76,269.43 L382.68,269.29 L383.61,269.15 L384.54,269.02 L385.47,268.89 L386.39,268.77 L387.32,268.65 L388.25,268.54 L389.18,268.43 L390.10,268.33 L391.03,268.24 L391.96,268.15 L392.89,268.06 L393.82,267.98 L394.74,267.91 L395.67,267.84 L396.60,267.78 L397.53,267.73 L398.45,267.68 L399.38,267.64 L400.31,267.60 L401.24,267.57 L402.16,267.54 L403.09,267.52 L404.02,267.51 L404.95,267.50 L405.87,267.50 L406.80,267.50 L407.73,267.52 L408.66,267.53 L409.59,267.56 L410.51,267.59 L411.44,267.62 L412.37,267.67 L413.30,267.71 L414.22,267.77 L415.15,267.83 L416.08,267.90 L417.01,267.97 L417.93,268.05 L418.86,268.14 L419.79,268.24 L420.72,268.34 L421.64,268.44 L422.57,268.56 L423.50,268.68 L424.43,268.80 L425.36,268.94 L426.28,269.08 L427.21,269.22 L428.14,269.37 L429.07,269.53 L429.99,269.70 L430.92,269.87 L431.85,270.05 L432.78,270.24 L433.70,270.43 L434.63,270.63 L435.56,270.83 L436.49,271.05 L437.41,271.27 L438.34,271.49 L439.27,271.72 L440.20,271.96 L441.12,272.21 L442.05,272.46 L442.98,272.72 L443.91,272.98 L444.84,273.25 L445.76,273.53 L446.69,273.81 L447.62,274.10 L448.55,274.40 L449.47,274.70 L450.40,275.01 L451.33,275.33 L452.26,275.65 L453.18,275.98 L454.11,276.32 L455.04,276.66 L455.97,277.01 L456.89,277.36 L457.82,277.72 L458.75,278.09 L459.68,278.46 L460.61,278.84 L461.53,279.22 L462.46,279.61 L463.39,280.01 L464.32,280.41 L465.24,280.82 L466.17,281.24 L467.10,281.66 L468.03,282.08 L468.95,282.51 L469.88,282.95 L470.81,283.39 L471.74,283.84 L472.66,284.30 L473.59,284.76 L474.52,285.22 L475.45,285.70 L476.38,286.17 L477.30,286.65 L478.23,287.14 L479.16,287.63 L480.09,288.13 L481.01,288.63 L481.94,289.14 L482.87,289.65 L483.80,290.17 L484.72,290.69 L485.65,291.22 L486.58,291.75 L487.51,292.29 L488.43,292.83 L489.36,293.38 L490.29,293.93 L491.22,294.48 L492.15,295.04 L493.07,295.61 L494.00,296.17 L494.93,296.75 L495.86,297.32 L496.78,297.90 L497.71,298.49 L498.64,299.07 L499.57,299.67 L500.49,300.26 L501.42,300.86 L502.35,301.46 L503.28,302.07 L504.20,302.68 L505.13,303.29 L506.06,303.91 L506.99,304.53 L507.91,305.15 L508.84,305.78 L509.77,306.41 L510.70,307.04 L511.63,307.67 L512.55,308.31 L513.48,308.95 L514.41,309.59 L515.34,310.23 L516.26,310.88 L517.19,311.53 L518.12,312.18 L519.05,312.83 L519.97,313.49 L520.90,314.14 L521.83,314.80 L522.76,315.46 L523.68,316.12 L524.61,316.78 L525.54,317.45 L526.47,318.11 L527.40,318.78 L528.32,319.45 L529.25,320.12 L530.18,320.79 L531.11,321.46 L532.03,322.13 L532.96,322.81 L533.89,323.48 L534.82,324.16 L535.74,324.83 L536.67,325.51 L537.60,326.18 L538.53,326.86 L539.45,327.54 L540.38,328.22 L541.31,328.89 L542.24,329.57 L543.17,330.25 L544.09,330.93 L545.02,331.61 L545.95,332.29 L546.88,332.96 L547.80,333.64 L548.73,334.32 L549.66,335.00 L550.59,335.68 L551.51,336.35 L552.44,337.03 L553.37,337.71 L554.30,338.38 L555.22,339.06 L556.15,339.73 L557.08,340.41 L558.01,341.08 L558.94,341.75 L559.86,342.42 L560.79,343.10 L561.72,343.77 L562.65,344.44 L563.57,345.10 L564.50,345.77 L565.43,346.44 L566.36,347.10 L567.28,347.77 L568.21,348.43 L569.14,349.09 L570.07,349.75 L570.99,350.41 L571.92,351.07 L572.85,351.72 L573.78,352.38 L574.70,353.03 L575.63,353.68 L576.56,354.33 L577.49,354.98 L578.42,355.63 L579.34,356.29 L580.27,356.94 L581.20,357.59 L582.13,358.25 L583.05,358.90 L583.98,359.55 L584.91,360.20 L585.84,360.86 L586.76,361.51 L587.69,362.16 L588.62,362.81 L589.55,363.46 L590.47,364.11 L591.40,364.75 L592.33,365.40 L593.26,366.04 L594.19,366.68 L595.11,367.32 L596.04,367.96 L596.97,368.60 L597.90,369.23 L598.82,369.86 L599.75,370.49 L600.68,371.11 L601.61,371.74 L602.53,372.36 L603.46,372.97 L604.39,373.59 L605.32,374.20 L606.24,374.80 L607.17,375.41 L608.10,376.01 L609.03,376.60 L609.96,377.19 L610.88,377.78 L611.81,378.36 L612.74,378.94 L613.67,379.51 L614.59,380.08 L615.52,380.65 L616.45,381.21 L617.38,381.76 L618.30,382.31 L619.23,382.85 L620.16,383.39 L621.09,383.92 L622.01,384.44 L622.94,384.96 L623.87,385.48 L624.80,385.98 L625.73,386.48 L626.65,386.98 L627.58,387.48 L628.51,387.97 L629.44,388.45 L630.36,388.94 L631.29,389.41 L632.22,389.89 L633.15,390.36 L634.07,390.82 L635.00,391.29 L635.93,391.74 L636.86,392.20 L637.78,392.65 L638.71,393.09 L639.64,393.53 L640.57,393.97 L641.49,394.40 L642.42,394.82 L643.35,395.25 L644.28,395.67 L645.21,396.08 L646.13,396.49 L647.06,396.89 L647.99,397.29 L648.92,397.69 L649.84,398.08 L650.77,398.46 L651.70,398.84 L652.63,399.22 L653.55,399.59 L654.48,399.96 L655.41,400.32 L656.34,400.68 L657.26,401.03 L658.19,401.38 L659.12,401.72 L660.05,402.05 L660.98,402.39 L661.90,402.71 L662.83,403.03 L663.76,403.35 L664.69,403.66 L665.61,403.97 L666.54,404.27 L667.47,404.56 L668.40,404.85 L669.32,405.14 L670.25,405.42 L671.18,405.69 L672.11,405.96 L673.03,406.22 L673.96,406.48 L674.89,406.73 L675.82,406.98 L676.75,407.22 L677.67,407.46 L678.60,407.69 L679.53,407.91 L680.46,408.13 L681.38,408.35 L682.31,408.56 L683.24,408.76 L684.17,408.96 L685.09,409.15 L686.02,409.34 L686.95,409.52 L687.88,409.70 L688.80,409.87 L689.73,410.04 L690.66,410.20 L691.59,410.35 L692.51,410.50 L693.44,410.65 L694.37,410.79 L695.30,410.92 L696.23,411.05 L697.15,411.17 L698.08,411.29 L699.01,411.40 L699.94,411.51 L700.86,411.61 L701.79,411.70 L702.72,411.79 L703.65,411.88 L704.57,411.96 L705.50,412.03 L706.43,412.10 L707.36,412.17 L708.28,412.22 L709.21,412.28 L710.14,412.33 L711.07,412.37 L712.00,412.41 L712.92,412.44 L713.85,412.47 L714.78,412.49 L715.71,412.50 L716.63,412.52 L717.56,412.52 L718.49,412.53 L719.42,412.52 L720.34,412.51 L721.27,412.50 L722.20,412.48 L723.13,412.46 L724.05,412.43 L724.98,412.39 L725.91,412.35 L726.84,412.31 L727.77,412.26 L728.69,412.21 L729.62,412.15 L730.55,412.08 L731.48,412.01 L732.40,411.94 L733.33,411.86 L734.26,411.78 L735.19,411.69 L736.11,411.59 L737.04,411.50 L737.97,411.39 L738.90,411.29 L739.82,411.18 L740.75,411.06 L741.68,410.94 L742.61,410.81 L743.54,410.68 L744.46,410.55 L745.39,410.41 L746.32,410.27 L747.25,410.12 L748.17,409.97 L749.10,409.81 L750.03,409.65 L750.96,409.49 L751.88,409.32 L752.81,409.15 L753.74,408.98 L754.67,408.80 L755.59,408.61 L756.52,408.43 L757.45,408.24 L758.38,408.04 L759.31,407.85 L760.23,407.64 L761.16,407.44 L762.09,407.23 L763.02,407.02 L763.94,406.81 L764.87,406.59 L765.80,406.37 L766.73,406.15 L767.65,405.92 L768.58,405.69 L769.51,405.46 L770.44,405.22 L771.36,404.99 L772.29,404.75 L773.22,404.50 L774.15,404.26 L775.07,404.01 L776.00,403.76 L776.93,403.51 L777.86,403.26 L778.79,403.00 L779.71,402.75 L780.64,402.49 L781.57,402.23 L782.50,401.96 L783.42,401.70 L784.35,401.44 L785.28,401.17 L786.21,400.90 L787.13,400.63 L788.06,400.36 L788.99,400.09 L789.92,399.82 L790.84,399.55 L791.77,399.28 L792.70,399.00" fill="none" stroke="#ff7f00" stroke-width="2.35" stroke-linejoin="round" stroke-dasharray="9.8 8.9" stroke-dashoffset="2.0"/>
<path d="M124.80,233.91 L125.73,233.47 L126.66,233.03 L127.58,232.59 L128.51,232.15 L129.44,231.71 L130.37,231.26 L131.29,230.82 L132.22,230.37 L133.15,229.92 L134.08,229.47 L135.00,229.01 L135.93,228.56 L136.86,228.11 L137.79,227.65 L138.71,227.19 L139.64,226.73 L140.57,226.27 L141.50,225.81 L142.43,225.35 L143.35,224.89 L144.28,224.42 L145.21,223.96 L146.14,223.49 L147.06,223.03 L147.99,222.56 L148.92,222.09 L149.85,221.62 L150.77,221.15 L151.70,220.68 L152.63,220.21 L153.56,219.73 L154.48,219.26 L155.41,218.79 L156.34,218.31 L157.27,217.83 L158.19,217.36 L159.12,216.88 L160.05,216.40 L160.98,215.92 L161.91,215.45 L162.83,214.97 L163.76,214.49 L164.69,214.01 L165.62,213.53 L166.54,213.04 L167.47,212.56 L168.40,212.08 L169.33,211.60 L170.25,211.12 L171.18,210.63 L172.11,210.15 L173.04,209.67 L173.96,209.18 L174.89,208.70 L175.82,208.21 L176.75,207.73 L177.68,207.25 L178.60,206.76 L179.53,206.28 L180.46,205.79 L181.39,205.31 L182.31,204.82 L183.24,204.34 L184.17,203.86 L185.10,203.37 L186.02,202.89 L186.95,202.40 L187.88,201.92 L188.81,201.44 L189.73,200.95 L190.66,200.47 L191.59,199.99 L192.52,199.50 L193.45,199.02 L194.37,198.54 L195.30,198.06 L196.23,197.58 L197.16,197.09 L198.08,196.61 L199.01,196.13 L199.94,195.65 L200.87,195.18 L201.79,194.70 L202.72,194.22 L203.65,193.74 L204.58,193.27 L205.50,192.79 L206.43,192.31 L207.36,191.84 L208.29,191.37 L209.22,190.89 L210.14,190.42 L211.07,189.95 L212.00,189.48 L212.93,189.01 L213.85,188.54 L214.78,188.07 L215.71,187.60 L216.64,187.13 L217.56,186.67 L218.49,186.20 L219.42,185.74 L220.35,185.28 L221.27,184.82 L222.20,184.36 L223.13,183.90 L224.06,183.44 L224.99,182.98 L225.91,182.52 L226.84,182.07 L227.77,181.62 L228.70,181.16 L229.62,180.71 L230.55,180.26 L231.48,179.81 L232.41,179.37 L233.33,178.92 L234.26,178.47 L235.19,178.03 L236.12,177.59 L237.04,177.15 L237.97,176.71 L238.90,176.27 L239.83,175.84 L240.75,175.40 L241.68,174.97 L242.61,174.54 L243.54,174.11 L244.47,173.68 L245.39,173.25 L246.32,172.83 L247.25,172.41 L248.18,171.98 L249.10,171.56 L250.03,171.15 L250.96,170.73 L251.89,170.32 L252.81,169.90 L253.74,169.49 L254.67,169.08 L255.60,168.68 L256.52,168.27 L257.45,167.87 L258.38,167.47 L259.31,167.07 L260.24,166.67 L261.16,166.28 L262.09,165.88 L263.02,165.49 L263.95,165.10 L264.87,164.72 L265.80,164.33 L266.73,163.95 L267.66,163.57 L268.58,163.19 L269.51,162.82 L270.44,162.44 L271.37,162.07 L272.29,161.70 L273.22,161.34 L274.15,160.97 L275.08,160.61 L276.01,160.25 L276.93,159.89 L277.86,159.54 L278.79,159.19 L279.72,158.84 L280.64,158.49 L281.57,158.14 L282.50,157.80 L283.43,157.46 L284.35,157.13 L285.28,156.79 L286.21,156.46 L287.14,156.13 L288.06,155.80 L288.99,155.48 L289.92,155.16 L290.85,154.84 L291.78,154.52 L292.70,154.21 L293.63,153.90 L294.56,153.59 L295.49,153.29 L296.41,152.99 L297.34,152.69 L298.27,152.39 L299.20,152.10 L300.12,151.81 L301.05,151.52 L301.98,151.24 L302.91,150.95 L303.83,150.68 L304.76,150.40 L305.69,150.13 L306.62,149.86 L307.54,149.59 L308.47,149.33 L309.40,149.07 L310.33,148.81 L311.26,148.56 L312.18,148.31 L313.11,148.06 L314.04,147.82 L314.97,147.58 L315.89,147.34 L316.82,147.11 L317.75,146.88 L318.68,146.65 L319.60,146.43 L320.53,146.21 L321.46,145.99 L322.39,145.78 L323.31,145.57 L324.24,145.36 L325.17,145.16 L326.10,144.96 L327.03,144.76 L327.95,144.57 L328.88,144.38 L329.81,144.19 L330.74,144.01 L331.66,143.83 L332.59,143.66 L333.52,143.49 L334.45,143.32 L335.37,143.16 L336.30,143.00 L337.23,142.84 L338.16,142.69 L339.08,142.54 L340.01,142.40 L340.94,142.25 L341.87,142.12 L342.80,141.98 L343.72,141.85 L344.65,141.73 L345.58,141.61 L346.51,141.49 L347.43,141.38 L348.36,141.27 L349.29,141.16 L350.22,141.06 L351.14,140.96 L352.07,140.87 L353.00,140.78 L353.93,140.69 L354.85,140.61 L355.78,140.53 L356.71,140.46 L357.64,140.39 L358.57,140.32 L359.49,140.26 L360.42,140.20 L361.35,140.15 L362.28,140.10 L363.20,140.06 L364.13,140.02 L365.06,139.98 L365.99,139.95 L366.91,139.92 L367.84,139.90 L368.77,139.88 L369.70,139.87 L370.62,139.86 L371.55,139.85 L372.48,139.85 L373.41,139.86 L374.33,139.86 L375.26,139.88 L376.19,139.89 L377.12,139.91 L378.05,139.94 L378.97,139.97 L379.90,140.00 L380.83,140.04 L381.76,140.08 L382.68,140.13 L383.61,140.19 L384.54,140.24 L385.47,140.30 L386.39,140.37 L387.32,140.44 L388.25,140.52 L389.18,140.60 L390.10,140.68 L391.03,140.77 L391.96,140.87 L392.89,140.96 L393.82,141.07 L394.74,141.18 L395.67,141.29 L396.60,141.41 L397.53,141.53 L398.45,141.66 L399.38,141.79 L400.31,141.92 L401.24,142.06 L402.16,142.21 L403.09,142.36 L404.02,142.52 L404.95,142.68 L405.87,142.84 L406.80,143.01 L407.73,143.18 L408.66,143.36 L409.59,143.54 L410.51,143.73 L411.44,143.92 L412.37,144.12 L413.30,144.32 L414.22,144.53 L415.15,144.74 L416.08,144.96 L417.01,145.18 L417.93,145.40 L418.86,145.63 L419.79,145.87 L420.72,146.10 L421.64,146.35 L422.57,146.60 L423.50,146.85 L424.43,147.11 L425.36,147.37 L426.28,147.63 L427.21,147.90 L428.14,148.18 L429.07,148.46 L429.99,148.74 L430.92,149.03 L431.85,149.32 L432.78,149.62 L433.70,149.92 L434.63,150.23 L435.56,150.53 L436.49,150.85 L437.41,151.17 L438.34,151.49 L439.27,151.82 L440.20,152.15 L441.12,152.48 L442.05,152.82 L442.98,153.17 L443.91,153.51 L444.84,153.87 L445.76,154.22 L446.69,154.58 L447.62,154.94 L448.55,155.31 L449.47,155.68 L450.40,156.06 L451.33,156.44 L452.26,156.82 L453.18,157.21 L454.11,157.60 L455.04,157.99 L455.97,158.39 L456.89,158.79 L457.82,159.20 L458.75,159.61 L459.68,160.02 L460.61,160.43 L461.53,160.85 L462.46,161.27 L463.39,161.70 L464.32,162.13 L465.24,162.56 L466.17,163.00 L467.10,163.44 L468.03,163.88 L468.95,164.32 L469.88,164.77 L470.81,165.22 L471.74,165.68 L472.66,166.14 L473.59,166.60 L474.52,167.06 L475.45,167.52 L476.38,167.99 L477.30,168.46 L478.23,168.94 L479.16,169.41 L480.09,169.89 L481.01,170.37 L481.94,170.86 L482.87,171.34 L483.80,171.83 L484.72,172.32 L485.65,172.82 L486.58,173.31 L487.51,173.81 L488.43,174.31 L489.36,174.81 L490.29,175.31 L491.22,175.82 L492.15,176.32 L493.07,176.83 L494.00,177.34 L494.93,177.86 L495.86,178.37 L496.78,178.89 L497.71,179.40 L498.64,179.92 L499.57,180.44 L500.49,180.96 L501.42,181.49 L502.35,182.01 L503.28,182.54 L504.20,183.06 L505.13,183.59 L506.06,184.12 L506.99,184.65 L507.91,185.18 L508.84,185.71 L509.77,186.25 L510.70,186.78 L511.63,187.32 L512.55,187.85 L513.48,188.39 L514.41,188.92 L515.34,189.46 L516.26,190.00 L517.19,190.54 L518.12,191.08 L519.05,191.62 L519.97,192.16 L520.90,192.70 L521.83,193.24 L522.76,193.78 L523.68,194.32 L524.61,194.87 L525.54,195.41 L526.47,195.95 L527.40,196.49 L528.32,197.03 L529.25,197.58 L530.18,198.12 L531.11,198.66 L532.03,199.20 L532.96,199.74 L533.89,200.28 L534.82,200.83 L535.74,201.37 L536.67,201.91 L537.60,202.45 L538.53,202.99 L539.45,203.53 L540.38,204.06 L541.31,204.60 L542.24,205.14 L543.17,205.68 L544.09,206.21 L545.02,206.75 L545.95,207.28 L546.88,207.82 L547.80,208.35 L548.73,208.88 L549.66,209.41 L550.59,209.94 L551.51,210.47 L552.44,211.00 L553.37,211.52 L554.30,212.05 L555.22,212.57 L556.15,213.10 L557.08,213.62 L558.01,214.14 L558.94,214.66 L559.86,215.18 L560.79,215.69 L561.72,216.21 L562.65,216.72 L563.57,217.24 L564.50,217.75 L565.43,218.26 L566.36,218.76 L567.28,219.27 L568.21,219.77 L569.14,220.28 L570.07,220.78 L570.99,221.27 L571.92,221.77 L572.85,222.27 L573.78,222.76 L574.70,223.25 L575.63,223.74 L576.56,224.23 L577.49,224.71 L578.42,225.20 L579.34,225.68 L580.27,226.15 L581.20,226.63 L582.13,227.11 L583.05,227.58 L583.98,228.05 L584.91,228.51 L585.84,228.98 L586.76,229.44 L587.69,229.90 L588.62,230.36 L589.55,230.82 L590.47,231.27 L591.40,231.72 L592.33,232.17 L593.26,232.61 L594.19,233.05 L595.11,233.49 L596.04,233.93 L596.97,234.36 L597.90,234.79 L598.82,235.22 L599.75,235.65 L600.68,236.07 L601.61,236.49 L602.53,236.91 L603.46,237.32 L604.39,237.73 L605.32,238.14 L606.24,238.55 L607.17,238.95 L608.10,239.35 L609.03,239.74 L609.96,240.14 L610.88,240.52 L611.81,240.91 L612.74,241.29 L613.67,241.67 L614.59,242.05 L615.52,242.42 L616.45,242.79 L617.38,243.16 L618.30,243.52 L619.23,243.88 L620.16,244.23 L621.09,244.59 L622.01,244.94 L622.94,245.28 L623.87,245.62 L624.80,245.96 L625.73,246.29 L626.65,246.62 L627.58,246.95 L628.51,247.27 L629.44,247.59 L630.36,247.91 L631.29,248.22 L632.22,248.53 L633.15,248.83 L634.07,249.13 L635.00,249.43 L635.93,249.72 L636.86,250.01 L637.78,250.30 L638.71,250.58 L639.64,250.85 L640.57,251.13 L641.49,251.40 L642.42,251.66 L643.35,251.92 L644.28,252.18 L645.21,252.43 L646.13,252.68 L647.06,252.92 L647.99,253.16 L648.92,253.40 L649.84,253.63 L650.77,253.85 L651.70,254.08 L652.63,254.30 L653.55,254.51 L654.48,254.72 L655.41,254.92 L656.34,255.13 L657.26,255.32 L658.19,255.51 L659.12,255.70 L660.05,255.88 L660.98,256.06 L661.90,256.24 L662.83,256.41 L663.76,256.57 L664.69,256.73 L665.61,256.89 L666.54,257.04 L667.47,257.19 L668.40,257.33 L669.32,257.46 L670.25,257.60 L671.18,257.72 L672.11,257.85 L673.03,257.97 L673.96,258.08 L674.89,258.19 L675.82,258.29 L676.75,258.39 L677.67,258.49 L678.60,258.58 L679.53,258.66 L680.46,258.74 L681.38,258.82 L682.31,258.89 L683.24,258.95 L684.17,259.01 L685.09,259.07 L686.02,259.12 L686.95,259.16 L687.88,259.20 L688.80,259.24 L689.73,259.27 L690.66,259.29 L691.59,259.31 L692.51,259.33 L693.44,259.34 L694.37,259.35 L695.30,259.35 L696.23,259.34 L697.15,259.33 L698.08,259.32 L699.01,259.30 L699.94,259.27 L700.86,259.24 L701.79,259.20 L702.72,259.16 L703.65,259.12 L704.57,259.07 L705.50,259.01 L706.43,258.95 L707.36,258.88 L708.28,258.81 L709.21,258.74 L710.14,258.65 L711.07,258.57 L712.00,258.48 L712.92,258.38 L713.85,258.28 L714.78,258.17 L715.71,258.06 L716.63,257.94 L717.56,257.82 L718.49,257.69 L719.42,257.56 L720.34,257.43 L721.27,257.29 L722.20,257.14 L723.13,256.99 L724.05,256.83 L724.98,256.67 L725.91,256.50 L726.84,256.33 L727.77,256.16 L728.69,255.98 L729.62,255.79 L730.55,255.60 L731.48,255.41 L732.40,255.21 L733.33,255.00 L734.26,254.80 L735.19,254.58 L736.11,254.37 L737.04,254.14 L737.97,253.92 L738.90,253.69 L739.82,253.45 L740.75,253.21 L741.68,252.97 L742.61,252.72 L743.54,252.47 L744.46,252.21 L745.39,251.95 L746.32,251.68 L747.25,251.41 L748.17,251.14 L749.10,250.86 L750.03,250.58 L750.96,250.29 L751.88,250.00 L752.81,249.71 L753.74,249.41 L754.67,249.11 L755.59,248.81 L756.52,248.50 L757.45,248.19 L758.38,247.87 L759.31,247.55 L760.23,247.23 L761.16,246.91 L762.09,246.58 L763.02,246.24 L763.94,245.91 L764.87,245.57 L765.80,245.23 L766.73,244.88 L767.65,244.53 L768.58,244.18 L769.51,243.83 L770.44,243.47 L771.36,243.11 L772.29,242.75 L773.22,242.39 L774.15,242.02 L775.07,241.65 L776.00,241.28 L776.93,240.90 L777.86,240.53 L778.79,240.15 L779.71,239.77 L780.64,239.38 L781.57,239.00 L782.50,238.61 L783.42,238.22 L784.35,237.83 L785.28,237.44 L786.21,237.04 L787.13,236.65 L788.06,236.25 L788.99,235.85 L789.92,235.45 L790.84,235.05 L791.77,234.65 L792.70,234.25" fill="none" stroke="#ff0000" stroke-width="2.35" stroke-linejoin="round"/>
<path d="M124.80,252.91 L125.73,252.50 L126.66,252.10 L127.58,251.69 L128.51,251.28 L129.44,250.87 L130.37,250.46 L131.29,250.04 L132.22,249.62 L133.15,249.20 L134.08,248.78 L135.00,248.36 L135.93,247.93 L136.86,247.50 L137.79,247.07 L138.71,246.64 L139.64,246.21 L140.57,245.77 L141.50,245.33 L142.43,244.89 L143.35,244.45 L144.28,244.01 L145.21,243.56 L146.14,243.11 L147.06,242.66 L147.99,242.21 L148.92,241.76 L149.85,241.30 L150.77,240.85 L151.70,240.39 L152.63,239.93 L153.56,239.46 L154.48,239.00 L155.41,238.53 L156.34,238.06 L157.27,237.59 L158.19,237.12 L159.12,236.64 L160.05,236.17 L160.98,235.69 L161.91,235.21 L162.83,234.73 L163.76,234.24 L164.69,233.76 L165.62,233.27 L166.54,232.78 L167.47,232.29 L168.40,231.79 L169.33,231.30 L170.25,230.80 L171.18,230.30 L172.11,229.80 L173.04,229.30 L173.96,228.79 L174.89,228.28 L175.82,227.77 L176.75,227.26 L177.68,226.75 L178.60,226.24 L179.53,225.72 L180.46,225.20 L181.39,224.68 L182.31,224.16 L183.24,223.64 L184.17,223.11 L185.10,222.58 L186.02,222.05 L186.95,221.52 L187.88,220.99 L188.81,220.45 L189.73,219.91 L190.66,219.38 L191.59,218.83 L192.52,218.29 L193.45,217.75 L194.37,217.20 L195.30,216.65 L196.23,216.10 L197.16,215.55 L198.08,214.99 L199.01,214.43 L199.94,213.87 L200.87,213.31 L201.79,212.75 L202.72,212.19 L203.65,211.62 L204.58,211.05 L205.50,210.48 L206.43,209.91 L207.36,209.33 L208.29,208.75 L209.22,208.18 L210.14,207.59 L211.07,207.01 L212.00,206.43 L212.93,205.84 L213.85,205.25 L214.78,204.66 L215.71,204.06 L216.64,203.47 L217.56,202.87 L218.49,202.27 L219.42,201.67 L220.35,201.07 L221.27,200.46 L222.20,199.85 L223.13,199.24 L224.06,198.63 L224.99,198.01 L225.91,197.40 L226.84,196.78 L227.77,196.16 L228.70,195.53 L229.62,194.91 L230.55,194.28 L231.48,193.65 L232.41,193.02 L233.33,192.39 L234.26,191.75 L235.19,191.11 L236.12,190.47 L237.04,189.83 L237.97,189.19 L238.90,188.54 L239.83,187.90 L240.75,187.25 L241.68,186.60 L242.61,185.94 L243.54,185.29 L244.47,184.63 L245.39,183.97 L246.32,183.32 L247.25,182.65 L248.18,181.99 L249.10,181.33 L250.03,180.66 L250.96,180.00 L251.89,179.33 L252.81,178.66 L253.74,177.99 L254.67,177.32 L255.60,176.65 L256.52,175.98 L257.45,175.30 L258.38,174.63 L259.31,173.96 L260.24,173.28 L261.16,172.61 L262.09,171.93 L263.02,171.25 L263.95,170.58 L264.87,169.90 L265.80,169.22 L266.73,168.55 L267.66,167.87 L268.58,167.20 L269.51,166.52 L270.44,165.85 L271.37,165.17 L272.29,164.50 L273.22,163.83 L274.15,163.15 L275.08,162.48 L276.01,161.81 L276.93,161.15 L277.86,160.48 L278.79,159.82 L279.72,159.15 L280.64,158.49 L281.57,157.83 L282.50,157.17 L283.43,156.52 L284.35,155.87 L285.28,155.22 L286.21,154.57 L287.14,153.92 L288.06,153.28 L288.99,152.65 L289.92,152.01 L290.85,151.38 L291.78,150.75 L292.70,150.13 L293.63,149.51 L294.56,148.89 L295.49,148.28 L296.41,147.67 L297.34,147.06 L298.27,146.46 L299.20,145.87 L300.12,145.28 L301.05,144.69 L301.98,144.11 L302.91,143.53 L303.83,142.96 L304.76,142.39 L305.69,141.83 L306.62,141.27 L307.54,140.72 L308.47,140.17 L309.40,139.63 L310.33,139.09 L311.26,138.56 L312.18,138.03 L313.11,137.51 L314.04,136.99 L314.97,136.48 L315.89,135.97 L316.82,135.47 L317.75,134.97 L318.68,134.48 L319.60,134.00 L320.53,133.51 L321.46,133.04 L322.39,132.57 L323.31,132.10 L324.24,131.64 L325.17,131.18 L326.10,130.73 L327.03,130.29 L327.95,129.84 L328.88,129.41 L329.81,128.97 L330.74,128.55 L331.66,128.12 L332.59,127.71 L333.52,127.29 L334.45,126.88 L335.37,126.48 L336.30,126.08 L337.23,125.69 L338.16,125.30 L339.08,124.91 L340.01,124.53 L340.94,124.15 L341.87,123.78 L342.80,123.41 L343.72,123.05 L344.65,122.69 L345.58,122.34 L346.51,121.99 L347.43,121.64 L348.36,121.30 L349.29,120.97 L350.22,120.64 L351.14,120.31 L352.07,119.99 L353.00,119.67 L353.93,119.36 L354.85,119.05 L355.78,118.74 L356.71,118.44 L357.64,118.15 L358.57,117.86 L359.49,117.57 L360.42,117.29 L361.35,117.01 L362.28,116.74 L363.20,116.47 L364.13,116.21 L365.06,115.95 L365.99,115.70 L366.91,115.45 L367.84,115.20 L368.77,114.96 L369.70,114.73 L370.62,114.50 L371.55,114.27 L372.48,114.05 L373.41,113.83 L374.33,113.62 L375.26,113.42 L376.19,113.21 L377.12,113.02 L378.05,112.83 L378.97,112.64 L379.90,112.46 L380.83,112.28 L381.76,112.11 L382.68,111.94 L383.61,111.78 L384.54,111.63 L385.47,111.48 L386.39,111.33 L387.32,111.19 L388.25,111.06 L389.18,110.93 L390.10,110.80 L391.03,110.68 L391.96,110.57 L392.89,110.46 L393.82,110.36 L394.74,110.27 L395.67,110.18 L396.60,110.09 L397.53,110.01 L398.45,109.94 L399.38,109.87 L400.31,109.81 L401.24,109.76 L402.16,109.71 L403.09,109.67 L404.02,109.63 L404.95,109.60 L405.87,109.58 L406.80,109.56 L407.73,109.55 L408.66,109.55 L409.59,109.55 L410.51,109.56 L411.44,109.58 L412.37,109.60 L413.30,109.63 L414.22,109.67 L415.15,109.72 L416.08,109.77 L417.01,109.83 L417.93,109.89 L418.86,109.97 L419.79,110.05 L420.72,110.14 L421.64,110.23 L422.57,110.33 L423.50,110.44 L424.43,110.56 L425.36,110.69 L426.28,110.82 L427.21,110.96 L428.14,111.11 L429.07,111.27 L429.99,111.43 L430.92,111.60 L431.85,111.78 L432.78,111.97 L433.70,112.16 L434.63,112.37 L435.56,112.58 L436.49,112.80 L437.41,113.02 L438.34,113.26 L439.27,113.50 L440.20,113.75 L441.12,114.01 L442.05,114.27 L442.98,114.55 L443.91,114.83 L444.84,115.12 L445.76,115.41 L446.69,115.72 L447.62,116.03 L448.55,116.35 L449.47,116.68 L450.40,117.02 L451.33,117.36 L452.26,117.71 L453.18,118.07 L454.11,118.44 L455.04,118.81 L455.97,119.20 L456.89,119.58 L457.82,119.98 L458.75,120.39 L459.68,120.80 L460.61,121.22 L461.53,121.64 L462.46,122.08 L463.39,122.52 L464.32,122.97 L465.24,123.42 L466.17,123.89 L467.10,124.36 L468.03,124.83 L468.95,125.31 L469.88,125.80 L470.81,126.30 L471.74,126.80 L472.66,127.31 L473.59,127.83 L474.52,128.35 L475.45,128.88 L476.38,129.42 L477.30,129.96 L478.23,130.51 L479.16,131.06 L480.09,131.62 L481.01,132.19 L481.94,132.76 L482.87,133.33 L483.80,133.92 L484.72,134.50 L485.65,135.10 L486.58,135.69 L487.51,136.30 L488.43,136.91 L489.36,137.52 L490.29,138.14 L491.22,138.76 L492.15,139.39 L493.07,140.02 L494.00,140.66 L494.93,141.30 L495.86,141.94 L496.78,142.59 L497.71,143.25 L498.64,143.91 L499.57,144.57 L500.49,145.23 L501.42,145.90 L502.35,146.58 L503.28,147.25 L504.20,147.93 L505.13,148.62 L506.06,149.30 L506.99,150.00 L507.91,150.69 L508.84,151.39 L509.77,152.09 L510.70,152.79 L511.63,153.50 L512.55,154.20 L513.48,154.92 L514.41,155.63 L515.34,156.35 L516.26,157.06 L517.19,157.79 L518.12,158.51 L519.05,159.24 L519.97,159.96 L520.90,160.69 L521.83,161.43 L522.76,162.16 L523.68,162.90 L524.61,163.63 L525.54,164.37 L526.47,165.11 L527.40,165.86 L528.32,166.60 L529.25,167.35 L530.18,168.09 L531.11,168.84 L532.03,169.59 L532.96,170.34 L533.89,171.09 L534.82,171.84 L535.74,172.60 L536.67,173.35 L537.60,174.10 L538.53,174.86 L539.45,175.61 L540.38,176.37 L541.31,177.13 L542.24,177.88 L543.17,178.64 L544.09,179.40 L545.02,180.16 L545.95,180.92 L546.88,181.67 L547.80,182.43 L548.73,183.19 L549.66,183.95 L550.59,184.70 L551.51,185.46 L552.44,186.22 L553.37,186.97 L554.30,187.73 L555.22,188.49 L556.15,189.24 L557.08,189.99 L558.01,190.75 L558.94,191.50 L559.86,192.25 L560.79,193.00 L561.72,193.75 L562.65,194.50 L563.57,195.25 L564.50,195.99 L565.43,196.74 L566.36,197.48 L567.28,198.22 L568.21,198.97 L569.14,199.71 L570.07,200.44 L570.99,201.18 L571.92,201.91 L572.85,202.65 L573.78,203.38 L574.70,204.11 L575.63,204.84 L576.56,205.56 L577.49,206.29 L578.42,207.01 L579.34,207.73 L580.27,208.45 L581.20,209.16 L582.13,209.87 L583.05,210.58 L583.98,211.29 L584.91,212.00 L585.84,212.70 L586.76,213.40 L587.69,214.10 L588.62,214.80 L589.55,215.49 L590.47,216.18 L591.40,216.87 L592.33,217.56 L593.26,218.24 L594.19,218.92 L595.11,219.59 L596.04,220.27 L596.97,220.94 L597.90,221.61 L598.82,222.27 L599.75,222.93 L600.68,223.59 L601.61,224.24 L602.53,224.90 L603.46,225.54 L604.39,226.19 L605.32,226.83 L606.24,227.47 L607.17,228.11 L608.10,228.74 L609.03,229.37 L609.96,229.99 L610.88,230.61 L611.81,231.23 L612.74,231.84 L613.67,232.45 L614.59,233.06 L615.52,233.66 L616.45,234.26 L617.38,234.86 L618.30,235.45 L619.23,236.04 L620.16,236.62 L621.09,237.20 L622.01,237.78 L622.94,238.35 L623.87,238.91 L624.80,239.48 L625.73,240.04 L626.65,240.59 L627.58,241.14 L628.51,241.69 L629.44,242.23 L630.36,242.77 L631.29,243.30 L632.22,243.83 L633.15,244.35 L634.07,244.87 L635.00,245.39 L635.93,245.90 L636.86,246.41 L637.78,246.91 L638.71,247.41 L639.64,247.90 L640.57,248.39 L641.49,248.87 L642.42,249.35 L643.35,249.82 L644.28,250.29 L645.21,250.76 L646.13,251.21 L647.06,251.67 L647.99,252.12 L648.92,252.56 L649.84,253.00 L650.77,253.44 L651.70,253.87 L652.63,254.29 L653.55,254.71 L654.48,255.12 L655.41,255.53 L656.34,255.94 L657.26,256.34 L658.19,256.73 L659.12,257.12 L660.05,257.50 L660.98,257.88 L661.90,258.25 L662.83,258.62 L663.76,258.99 L664.69,259.34 L665.61,259.69 L666.54,260.04 L667.47,260.38 L668.40,260.72 L669.32,261.05 L670.25,261.37 L671.18,261.69 L672.11,262.01 L673.03,262.32 L673.96,262.62 L674.89,262.92 L675.82,263.21 L676.75,263.50 L677.67,263.78 L678.60,264.05 L679.53,264.32 L680.46,264.59 L681.38,264.85 L682.31,265.10 L683.24,265.35 L684.17,265.59 L685.09,265.83 L686.02,266.06 L686.95,266.28 L687.88,266.50 L688.80,266.71 L689.73,266.92 L690.66,267.13 L691.59,267.32 L692.51,267.51 L693.44,267.70 L694.37,267.88 L695.30,268.05 L696.23,268.22 L697.15,268.38 L698.08,268.54 L699.01,268.69 L699.94,268.84 L700.86,268.98 L701.79,269.11 L702.72,269.25 L703.65,269.37 L704.57,269.49 L705.50,269.61 L706.43,269.72 L707.36,269.82 L708.28,269.92 L709.21,270.02 L710.14,270.11 L711.07,270.19 L712.00,270.26 L712.92,270.33 L713.85,270.40 L714.78,270.45 L715.71,270.50 L716.63,270.54 L717.56,270.58 L718.49,270.61 L719.42,270.63 L720.34,270.64 L721.27,270.65 L722.20,270.65 L723.13,270.65 L724.05,270.64 L724.98,270.62 L725.91,270.60 L726.84,270.57 L727.77,270.54 L728.69,270.50 L729.62,270.46 L730.55,270.41 L731.48,270.36 L732.40,270.30 L733.33,270.23 L734.26,270.16 L735.19,270.08 L736.11,270.00 L737.04,269.91 L737.97,269.82 L738.90,269.72 L739.82,269.61 L740.75,269.50 L741.68,269.39 L742.61,269.27 L743.54,269.14 L744.46,269.01 L745.39,268.87 L746.32,268.73 L747.25,268.58 L748.17,268.43 L749.10,268.27 L750.03,268.11 L750.96,267.94 L751.88,267.77 L752.81,267.59 L753.74,267.40 L754.67,267.21 L755.59,267.02 L756.52,266.82 L757.45,266.61 L758.38,266.40 L759.31,266.19 L760.23,265.97 L761.16,265.74 L762.09,265.51 L763.02,265.27 L763.94,265.03 L764.87,264.79 L765.80,264.54 L766.73,264.28 L767.65,264.02 L768.58,263.76 L769.51,263.49 L770.44,263.21 L771.36,262.93 L772.29,262.65 L773.22,262.36 L774.15,262.07 L775.07,261.77 L776.00,261.47 L776.93,261.16 L777.86,260.85 L778.79,260.53 L779.71,260.21 L780.64,259.88 L781.57,259.56 L782.50,259.22 L783.42,258.88 L784.35,258.54 L785.28,258.19 L786.21,257.84 L787.13,257.49 L788.06,257.13 L788.99,256.76 L789.92,256.39 L790.84,256.02 L791.77,255.64 L792.70,255.26" fill="none" stroke="#ff0000" stroke-width="2.35" stroke-linejoin="round" stroke-dasharray="9.8 8.9" stroke-dashoffset="1.0"/>
</g>
<path d="M162.2,193.8L168.4,187.6L174.6,193.8L168.4,200.0Z M168.4,185.6V202.0 M165.1,185.6h6.6 M165.1,202.0h6.6" fill="none" stroke="#ff0000" stroke-width="1.2"/>
<path d="M247.3,182.7L253.5,176.5L259.7,182.7L253.5,188.9Z M253.5,175.2V190.2 M250.2,175.2h6.6 M250.2,190.2h6.6" fill="none" stroke="#ff0000" stroke-width="1.2"/>
<path d="M312.7,163.3L318.9,157.1L325.1,163.3L318.9,169.5Z M318.9,155.6V171.0 M315.6,155.6h6.6 M315.6,171.0h6.6" fill="none" stroke="#ff0000" stroke-width="1.2"/>
<path d="M398.8,139.0L405.0,132.8L411.2,139.0L405.0,145.2Z M405.0,131.8V146.2 M401.7,131.8h6.6 M401.7,146.2h6.6" fill="none" stroke="#ff0000" stroke-width="1.2"/>
<path d="M482.3,212.9L488.5,206.7L494.7,212.9L488.5,219.1Z M488.5,202.6V223.2 M485.2,202.6h6.6 M485.2,223.2h6.6" fill="none" stroke="#ff0000" stroke-width="1.2"/>
<path d="M748.1,201.8L754.3,195.6L760.5,201.8L754.3,208.0Z M754.3,193.1V210.5 M751.0,193.1h6.6 M751.0,210.5h6.6" fill="none" stroke="#ff0000" stroke-width="1.2"/>
<path d="M124.40,514.0v-9.6 M124.40,39.3v9.6 M142.97,514.0v-4.8 M142.97,39.3v4.8 M161.54,514.0v-4.8 M161.54,39.3v4.8 M180.12,514.0v-4.8 M180.12,39.3v4.8 M198.69,514.0v-4.8 M198.69,39.3v4.8 M217.26,514.0v-4.8 M217.26,39.3v4.8 M235.83,514.0v-4.8 M235.83,39.3v4.8 M254.41,514.0v-4.8 M254.41,39.3v4.8 M272.98,514.0v-4.8 M272.98,39.3v4.8 M291.55,514.0v-9.6 M291.55,39.3v9.6 M310.12,514.0v-4.8 M310.12,39.3v4.8 M328.69,514.0v-4.8 M328.69,39.3v4.8 M347.27,514.0v-4.8 M347.27,39.3v4.8 M365.84,514.0v-4.8 M365.84,39.3v4.8 M384.41,514.0v-4.8 M384.41,39.3v4.8 M402.98,514.0v-4.8 M402.98,39.3v4.8 M421.56,514.0v-4.8 M421.56,39.3v4.8 M440.13,514.0v-4.8 M440.13,39.3v4.8 M458.70,514.0v-9.6 M458.70,39.3v9.6 M477.27,514.0v-4.8 M477.27,39.3v4.8 M495.84,514.0v-4.8 M495.84,39.3v4.8 M514.42,514.0v-4.8 M514.42,39.3v4.8 M532.99,514.0v-4.8 M532.99,39.3v4.8 M551.56,514.0v-4.8 M551.56,39.3v4.8 M570.13,514.0v-4.8 M570.13,39.3v4.8 M588.71,514.0v-4.8 M588.71,39.3v4.8 M607.28,514.0v-4.8 M607.28,39.3v4.8 M625.85,514.0v-9.6 M625.85,39.3v9.6 M644.42,514.0v-4.8 M644.42,39.3v4.8 M662.99,514.0v-4.8 M662.99,39.3v4.8 M681.57,514.0v-4.8 M681.57,39.3v4.8 M700.14,514.0v-4.8 M700.14,39.3v4.8 M718.71,514.0v-4.8 M718.71,39.3v4.8 M737.28,514.0v-4.8 M737.28,39.3v4.8 M755.86,514.0v-4.8 M755.86,39.3v4.8 M774.43,514.0v-4.8 M774.43,39.3v4.8 M793.00,514.0v-9.6 M793.00,39.3v9.6 M124.4,514.00h13.3 M793.0,514.00h-13.3 M124.4,507.22h6.6 M793.0,507.22h-6.6 M124.4,500.44h6.6 M793.0,500.44h-6.6 M124.4,493.66h6.6 M793.0,493.66h-6.6 M124.4,486.87h6.6 M793.0,486.87h-6.6 M124.4,480.09h6.6 M793.0,480.09h-6.6 M124.4,473.31h6.6 M793.0,473.31h-6.6 M124.4,466.53h6.6 M793.0,466.53h-6.6 M124.4,459.75h6.6 M793.0,459.75h-6.6 M124.4,452.97h6.6 M793.0,452.97h-6.6 M124.4,446.19h13.3 M793.0,446.19h-13.3 M124.4,439.40h6.6 M793.0,439.40h-6.6 M124.4,432.62h6.6 M793.0,432.62h-6.6 M124.4,425.84h6.6 M793.0,425.84h-6.6 M124.4,419.06h6.6 M793.0,419.06h-6.6 M124.4,412.28h6.6 M793.0,412.28h-6.6 M124.4,405.50h6.6 M793.0,405.50h-6.6 M124.4,398.72h6.6 M793.0,398.72h-6.6 M124.4,391.93h6.6 M793.0,391.93h-6.6 M124.4,385.15h6.6 M793.0,385.15h-6.6 M124.4,378.37h13.3 M793.0,378.37h-13.3 M124.4,371.59h6.6 M793.0,371.59h-6.6 M124.4,364.81h6.6 M793.0,364.81h-6.6 M124.4,358.03h6.6 M793.0,358.03h-6.6 M124.4,351.25h6.6 M793.0,351.25h-6.6 M124.4,344.46h6.6 M793.0,344.46h-6.6 M124.4,337.68h6.6 M793.0,337.68h-6.6 M124.4,330.90h6.6 M793.0,330.90h-6.6 M124.4,324.12h6.6 M793.0,324.12h-6.6 M124.4,317.34h6.6 M793.0,317.34h-6.6 M124.4,310.56h13.3 M793.0,310.56h-13.3 M124.4,303.78h6.6 M793.0,303.78h-6.6 M124.4,296.99h6.6 M793.0,296.99h-6.6 M124.4,290.21h6.6 M793.0,290.21h-6.6 M124.4,283.43h6.6 M793.0,283.43h-6.6 M124.4,276.65h6.6 M793.0,276.65h-6.6 M124.4,269.87h6.6 M793.0,269.87h-6.6 M124.4,263.09h6.6 M793.0,263.09h-6.6 M124.4,256.31h6.6 M793.0,256.31h-6.6 M124.4,249.52h6.6 M793.0,249.52h-6.6 M124.4,242.74h13.3 M793.0,242.74h-13.3 M124.4,235.96h6.6 M793.0,235.96h-6.6 M124.4,229.18h6.6 M793.0,229.18h-6.6 M124.4,222.40h6.6 M793.0,222.40h-6.6 M124.4,215.62h6.6 M793.0,215.62h-6.6 M124.4,208.84h6.6 M793.0,208.84h-6.6 M124.4,202.05h6.6 M793.0,202.05h-6.6 M124.4,195.27h6.6 M793.0,195.27h-6.6 M124.4,188.49h6.6 M793.0,188.49h-6.6 M124.4,181.71h6.6 M793.0,181.71h-6.6 M124.4,174.93h13.3 M793.0,174.93h-13.3 M124.4,168.15h6.6 M793.0,168.15h-6.6 M124.4,161.37h6.6 M793.0,161.37h-6.6 M124.4,154.58h6.6 M793.0,154.58h-6.6 M124.4,147.80h6.6 M793.0,147.80h-6.6 M124.4,141.02h6.6 M793.0,141.02h-6.6 M124.4,134.24h6.6 M793.0,134.24h-6.6 M124.4,127.46h6.6 M793.0,127.46h-6.6 M124.4,120.68h6.6 M793.0,120.68h-6.6 M124.4,113.90h6.6 M793.0,113.90h-6.6 M124.4,107.11h13.3 M793.0,107.11h-13.3 M124.4,100.33h6.6 M793.0,100.33h-6.6 M124.4,93.55h6.6 M793.0,93.55h-6.6 M124.4,86.77h6.6 M793.0,86.77h-6.6 M124.4,79.99h6.6 M793.0,79.99h-6.6 M124.4,73.21h6.6 M793.0,73.21h-6.6 M124.4,66.43h6.6 M793.0,66.43h-6.6 M124.4,59.64h6.6 M793.0,59.64h-6.6 M124.4,52.86h6.6 M793.0,52.86h-6.6 M124.4,46.08h6.6 M793.0,46.08h-6.6 M124.4,39.30h13.3 M793.0,39.30h-13.3" fill="none" stroke="#000" stroke-width="1.6"/>
<rect x="124.4" y="39.3" width="668.60" height="474.70" fill="none" stroke="#000" stroke-width="1.7" stroke-linejoin="round"/>
<g opacity="0.999">
<text x="124.8" y="543.5" font-size="23.6" text-anchor="middle">0</text>
<text x="291.8" y="543.5" font-size="23.6" text-anchor="middle">90</text>
<text x="458.8" y="543.5" font-size="23.6" text-anchor="middle">180</text>
<text x="625.7" y="543.5" font-size="23.6" text-anchor="middle">270</text>
<text x="792.7" y="543.5" font-size="23.6" text-anchor="middle">360</text>
<text x="118.6" y="513.9" font-size="23.6" text-anchor="end">0.000</text>
<text x="118.6" y="454.2" font-size="23.6" text-anchor="end">0.001</text>
<text x="118.6" y="386.4" font-size="23.6" text-anchor="end">0.002</text>
<text x="118.6" y="318.7" font-size="23.6" text-anchor="end">0.003</text>
<text x="118.6" y="250.9" font-size="23.6" text-anchor="end">0.004</text>
<text x="118.6" y="183.1" font-size="23.6" text-anchor="end">0.005</text>
<text x="118.6" y="115.3" font-size="23.6" text-anchor="end">0.006</text>
<text x="118.6" y="53.2" font-size="23.6" text-anchor="end">0.007</text>
<text transform="translate(459.3,569.4) scale(1.013,1)" font-size="23.6" text-anchor="middle">Degrees from Transit</text>
<text transform="translate(40.5,276.0) rotate(-90) scale(1.012,1)" font-size="23.6" text-anchor="middle">Planet/Star Flux Ratio</text>
<text x="736.6" y="73.8" font-size="20.4" fill="#ff0000">24</text>
<text x="736.6" y="100.7" font-size="20.4" fill="#ff7f00">8.0</text>
<text x="736.6" y="127.5" font-size="20.4" fill="#006400">4.5</text>
<text x="736.6" y="154.3" font-size="20.4" fill="#00bfff">3.6</text>
</g>
</svg>
</body></html>
